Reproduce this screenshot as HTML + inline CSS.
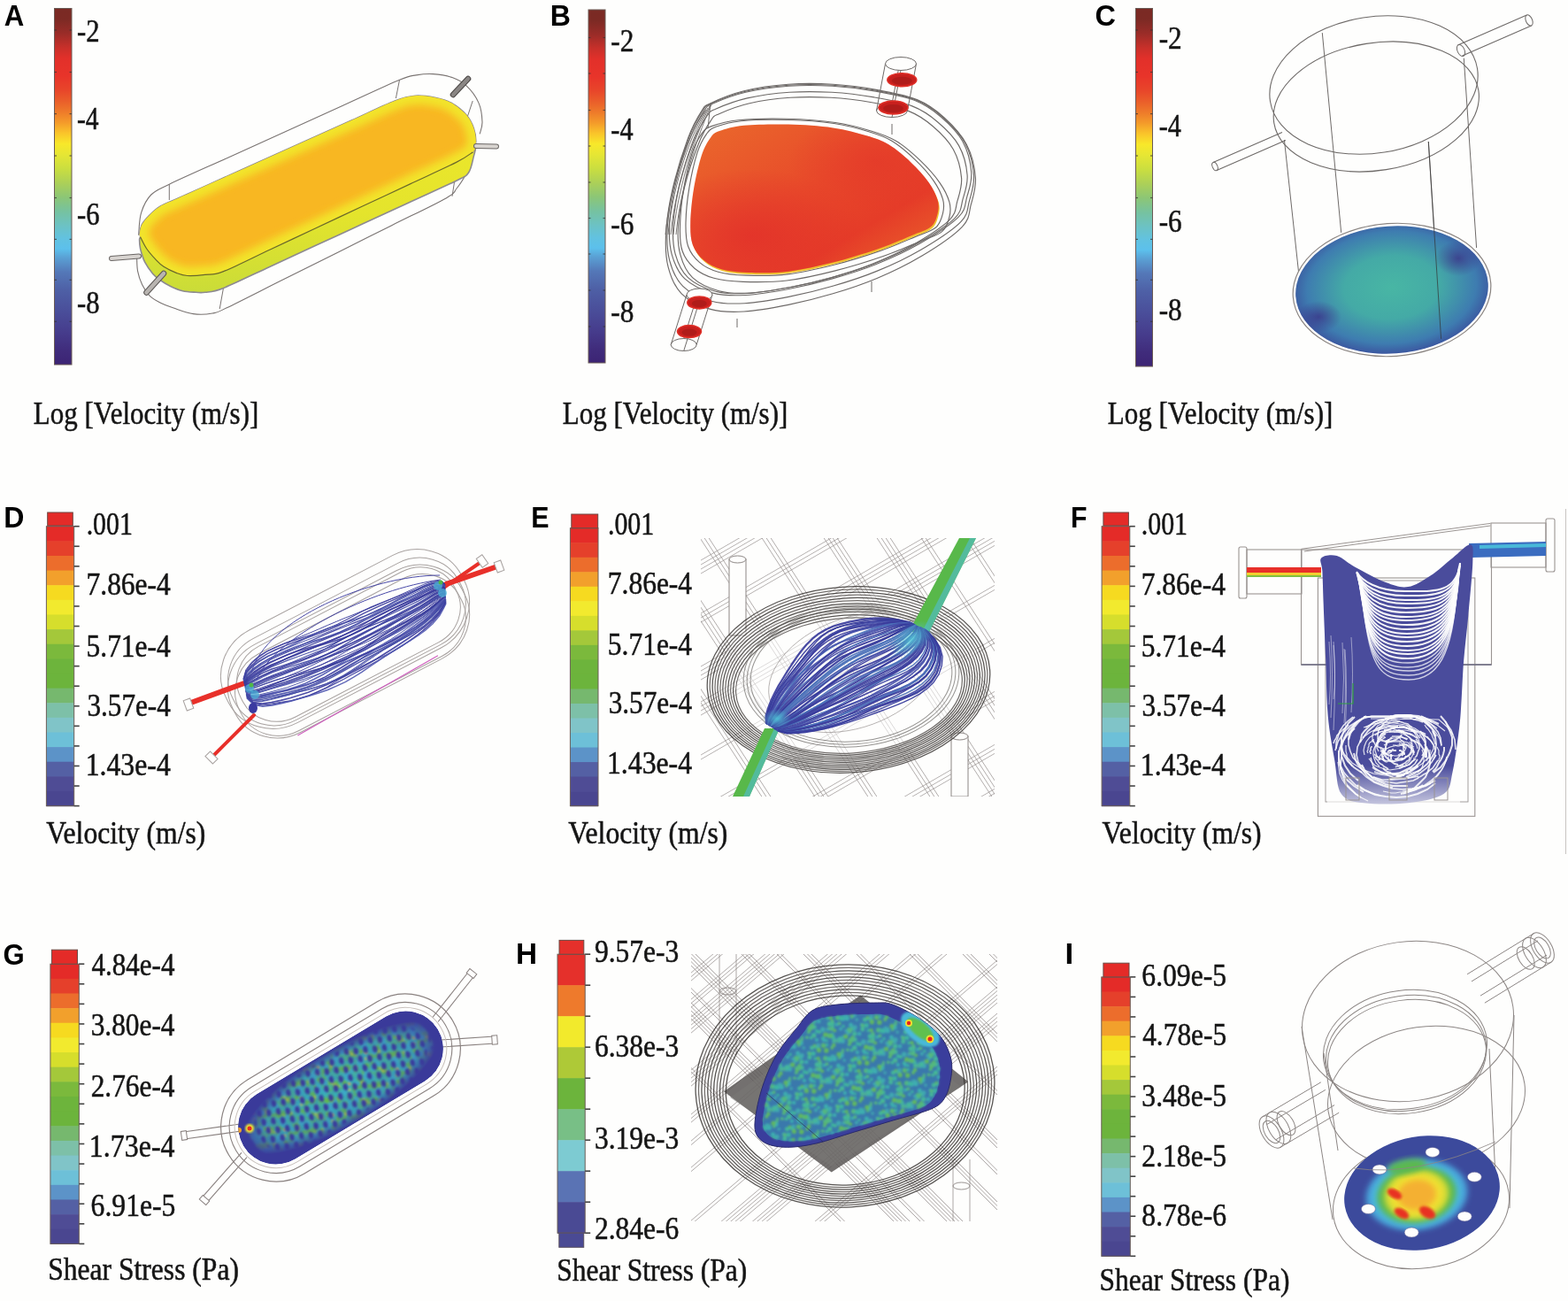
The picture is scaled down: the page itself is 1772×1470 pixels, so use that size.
<!DOCTYPE html>
<html><head><meta charset="utf-8"><title>Figure</title>
<style>html,body{margin:0;padding:0;background:#fefefd;} svg{display:block;}</style></head>
<body>
<svg width="1772" height="1470" viewBox="0 0 1772 1470">
<defs><linearGradient id="jet" x1="0" y1="0" x2="0" y2="1"><stop offset="0" stop-color="#7a2a24"/><stop offset="0.03" stop-color="#7c2a24"/><stop offset="0.07" stop-color="#9a2c28"/><stop offset="0.11" stop-color="#c8302a"/><stop offset="0.14" stop-color="#e2302a"/><stop offset="0.19" stop-color="#e8342a"/><stop offset="0.23" stop-color="#e8462a"/><stop offset="0.26" stop-color="#ea5e2a"/><stop offset="0.29" stop-color="#ee7a2a"/><stop offset="0.32" stop-color="#f49a2a"/><stop offset="0.35" stop-color="#fac42a"/><stop offset="0.38" stop-color="#f8e82a"/><stop offset="0.41" stop-color="#e6e634"/><stop offset="0.45" stop-color="#cade40"/><stop offset="0.49" stop-color="#acd058"/><stop offset="0.53" stop-color="#8cc676"/><stop offset="0.57" stop-color="#76c2a0"/><stop offset="0.61" stop-color="#6cc2c4"/><stop offset="0.645" stop-color="#62c2e0"/><stop offset="0.675" stop-color="#5cc0ec"/><stop offset="0.7" stop-color="#5aa0d4"/><stop offset="0.74" stop-color="#5478b8"/><stop offset="0.79" stop-color="#4e60a6"/><stop offset="0.85" stop-color="#4a4e9a"/><stop offset="0.91" stop-color="#463c8c"/><stop offset="0.96" stop-color="#402c7c"/><stop offset="1" stop-color="#3c2474"/></linearGradient></defs>
<rect width="1772" height="1470" fill="#fefefd"/>
<defs><clipPath id="Atop"><path d="M158.6,267.8 C157.3,264.8 157.8,265.1 158.1,262.7 C158.4,260.3 158.8,256.7 160.6,253.5 C162.4,250.3 165.4,246.8 168.8,243.4 C172.2,240.0 175.6,236.4 181.0,233.2 C186.4,230.0 189.8,229.2 201.3,224.0 C212.9,218.8 234.0,209.3 250.3,202.0 C266.6,194.7 283.0,187.3 299.3,180.0 C315.6,172.7 332.0,165.3 348.3,158.0 C364.6,150.7 381.0,143.3 397.3,136.0 C413.6,128.7 434.3,118.6 446.3,114.0 C458.3,109.4 461.7,108.8 469.4,108.2 C477.1,107.6 485.8,109.2 492.5,110.5 C499.2,111.8 504.1,113.0 509.9,116.3 C515.7,119.6 523.0,125.4 527.3,130.2 C531.5,135.0 533.7,140.1 535.4,145.2 C537.1,150.2 537.9,156.0 537.7,160.5 C537.5,165.0 537.9,168.2 534.2,172.0 C530.5,175.8 527.6,177.4 515.7,183.4 C503.8,189.4 480.5,199.9 463.0,208.1 C445.4,216.3 427.8,224.6 410.2,232.8 C392.6,241.0 375.1,249.3 357.5,257.5 C339.9,265.7 322.3,274.0 304.7,282.2 C287.2,290.4 264.2,302.2 252.0,306.9 C239.8,311.6 238.6,309.6 231.8,310.4 C225.1,311.2 216.9,311.8 211.5,311.5 C206.1,311.2 203.7,310.1 199.3,308.4 C194.9,306.7 188.9,303.8 185.0,301.3 C181.1,298.8 179.1,296.6 175.9,293.2 C172.7,289.8 168.6,285.2 165.7,281.0 C162.8,276.8 159.9,270.9 158.6,267.8Z"/></clipPath><filter id="blurA" x="-20%" y="-20%" width="140%" height="140%"><feGaussianBlur stdDeviation="4"/></filter><linearGradient id="Aside" x1="0" y1="0" x2="0" y2="1"><stop offset="0" stop-color="#f0e82a"/><stop offset="0.6" stop-color="#e4e42c"/><stop offset="1" stop-color="#cadc38"/></linearGradient></defs>
<path d="M156.6,265.7 C157.1,261.5 157.2,247.9 159.6,240.3 C162.0,232.7 165.5,225.3 170.8,220.0 C176.1,214.7 177.0,215.1 191.3,208.2 C205.6,201.3 234.7,188.5 256.4,178.7 C278.0,168.9 299.7,159.1 321.4,149.2 C343.1,139.4 364.8,129.6 386.4,119.8 C408.1,109.9 437.5,96.1 451.5,90.3 C465.5,84.5 464.1,86.0 470.4,84.9 C476.7,83.8 482.6,83.1 489.4,83.6 C496.2,84.0 504.7,85.3 511.0,87.6 C517.3,89.8 522.3,92.3 527.3,97.1 C532.3,101.8 537.9,109.3 540.9,116.1 C543.9,122.9 544.8,131.9 545.0,137.8 C545.2,143.7 542.7,149.1 542.2,151.3" fill="none" stroke="#7a7472" stroke-width="1.1"/>
<path d="M154.6,291.0 C154.8,293.6 154.6,301.3 155.6,306.4 C156.6,311.5 158.4,317.0 160.6,321.6 C162.8,326.2 165.4,330.4 168.8,333.8 C172.2,337.2 176.4,339.6 181.0,342.0 C185.6,344.4 190.0,345.9 196.2,348.0 C202.4,350.1 211.1,353.6 218.4,354.6 C225.7,355.6 233.8,355.1 240.1,354.0 C246.4,352.9 243.3,354.0 256.3,347.8 C269.3,341.6 297.6,327.1 318.2,316.8 C338.9,306.5 359.6,296.2 380.2,285.9 C400.9,275.5 421.5,265.2 442.2,254.9 C462.8,244.6 491.8,230.9 504.1,223.9 C516.4,216.9 512.4,217.3 516.0,213.0 C519.6,208.7 523.2,202.9 526.0,198.0 C528.8,193.1 531.7,186.2 532.8,183.8" fill="none" stroke="#7a7472" stroke-width="1.1"/>
<line x1="191.3" y1="208.2" x2="191.3" y2="226" stroke="#7a7472" stroke-width="1"/>
<line x1="451.5" y1="90.3" x2="447.4" y2="111" stroke="#7a7472" stroke-width="1"/>
<line x1="253.6" y1="319.3" x2="248.2" y2="349.1" stroke="#7a7472" stroke-width="1"/>
<line x1="516.5" y1="186.5" x2="511" y2="221.8" stroke="#7a7472" stroke-width="1"/>
<line x1="534.2" y1="114" x2="527.3" y2="134.8" stroke="#7a7472" stroke-width="1"/>
<path d="M158.6,267.8 C158.7,266.4 157.8,265.1 158.1,262.7 C158.4,260.3 158.8,256.7 160.6,253.5 C162.4,250.3 165.4,246.8 168.8,243.4 C172.2,240.0 175.6,236.4 181.0,233.2 C186.4,230.0 189.8,229.2 201.3,224.0 C212.9,218.8 234.0,209.3 250.3,202.0 C266.6,194.7 283.0,187.3 299.3,180.0 C315.6,172.7 332.0,165.3 348.3,158.0 C364.6,150.7 381.0,143.3 397.3,136.0 C413.6,128.7 434.3,118.6 446.3,114.0 C458.3,109.4 461.7,108.8 469.4,108.2 C477.1,107.6 485.8,109.2 492.5,110.5 C499.2,111.8 504.1,113.0 509.9,116.3 C515.7,119.6 523.0,125.4 527.3,130.2 C531.5,135.0 533.7,140.1 535.4,145.2 C537.1,150.2 537.9,156.0 537.7,160.5 C537.5,165.0 534.2,171.2 534.2,172.0 C534.2,172.8 537.5,164.3 537.7,165.0 C537.9,165.7 536.8,171.4 535.4,176.4 C534.0,181.4 532.9,190.4 529.6,195.0 C526.3,199.6 526.8,198.6 515.7,204.2 C504.6,209.8 480.5,220.4 463.0,228.5 C445.4,236.6 427.8,244.7 410.2,252.8 C392.6,260.9 375.1,269.0 357.5,277.1 C339.9,285.2 322.3,293.3 304.7,301.4 C287.2,309.5 264.2,320.9 252.0,325.7 C239.8,330.5 236.9,329.5 231.8,330.3 C226.7,331.1 225.8,330.6 221.6,330.3 C217.4,330.0 211.1,329.8 206.4,328.7 C201.7,327.6 197.4,325.7 193.2,323.7 C189.0,321.7 184.4,318.9 181.0,316.5 C177.6,314.1 175.7,312.8 172.8,309.4 C169.9,306.0 166.1,300.9 163.7,296.2 C161.3,291.5 159.6,285.2 158.6,281.0 C157.6,276.8 157.6,273.0 157.6,270.8 C157.6,268.6 158.5,269.2 158.6,267.8Z" fill="url(#Aside)" stroke="#8d8a90" stroke-width="1.6"/>
<g clip-path="url(#Atop)"><path d="M158.6,267.8 C157.3,264.8 157.8,265.1 158.1,262.7 C158.4,260.3 158.8,256.7 160.6,253.5 C162.4,250.3 165.4,246.8 168.8,243.4 C172.2,240.0 175.6,236.4 181.0,233.2 C186.4,230.0 189.8,229.2 201.3,224.0 C212.9,218.8 234.0,209.3 250.3,202.0 C266.6,194.7 283.0,187.3 299.3,180.0 C315.6,172.7 332.0,165.3 348.3,158.0 C364.6,150.7 381.0,143.3 397.3,136.0 C413.6,128.7 434.3,118.6 446.3,114.0 C458.3,109.4 461.7,108.8 469.4,108.2 C477.1,107.6 485.8,109.2 492.5,110.5 C499.2,111.8 504.1,113.0 509.9,116.3 C515.7,119.6 523.0,125.4 527.3,130.2 C531.5,135.0 533.7,140.1 535.4,145.2 C537.1,150.2 537.9,156.0 537.7,160.5 C537.5,165.0 537.9,168.2 534.2,172.0 C530.5,175.8 527.6,177.4 515.7,183.4 C503.8,189.4 480.5,199.9 463.0,208.1 C445.4,216.3 427.8,224.6 410.2,232.8 C392.6,241.0 375.1,249.3 357.5,257.5 C339.9,265.7 322.3,274.0 304.7,282.2 C287.2,290.4 264.2,302.2 252.0,306.9 C239.8,311.6 238.6,309.6 231.8,310.4 C225.1,311.2 216.9,311.8 211.5,311.5 C206.1,311.2 203.7,310.1 199.3,308.4 C194.9,306.7 188.9,303.8 185.0,301.3 C181.1,298.8 179.1,296.6 175.9,293.2 C172.7,289.8 168.6,285.2 165.7,281.0 C162.8,276.8 159.9,270.9 158.6,267.8Z" fill="#f8b722"/><path d="M158.6,267.8 C157.3,264.8 157.8,265.1 158.1,262.7 C158.4,260.3 158.8,256.7 160.6,253.5 C162.4,250.3 165.4,246.8 168.8,243.4 C172.2,240.0 175.6,236.4 181.0,233.2 C186.4,230.0 189.8,229.2 201.3,224.0 C212.9,218.8 234.0,209.3 250.3,202.0 C266.6,194.7 283.0,187.3 299.3,180.0 C315.6,172.7 332.0,165.3 348.3,158.0 C364.6,150.7 381.0,143.3 397.3,136.0 C413.6,128.7 434.3,118.6 446.3,114.0 C458.3,109.4 461.7,108.8 469.4,108.2 C477.1,107.6 485.8,109.2 492.5,110.5 C499.2,111.8 504.1,113.0 509.9,116.3 C515.7,119.6 523.0,125.4 527.3,130.2 C531.5,135.0 533.7,140.1 535.4,145.2 C537.1,150.2 537.9,156.0 537.7,160.5 C537.5,165.0 537.9,168.2 534.2,172.0 C530.5,175.8 527.6,177.4 515.7,183.4 C503.8,189.4 480.5,199.9 463.0,208.1 C445.4,216.3 427.8,224.6 410.2,232.8 C392.6,241.0 375.1,249.3 357.5,257.5 C339.9,265.7 322.3,274.0 304.7,282.2 C287.2,290.4 264.2,302.2 252.0,306.9 C239.8,311.6 238.6,309.6 231.8,310.4 C225.1,311.2 216.9,311.8 211.5,311.5 C206.1,311.2 203.7,310.1 199.3,308.4 C194.9,306.7 188.9,303.8 185.0,301.3 C181.1,298.8 179.1,296.6 175.9,293.2 C172.7,289.8 168.6,285.2 165.7,281.0 C162.8,276.8 159.9,270.9 158.6,267.8Z" fill="none" stroke="#f2e42c" stroke-width="20" filter="url(#blurA)"/></g>
<path d="M534.2,172.0 C531.1,173.9 527.6,177.4 515.7,183.4 C503.8,189.4 480.5,199.9 463.0,208.1 C445.4,216.3 427.8,224.6 410.2,232.8 C392.6,241.0 375.1,249.3 357.5,257.5 C339.9,265.7 322.3,274.0 304.7,282.2 C287.2,290.4 264.2,302.2 252.0,306.9 C239.8,311.6 238.6,309.6 231.8,310.4 C225.1,311.2 216.9,311.8 211.5,311.5 C206.1,311.2 203.7,310.1 199.3,308.4 C194.9,306.7 188.9,303.8 185.0,301.3 C181.1,298.8 179.1,296.6 175.9,293.2 C172.7,289.8 168.6,285.2 165.7,281.0 C162.8,276.8 159.8,270.0 158.6,267.8" fill="none" stroke="#4a4a2a" stroke-width="1.2" opacity="0.8"/>
<line x1="126" y1="292" x2="157" y2="289.5" stroke="#6a6664" stroke-width="6" stroke-linecap="round"/><line x1="126" y1="292" x2="157" y2="289.5" stroke="#d8d4d0" stroke-width="4" stroke-linecap="round"/>
<line x1="538" y1="165" x2="561" y2="165.5" stroke="#6a6664" stroke-width="6" stroke-linecap="round"/><line x1="538" y1="165" x2="561" y2="165.5" stroke="#d8d4d0" stroke-width="4" stroke-linecap="round"/>
<line x1="165.5" y1="330.5" x2="185" y2="309" stroke="#5a5654" stroke-width="6.5" stroke-linecap="round"/><line x1="165.5" y1="330.5" x2="185" y2="309" stroke="#b8b4b0" stroke-width="4.5" stroke-linecap="round"/>
<line x1="512" y1="107" x2="529" y2="89" stroke="#4a4644" stroke-width="6.5" stroke-linecap="round"/><line x1="512" y1="107" x2="529" y2="89" stroke="#8a8684" stroke-width="4.5" stroke-linecap="round"/>
<path d="M802.9,116.7 C810.9,112.9 826.0,106.4 840.7,102.8 C855.4,99.2 874.2,96.5 891.0,95.3 C907.8,94.0 924.5,94.2 941.3,95.3 C958.1,96.3 975.7,98.7 991.6,101.6 C1007.5,104.5 1024.3,107.7 1036.9,112.9 C1049.5,118.1 1057.9,124.6 1067.1,133.0 C1076.3,141.4 1086.4,151.9 1092.3,163.2 C1098.2,174.5 1101.6,189.7 1102.4,201.0 C1103.2,212.3 1099.8,222.0 1097.3,231.2 C1094.8,240.4 1096.5,246.7 1087.3,256.3 C1078.1,265.9 1058.0,279.4 1042.0,289.0 C1026.0,298.6 1008.4,307.1 991.6,314.2 C974.8,321.3 958.1,326.8 941.3,331.8 C924.5,336.8 907.8,341.0 891.0,344.4 C874.2,347.8 855.4,351.2 840.7,352.0 C826.0,352.8 814.6,352.8 802.9,349.4 C791.1,346.0 778.2,339.8 770.2,331.8 C762.2,323.8 758.0,312.9 755.1,301.6 C752.2,290.3 751.8,278.6 752.6,263.9 C753.4,249.2 755.9,231.6 760.1,213.6 C764.3,195.6 772.2,170.4 777.7,155.7 C783.2,141.0 788.6,132.0 792.8,125.5 C797.0,119.0 794.9,120.5 802.9,116.7Z" fill="none" stroke="#6e6a68" stroke-width="1.15"/>
<path d="M804.0,116.8 C811.9,113.2 826.9,106.9 841.5,103.5 C856.0,100.1 874.7,97.5 891.3,96.3 C907.8,95.1 924.4,95.3 941.0,96.3 C957.6,97.3 975.1,99.5 990.8,102.3 C1006.6,105.2 1023.2,108.2 1035.7,113.2 C1048.1,118.2 1056.4,124.4 1065.6,132.5 C1074.7,140.5 1084.7,150.6 1090.5,161.5 C1096.4,172.4 1099.7,186.9 1100.5,197.8 C1101.4,208.7 1098.0,217.9 1095.5,226.8 C1093.0,235.6 1094.7,241.6 1085.6,250.9 C1076.5,260.1 1056.5,273.0 1040.7,282.3 C1024.9,291.5 1007.5,299.6 990.8,306.4 C974.2,313.3 957.6,318.5 941.0,323.3 C924.4,328.2 907.8,332.2 891.3,335.4 C874.7,338.7 856.0,341.9 841.5,342.7 C826.9,343.5 815.7,343.5 804.0,340.2 C792.4,337.0 779.5,331.0 771.7,323.3 C763.8,315.7 759.6,305.2 756.7,294.3 C753.8,283.5 753.4,272.2 754.2,258.2 C755.1,244.1 757.5,227.2 761.7,209.9 C765.8,192.6 773.7,168.4 779.1,154.3 C784.5,140.2 789.9,131.5 794.0,125.3 C798.2,119.1 796.1,120.5 804.0,116.8Z" fill="none" stroke="#6e6a68" stroke-width="1.15"/>
<path d="M805.7,117.0 C813.5,113.5 828.3,107.5 842.6,104.2 C856.9,100.9 875.3,98.5 891.6,97.3 C908.0,96.1 924.3,96.3 940.7,97.3 C957.0,98.3 974.2,100.4 989.7,103.1 C1005.2,105.8 1021.6,108.7 1033.9,113.5 C1046.1,118.3 1054.3,124.3 1063.3,132.0 C1072.3,139.7 1082.2,149.3 1087.9,159.8 C1093.6,170.2 1096.9,184.1 1097.7,194.5 C1098.6,205.0 1095.2,213.8 1092.8,222.3 C1090.3,230.8 1092.0,236.6 1083.0,245.4 C1074.0,254.3 1054.4,266.6 1038.9,275.5 C1023.3,284.4 1006.1,292.1 989.7,298.7 C973.3,305.3 957.0,310.2 940.7,314.9 C924.3,319.5 908.0,323.4 891.6,326.5 C875.3,329.6 856.9,332.7 842.6,333.5 C828.3,334.2 817.2,334.2 805.7,331.1 C794.3,328.0 781.6,322.2 773.8,314.9 C766.1,307.6 762.0,297.5 759.1,287.1 C756.3,276.7 755.9,265.9 756.7,252.4 C757.5,238.9 759.9,222.7 764.0,206.1 C768.1,189.5 775.8,166.4 781.2,152.9 C786.5,139.4 791.8,131.1 795.9,125.1 C800.0,119.1 797.9,120.5 805.7,117.0Z" fill="none" stroke="#6e6a68" stroke-width="1.15"/>
<path d="M808.6,123.2 C816.1,119.9 830.5,114.1 844.5,110.9 C858.4,107.8 876.3,105.4 892.3,104.3 C908.2,103.2 924.1,103.4 940.0,104.3 C956.0,105.2 972.7,107.3 987.8,109.9 C1003.0,112.5 1018.9,115.2 1030.9,119.9 C1042.8,124.5 1050.8,130.2 1059.5,137.7 C1068.3,145.1 1077.9,154.4 1083.5,164.4 C1089.1,174.4 1092.3,187.8 1093.1,197.8 C1093.9,207.9 1090.6,216.4 1088.2,224.6 C1085.8,232.7 1087.5,238.3 1078.7,246.8 C1070.0,255.3 1050.9,267.2 1035.7,275.7 C1020.5,284.3 1003.8,291.7 987.8,298.0 C971.9,304.3 956.0,309.1 940.0,313.6 C924.1,318.1 908.2,321.8 892.3,324.8 C876.3,327.7 858.4,330.7 844.5,331.5 C830.5,332.2 819.7,332.2 808.6,329.2 C797.4,326.2 785.1,320.7 777.5,313.6 C769.9,306.6 765.9,296.9 763.1,286.9 C760.4,276.9 760.0,266.5 760.8,253.5 C761.6,240.5 763.9,225.0 767.9,209.0 C771.9,193.0 779.4,170.7 784.6,157.8 C789.8,144.8 795.0,136.8 799.0,131.0 C803.0,125.3 801.0,126.6 808.6,123.2Z" fill="none" stroke="#6e6a68" stroke-width="1.15"/>
<path d="M812.5,128.7 C819.8,125.5 833.7,119.8 847.1,116.8 C860.5,113.7 877.8,111.4 893.1,110.3 C908.5,109.2 923.8,109.4 939.2,110.3 C954.5,111.2 970.6,113.2 985.2,115.7 C999.8,118.2 1015.1,120.9 1026.6,125.4 C1038.1,129.9 1045.8,135.5 1054.3,142.7 C1062.7,149.9 1071.9,158.9 1077.3,168.7 C1082.7,178.4 1085.8,191.5 1086.6,201.2 C1087.3,210.9 1084.2,219.2 1081.9,227.2 C1079.6,235.1 1081.2,240.5 1072.7,248.8 C1064.3,257.0 1045.9,268.6 1031.3,276.9 C1016.7,285.2 1000.5,292.4 985.2,298.6 C969.8,304.7 954.5,309.4 939.2,313.7 C923.8,318.0 908.5,321.6 893.1,324.5 C877.8,327.4 860.5,330.3 847.1,331.1 C833.7,331.8 823.3,331.7 812.5,328.8 C801.8,325.9 789.9,320.5 782.6,313.7 C775.3,306.8 771.5,297.5 768.8,287.7 C766.1,278.0 765.7,267.9 766.5,255.3 C767.3,242.7 769.5,227.5 773.4,212.0 C777.2,196.5 784.5,174.9 789.5,162.2 C794.4,149.6 799.4,141.9 803.3,136.3 C807.1,130.7 805.2,132.0 812.5,128.7Z" fill="none" stroke="#6e6a68" stroke-width="1.15"/>
<path d="M809.0,143.3 C815.6,140.9 824.3,138.0 837.9,136.7 C851.4,135.4 872.7,135.0 890.2,135.5 C907.6,135.9 927.2,137.3 942.5,139.5 C957.7,141.7 970.9,145.4 981.8,148.7 C992.7,152.0 999.2,153.9 1007.9,159.2 C1016.6,164.5 1026.3,172.9 1034.1,180.4 C1042.0,187.9 1049.8,196.7 1055.0,204.1 C1060.2,211.6 1063.8,219.1 1065.5,225.2 C1067.3,231.4 1066.8,235.8 1065.5,241.1 C1064.2,246.4 1062.8,252.5 1057.6,257.0 C1052.4,261.4 1044.6,263.1 1034.1,267.6 C1023.6,272.0 1010.1,278.1 994.8,283.4 C979.5,288.7 959.9,294.9 942.5,299.3 C925.0,303.7 906.7,307.9 890.2,309.9 C873.6,311.9 856.1,311.6 843.1,311.1 C830.0,310.7 820.4,309.7 811.6,307.2 C802.9,304.8 796.4,301.5 790.7,296.6 C785.1,291.8 780.3,285.7 777.6,278.2 C775.0,270.7 774.8,262.7 775.0,251.7 C775.2,240.7 776.7,225.3 778.9,212.1 C781.1,198.9 784.8,182.6 788.0,172.4 C791.3,162.3 795.0,156.2 798.5,151.3 C802.0,146.5 802.5,145.8 809.0,143.3Z" fill="none" stroke="#6e6a68" stroke-width="1.15"/>
<path d="M804.1,142.6 C811.0,140.0 820.1,137.0 834.3,135.7 C848.5,134.3 870.8,133.9 889.1,134.3 C907.4,134.8 927.9,136.2 944.0,138.5 C960.0,140.8 973.7,144.7 985.2,148.2 C996.6,151.6 1003.4,153.7 1012.5,159.2 C1021.7,164.7 1031.8,173.6 1040.0,181.4 C1048.2,189.3 1056.4,198.4 1061.9,206.3 C1067.4,214.1 1071.1,221.9 1072.9,228.4 C1074.7,234.8 1074.3,239.5 1072.9,245.0 C1071.5,250.5 1070.1,257.0 1064.6,261.6 C1059.1,266.2 1051.0,268.1 1040.0,272.7 C1029.0,277.3 1014.8,283.8 998.8,289.3 C982.8,294.9 962.2,301.3 944.0,305.9 C925.7,310.6 906.5,315.0 889.1,317.0 C871.8,319.1 853.5,318.8 839.7,318.4 C826.0,317.9 816.0,316.8 806.8,314.3 C797.7,311.8 790.9,308.3 784.9,303.2 C779.0,298.1 773.9,291.7 771.2,283.8 C768.4,276.0 768.2,267.6 768.5,256.1 C768.7,244.6 770.2,228.5 772.5,214.6 C774.8,200.8 778.7,183.7 782.1,173.1 C785.5,162.4 789.4,156.0 793.1,150.9 C796.8,145.9 797.2,145.1 804.1,142.6Z" fill="none" stroke="#6e6a68" stroke-width="1.15"/>
<path d="M804,118 C785,160 768,220 764,265" fill="none" stroke="#6e6a68" stroke-width="0.9"/>
<path d="M802,120 C782,160 765,220 761,265" fill="none" stroke="#6e6a68" stroke-width="0.9"/>
<path d="M800,122 C779,160 762,220 758,265" fill="none" stroke="#6e6a68" stroke-width="0.9"/>
<path d="M798,124 C776,160 759,220 755,265" fill="none" stroke="#6e6a68" stroke-width="0.9"/>
<path d="M796,126 C773,160 756,220 752,265" fill="none" stroke="#6e6a68" stroke-width="0.9"/>
<defs><linearGradient id="Bg" x1="0" y1="0" x2="1" y2="1"><stop offset="0" stop-color="#ea6a2c"/><stop offset="0.45" stop-color="#e84a2a"/><stop offset="0.7" stop-color="#e53c28"/><stop offset="1" stop-color="#eb6a2c"/></linearGradient><radialGradient id="Bg2" cx="0.25" cy="0.75" r="0.45"><stop offset="0" stop-color="#e2302a" stop-opacity="0.8"/><stop offset="1" stop-color="#e2302a" stop-opacity="0"/></radialGradient><radialGradient id="Bg3" cx="0.75" cy="0.25" r="0.35"><stop offset="0" stop-color="#e3352a" stop-opacity="0.6"/><stop offset="1" stop-color="#e3352a" stop-opacity="0"/></radialGradient></defs>
<path d="M813.0,148.1 C819.3,145.8 827.7,143.1 840.7,141.8 C853.7,140.6 874.2,140.2 891.0,140.6 C907.8,141.0 926.6,142.3 941.3,144.4 C956.0,146.5 968.6,150.1 979.1,153.2 C989.6,156.3 995.8,158.2 1004.2,163.2 C1012.6,168.2 1021.9,176.3 1029.4,183.4 C1037.0,190.5 1044.5,198.9 1049.5,206.0 C1054.5,213.1 1057.9,220.2 1059.6,226.1 C1061.3,232.0 1060.9,236.2 1059.6,241.2 C1058.3,246.2 1057.0,252.1 1052.0,256.3 C1047.0,260.5 1039.5,262.2 1029.4,266.4 C1019.3,270.6 1006.3,276.5 991.6,281.5 C976.9,286.5 958.1,292.4 941.3,296.6 C924.5,300.8 906.9,304.8 891.0,306.7 C875.1,308.6 858.3,308.3 845.7,307.9 C833.1,307.5 823.9,306.5 815.5,304.2 C807.1,301.9 800.9,298.7 795.4,294.1 C789.9,289.5 785.3,283.6 782.8,276.5 C780.3,269.4 780.1,261.8 780.3,251.3 C780.5,240.8 781.9,226.2 784.0,213.6 C786.1,201.0 789.6,185.5 792.8,175.8 C795.9,166.2 799.5,160.3 802.9,155.7 C806.3,151.1 806.7,150.4 813.0,148.1Z" fill="#f0c030" transform="translate(1,2)"/>
<path d="M813.0,148.1 C819.3,145.8 827.7,143.1 840.7,141.8 C853.7,140.6 874.2,140.2 891.0,140.6 C907.8,141.0 926.6,142.3 941.3,144.4 C956.0,146.5 968.6,150.1 979.1,153.2 C989.6,156.3 995.8,158.2 1004.2,163.2 C1012.6,168.2 1021.9,176.3 1029.4,183.4 C1037.0,190.5 1044.5,198.9 1049.5,206.0 C1054.5,213.1 1057.9,220.2 1059.6,226.1 C1061.3,232.0 1060.9,236.2 1059.6,241.2 C1058.3,246.2 1057.0,252.1 1052.0,256.3 C1047.0,260.5 1039.5,262.2 1029.4,266.4 C1019.3,270.6 1006.3,276.5 991.6,281.5 C976.9,286.5 958.1,292.4 941.3,296.6 C924.5,300.8 906.9,304.8 891.0,306.7 C875.1,308.6 858.3,308.3 845.7,307.9 C833.1,307.5 823.9,306.5 815.5,304.2 C807.1,301.9 800.9,298.7 795.4,294.1 C789.9,289.5 785.3,283.6 782.8,276.5 C780.3,269.4 780.1,261.8 780.3,251.3 C780.5,240.8 781.9,226.2 784.0,213.6 C786.1,201.0 789.6,185.5 792.8,175.8 C795.9,166.2 799.5,160.3 802.9,155.7 C806.3,151.1 806.7,150.4 813.0,148.1Z" fill="url(#Bg)"/>
<path d="M813.0,148.1 C819.3,145.8 827.7,143.1 840.7,141.8 C853.7,140.6 874.2,140.2 891.0,140.6 C907.8,141.0 926.6,142.3 941.3,144.4 C956.0,146.5 968.6,150.1 979.1,153.2 C989.6,156.3 995.8,158.2 1004.2,163.2 C1012.6,168.2 1021.9,176.3 1029.4,183.4 C1037.0,190.5 1044.5,198.9 1049.5,206.0 C1054.5,213.1 1057.9,220.2 1059.6,226.1 C1061.3,232.0 1060.9,236.2 1059.6,241.2 C1058.3,246.2 1057.0,252.1 1052.0,256.3 C1047.0,260.5 1039.5,262.2 1029.4,266.4 C1019.3,270.6 1006.3,276.5 991.6,281.5 C976.9,286.5 958.1,292.4 941.3,296.6 C924.5,300.8 906.9,304.8 891.0,306.7 C875.1,308.6 858.3,308.3 845.7,307.9 C833.1,307.5 823.9,306.5 815.5,304.2 C807.1,301.9 800.9,298.7 795.4,294.1 C789.9,289.5 785.3,283.6 782.8,276.5 C780.3,269.4 780.1,261.8 780.3,251.3 C780.5,240.8 781.9,226.2 784.0,213.6 C786.1,201.0 789.6,185.5 792.8,175.8 C795.9,166.2 799.5,160.3 802.9,155.7 C806.3,151.1 806.7,150.4 813.0,148.1Z" fill="url(#Bg2)"/>
<path d="M813.0,148.1 C819.3,145.8 827.7,143.1 840.7,141.8 C853.7,140.6 874.2,140.2 891.0,140.6 C907.8,141.0 926.6,142.3 941.3,144.4 C956.0,146.5 968.6,150.1 979.1,153.2 C989.6,156.3 995.8,158.2 1004.2,163.2 C1012.6,168.2 1021.9,176.3 1029.4,183.4 C1037.0,190.5 1044.5,198.9 1049.5,206.0 C1054.5,213.1 1057.9,220.2 1059.6,226.1 C1061.3,232.0 1060.9,236.2 1059.6,241.2 C1058.3,246.2 1057.0,252.1 1052.0,256.3 C1047.0,260.5 1039.5,262.2 1029.4,266.4 C1019.3,270.6 1006.3,276.5 991.6,281.5 C976.9,286.5 958.1,292.4 941.3,296.6 C924.5,300.8 906.9,304.8 891.0,306.7 C875.1,308.6 858.3,308.3 845.7,307.9 C833.1,307.5 823.9,306.5 815.5,304.2 C807.1,301.9 800.9,298.7 795.4,294.1 C789.9,289.5 785.3,283.6 782.8,276.5 C780.3,269.4 780.1,261.8 780.3,251.3 C780.5,240.8 781.9,226.2 784.0,213.6 C786.1,201.0 789.6,185.5 792.8,175.8 C795.9,166.2 799.5,160.3 802.9,155.7 C806.3,151.1 806.7,150.4 813.0,148.1Z" fill="url(#Bg3)"/>
<line x1="802.9" y1="116.7" x2="800" y2="145" stroke="#6e6a68" stroke-width="1"/>
<line x1="1008" y1="140" x2="1008" y2="152" stroke="#6e6a68" stroke-width="1"/>
<line x1="833" y1="360" x2="833" y2="370" stroke="#6e6a68" stroke-width="1"/>
<line x1="985" y1="318" x2="985" y2="330" stroke="#6e6a68" stroke-width="1"/>
<path d="M1000.5,72 L990.5,125 M1035.5,72 L1025.5,125 M1018,64.5 L1008,117.5 M1018,79.5 L1008,132.5" stroke="#6e6a68" stroke-width="1" fill="none"/>
<ellipse cx="1018" cy="72" rx="17.5" ry="7.5" fill="#fefefd" stroke="#6e6a68" stroke-width="1"/>
<ellipse cx="1008" cy="125" rx="17.5" ry="7.5" fill="none" stroke="#6e6a68" stroke-width="1"/>
<ellipse cx="1019.3" cy="90.3" rx="16.5" ry="7.5" fill="#c8201e" stroke="#e03028" stroke-width="1.5"/>
<ellipse cx="1019.3" cy="91.3" rx="11.5" ry="4.5" fill="#a01a18" opacity="0.6"/>
<ellipse cx="1009.5" cy="121.5" rx="16.5" ry="7.5" fill="#c8201e" stroke="#e03028" stroke-width="1.5"/>
<ellipse cx="1009.5" cy="122.5" rx="11.5" ry="4.5" fill="#a01a18" opacity="0.6"/>
<path d="M776.0,333 L758.2,389.5 M805.0,333 L787.2,389.5 M790.5,326 L772.7,382.5 M790.5,340 L772.7,396.5" stroke="#6e6a68" stroke-width="1" fill="none"/>
<ellipse cx="790.5" cy="333" rx="14.5" ry="7" fill="#fefefd" stroke="#6e6a68" stroke-width="1"/>
<ellipse cx="772.7" cy="389.5" rx="14.5" ry="7" fill="none" stroke="#6e6a68" stroke-width="1"/>
<ellipse cx="790.3" cy="341.9" rx="13.5" ry="7" fill="#c8201e" stroke="#e03028" stroke-width="1.5"/>
<ellipse cx="790.3" cy="342.9" rx="8.5" ry="4" fill="#a01a18" opacity="0.6"/>
<ellipse cx="779" cy="374.6" rx="13.5" ry="7" fill="#c8201e" stroke="#e03028" stroke-width="1.5"/>
<ellipse cx="779" cy="375.6" rx="8.5" ry="4" fill="#a01a18" opacity="0.6"/>
<defs><radialGradient id="Cg" cx="0.5" cy="0.48" r="0.55"><stop offset="0" stop-color="#48b6a4"/><stop offset="0.45" stop-color="#44aaa6"/><stop offset="0.8" stop-color="#3e7cb0"/><stop offset="1" stop-color="#3a4a9a"/></radialGradient><radialGradient id="Cd1" cx="0.5" cy="0.5" r="0.5"><stop offset="0" stop-color="#3a2a82" stop-opacity="0.7"/><stop offset="1" stop-color="#3a2a82" stop-opacity="0"/></radialGradient></defs>
<ellipse cx="1552.5" cy="96" rx="118.5" ry="77" transform="rotate(-9 1552.5 96)" fill="none" stroke="#6e6a68" stroke-width="1.1"/>
<ellipse cx="1555.3" cy="120.5" rx="117" ry="72" transform="rotate(-9 1555.3 120.5)" fill="none" stroke="#6e6a68" stroke-width="1.1"/>
<line x1="1494.3" y1="37.1" x2="1515.7" y2="262.9" stroke="#6e6a68" stroke-width="1"/>
<line x1="1654.3" y1="65.7" x2="1668.6" y2="280" stroke="#6e6a68" stroke-width="1"/>
<line x1="1451.4" y1="158" x2="1470" y2="330" stroke="#6e6a68" stroke-width="1"/>
<line x1="1614.3" y1="160" x2="1628.6" y2="382.9" stroke="#6e6a68" stroke-width="1"/>
<ellipse cx="1573" cy="327.5" rx="112" ry="75" transform="rotate(-4 1573 327.5)" fill="#fefefd" stroke="#8a8480" stroke-width="1.2"/>
<ellipse cx="1573" cy="327.5" rx="109" ry="72" transform="rotate(-4 1573 327.5)" fill="url(#Cg)"/>
<defs><clipPath id="Cclip"><ellipse cx="1573" cy="327.5" rx="109" ry="72" transform="rotate(-4 1573 327.5)"/></clipPath></defs>
<g clip-path="url(#Cclip)"><ellipse cx="1490" cy="358" rx="26" ry="18" fill="url(#Cd1)"/><ellipse cx="1648" cy="292" rx="26" ry="20" fill="url(#Cd1)"/></g>
<line x1="1614.3" y1="160" x2="1628.6" y2="382.9" stroke="#333" stroke-width="1" opacity="0.7"/>
<path d="M1375.0,192.6 L1453.0,158.6 M1371.0,183.4 L1449.0,149.4" stroke="#6e6a68" stroke-width="1.1" fill="none"/><ellipse cx="1373" cy="188" rx="2.8" ry="5.0" transform="rotate(-23.6 1373 188)" fill="none" stroke="#6e6a68" stroke-width="1"/>
<path d="M1725.4,17.0 L1647.4,51.0 M1730.6,29.0 L1652.6,63.0" stroke="#6e6a68" stroke-width="1.1" fill="none"/><ellipse cx="1728" cy="23" rx="3.6" ry="6.5" transform="rotate(156.4 1728 23)" fill="none" stroke="#6e6a68" stroke-width="1"/>
<ellipse cx="1651" cy="57" rx="4" ry="7" transform="rotate(-24 1651 57)" fill="none" stroke="#6e6a68" stroke-width="1"/>
<rect x="240.0" y="663.0" width="300.0" height="118.0" rx="59.0" ry="56.0" transform="rotate(-27.5 390 722)" fill="none" stroke="#a8a2a0" stroke-width="1"/>
<rect x="248.0" y="673.0" width="288.0" height="104.0" rx="52.0" ry="49.4" transform="rotate(-27.5 392 725)" fill="none" stroke="#a8a2a0" stroke-width="1"/>
<rect x="258.0" y="683.0" width="272.0" height="90.0" rx="45.0" ry="42.8" transform="rotate(-27.5 394 728)" fill="none" stroke="#a8a2a0" stroke-width="1"/>
<rect x="248.0" y="680.0" width="292.0" height="112.0" rx="56.0" ry="53.2" transform="rotate(-27.5 394 736)" fill="none" stroke="#a8a2a0" stroke-width="1"/>
<rect x="256.0" y="691.0" width="280.0" height="98.0" rx="49.0" ry="46.5" transform="rotate(-27.5 396 740)" fill="none" stroke="#a8a2a0" stroke-width="1"/>
<line x1="336.4" y1="831" x2="494.9" y2="740.8" stroke="#d060c0" stroke-width="1.2"/>
<line x1="213" y1="795" x2="276" y2="772" stroke="#e8302a" stroke-width="6" stroke-linecap="round"/>
<line x1="240" y1="855" x2="287" y2="808" stroke="#e8302a" stroke-width="4" stroke-linecap="round"/>
<line x1="504" y1="660" x2="562" y2="640" stroke="#e8302a" stroke-width="6" stroke-linecap="round"/>
<line x1="500" y1="665" x2="545" y2="634" stroke="#e8302a" stroke-width="4" stroke-linecap="round"/>
<rect x="209" y="790" width="8" height="12" transform="rotate(-20 213 796)" fill="#fefefd" stroke="#a8a2a0" stroke-width="1"/>
<rect x="235" y="850" width="8" height="12" transform="rotate(-45 239 856)" fill="#fefefd" stroke="#a8a2a0" stroke-width="1"/>
<rect x="560" y="634" width="8" height="12" transform="rotate(-20 564 640)" fill="#fefefd" stroke="#a8a2a0" stroke-width="1"/>
<rect x="541" y="628" width="8" height="12" transform="rotate(-35 545 634)" fill="#fefefd" stroke="#a8a2a0" stroke-width="1"/>
<path d="M275.0,767.1 L277.9,756.8 L284.2,748.3 L292.4,741.4 L301.5,735.8 L311.2,731.4 L321.1,727.2 L331.0,723.1 L340.9,719.0 L350.7,714.9 L360.6,710.7 L370.4,706.4 L380.2,702.3 L390.1,698.2 L400.0,694.3 L409.9,690.2 L419.9,686.2 L429.8,682.1 L439.6,677.8 L449.4,673.5 L459.1,669.1 L468.9,664.7 L478.7,660.4 L488.7,656.8 L499.2,656.4 L503.0,660.1" fill="none" stroke="#35389a" stroke-width="1.0" stroke-linejoin="round" opacity="0.9"/>
<path d="M275.1,767.6 L278.2,757.8 L284.5,749.3 L292.5,742.2 L301.4,736.2 L311.0,731.6 L320.9,727.4 L331.1,723.9 L341.4,720.6 L351.7,717.3 L361.9,713.8 L371.8,709.8 L381.5,705.3 L391.0,700.5 L400.4,695.5 L409.8,690.5 L419.5,685.9 L429.3,681.7 L439.3,677.7 L449.4,674.0 L459.4,670.2 L469.4,666.2 L479.2,661.9 L489.1,658.1 L499.3,657.2 L503.0,660.6" fill="none" stroke="#3a3a9c" stroke-width="1.2" stroke-linejoin="round" opacity="0.9"/>
<path d="M275.2,768.3 L278.5,759.2 L285.0,751.2 L293.2,744.4 L302.2,738.6 L311.8,734.0 L321.6,729.8 L331.7,725.9 L341.8,722.3 L352.0,718.8 L362.1,715.2 L372.1,711.3 L382.0,707.2 L391.7,702.7 L401.3,698.1 L410.8,693.2 L420.4,688.6 L430.1,684.1 L439.9,679.8 L449.8,675.6 L459.8,671.6 L469.6,667.5 L479.4,663.2 L489.3,659.3 L499.4,658.2 L503.1,661.3" fill="none" stroke="#3a3a9c" stroke-width="1.4" stroke-linejoin="round" opacity="0.9"/>
<path d="M275.3,768.7 L278.6,759.9 L285.4,752.4 L293.9,746.3 L303.2,741.2 L313.0,736.9 L322.7,732.3 L332.3,727.6 L341.8,722.8 L351.4,718.1 L361.1,713.7 L371.1,709.7 L381.3,706.3 L391.6,703.1 L402.0,699.9 L412.1,696.2 L422.0,692.2 L431.6,687.5 L441.0,682.4 L450.4,677.2 L459.9,672.3 L469.5,667.5 L479.2,663.2 L489.1,659.5 L499.4,658.6 L503.1,661.7" fill="none" stroke="#4048a4" stroke-width="1.4" stroke-linejoin="round" opacity="0.9"/>
<path d="M275.4,769.3 L278.9,760.9 L285.6,753.5 L294.0,747.1 L303.1,741.7 L312.8,737.2 L322.6,732.9 L332.6,728.9 L342.5,724.9 L352.6,721.1 L362.6,717.3 L372.6,713.3 L382.5,709.3 L392.4,705.2 L402.2,700.9 L411.8,696.3 L421.5,691.7 L431.1,687.1 L440.8,682.5 L450.5,678.1 L460.3,673.7 L470.1,669.3 L479.8,664.9 L489.5,660.9 L499.5,659.5 L503.1,662.3" fill="none" stroke="#4048a4" stroke-width="1.0" stroke-linejoin="round" opacity="0.9"/>
<path d="M275.6,770.1 L279.2,762.4 L286.1,755.4 L294.7,749.5 L304.0,744.5 L313.9,740.3 L323.7,736.1 L333.6,732.0 L343.4,727.6 L353.1,723.2 L362.9,718.9 L372.8,714.6 L382.7,710.6 L392.7,706.7 L402.7,702.9 L412.6,698.8 L422.5,694.7 L432.2,690.2 L441.8,685.4 L451.4,680.6 L460.9,675.8 L470.5,671.0 L480.0,666.3 L489.7,662.1 L499.5,660.6 L503.1,663.1" fill="none" stroke="#35389a" stroke-width="1.2" stroke-linejoin="round" opacity="0.9"/>
<path d="M275.6,770.4 L279.4,763.1 L286.3,756.3 L294.8,750.0 L303.8,744.3 L313.3,739.6 L323.0,735.1 L333.0,731.2 L343.2,727.6 L353.6,724.5 L364.0,721.4 L374.3,718.0 L384.3,714.1 L394.0,709.7 L403.5,704.8 L412.7,699.3 L422.0,694.0 L431.4,688.9 L441.0,684.1 L450.8,679.8 L460.8,675.7 L470.7,671.7 L480.4,667.4 L490.1,663.1 L499.7,661.1 L503.2,663.4" fill="none" stroke="#5058b0" stroke-width="1.4" stroke-linejoin="round" opacity="0.9"/>
<path d="M275.7,770.9 L279.5,763.8 L286.5,757.2 L295.1,751.2 L304.3,745.9 L314.0,741.5 L323.8,737.2 L333.8,733.3 L343.9,729.4 L354.0,725.8 L364.1,722.1 L374.1,718.2 L384.1,714.2 L393.9,709.9 L403.6,705.4 L413.1,700.5 L422.6,695.6 L432.2,690.8 L441.8,686.1 L451.5,681.5 L461.2,677.1 L471.0,672.7 L480.6,668.1 L490.1,663.7 L499.7,661.7 L503.2,663.9" fill="none" stroke="#4048a4" stroke-width="1.2" stroke-linejoin="round" opacity="0.9"/>
<path d="M275.8,771.6 L279.8,765.1 L287.0,758.9 L295.7,753.2 L305.1,748.3 L314.9,744.2 L324.7,739.9 L334.6,735.8 L344.5,731.6 L354.4,727.5 L364.4,723.4 L374.3,719.4 L384.3,715.4 L394.3,711.4 L404.1,707.3 L413.9,702.8 L423.5,698.2 L433.1,693.4 L442.6,688.5 L452.2,683.6 L461.7,678.9 L471.3,674.1 L480.8,669.3 L490.3,664.9 L499.7,662.6 L503.2,664.6" fill="none" stroke="#35389a" stroke-width="1.2" stroke-linejoin="round" opacity="0.9"/>
<path d="M275.9,772.1 L280.1,766.1 L287.3,760.0 L295.9,754.1 L305.0,748.8 L314.7,744.3 L324.5,740.0 L334.6,736.3 L344.9,733.0 L355.3,729.9 L365.7,726.7 L375.9,723.1 L385.7,718.9 L395.3,714.2 L404.7,708.9 L413.9,703.4 L423.1,698.0 L432.6,692.9 L442.2,688.2 L452.0,683.9 L461.9,679.8 L471.7,675.5 L481.3,670.9 L490.7,666.2 L499.9,663.5 L503.2,665.1" fill="none" stroke="#3a3a9c" stroke-width="1.6" stroke-linejoin="round" opacity="0.9"/>
<path d="M276.1,772.8 L280.2,767.2 L287.6,761.6 L296.5,756.2 L305.9,751.5 L315.9,747.5 L325.8,743.4 L335.7,739.5 L345.7,735.4 L355.6,731.3 L365.5,727.2 L375.5,723.0 L385.3,718.8 L395.2,714.6 L405.0,710.3 L414.7,705.7 L424.3,701.0 L433.9,696.3 L443.5,691.4 L453.0,686.5 L462.6,681.7 L472.1,676.8 L481.4,671.8 L490.7,667.1 L499.9,664.3 L503.3,665.8" fill="none" stroke="#3c3c9e" stroke-width="1.4" stroke-linejoin="round" opacity="0.9"/>
<path d="M276.1,773.1 L280.5,768.1 L288.1,762.8 L296.9,757.5 L306.2,752.5 L315.9,747.9 L325.5,743.2 L335.2,738.9 L345.2,734.8 L355.4,731.2 L365.7,728.0 L376.1,724.8 L386.4,721.4 L396.5,717.6 L406.2,713.0 L415.5,707.8 L424.7,702.2 L433.9,696.6 L443.1,691.1 L452.6,686.0 L462.2,681.4 L471.9,676.9 L481.5,672.4 L490.9,667.8 L500.0,664.9 L503.3,666.1" fill="none" stroke="#35389a" stroke-width="1.6" stroke-linejoin="round" opacity="0.9"/>
<path d="M276.2,773.7 L280.6,769.0 L288.2,763.7 L297.0,758.4 L306.4,753.6 L316.3,749.6 L326.3,745.6 L336.4,742.0 L346.6,738.3 L356.8,734.7 L366.9,730.9 L376.8,726.9 L386.6,722.4 L396.2,717.7 L405.7,712.8 L415.1,707.6 L424.6,702.6 L434.2,697.7 L443.8,693.0 L453.5,688.4 L463.2,683.8 L472.7,679.1 L482.0,674.0 L491.2,669.0 L500.0,665.7 L503.3,666.7" fill="none" stroke="#4048a4" stroke-width="1.2" stroke-linejoin="round" opacity="0.9"/>
<path d="M276.4,774.5 L280.8,770.2 L288.4,765.1 L297.4,760.1 L307.1,756.0 L317.4,752.8 L327.7,749.5 L338.1,746.4 L348.2,742.6 L358.1,738.3 L367.6,733.4 L377.0,728.0 L386.2,722.7 L395.7,717.6 L405.3,712.9 L415.2,708.5 L425.2,704.6 L435.2,700.7 L445.1,696.5 L454.8,692.0 L464.3,687.0 L473.5,681.5 L482.5,675.8 L491.4,670.3 L500.0,666.7 L503.3,667.5" fill="none" stroke="#35389a" stroke-width="1.4" stroke-linejoin="round" opacity="0.9"/>
<path d="M276.5,775.0 L281.2,771.5 L289.1,767.1 L298.3,762.5 L307.9,758.0 L317.7,754.0 L327.5,749.6 L337.3,745.3 L347.2,741.0 L357.2,737.1 L367.3,733.2 L377.4,729.6 L387.6,725.8 L397.6,722.0 L407.4,717.6 L417.0,712.7 L426.4,707.5 L435.6,702.0 L444.9,696.5 L454.2,691.2 L463.6,686.2 L473.1,681.2 L482.4,676.2 L491.5,671.1 L500.1,667.5 L503.4,668.0" fill="none" stroke="#4048a4" stroke-width="1.2" stroke-linejoin="round" opacity="0.9"/>
<path d="M276.5,775.4 L281.2,771.9 L289.1,767.4 L298.2,762.7 L307.9,758.5 L318.0,754.9 L328.1,751.2 L338.2,747.6 L348.3,743.7 L358.3,739.7 L368.1,735.3 L377.8,730.8 L387.5,726.1 L397.1,721.4 L406.8,716.6 L416.4,711.9 L426.1,707.3 L435.7,702.6 L445.4,697.8 L454.9,693.0 L464.4,688.0 L473.7,682.8 L482.8,677.3 L491.7,671.8 L500.2,667.9 L503.4,668.4" fill="none" stroke="#3a3a9c" stroke-width="1.4" stroke-linejoin="round" opacity="0.9"/>
<path d="M276.7,776.1 L281.5,773.2 L289.4,768.9 L298.4,764.0 L308.0,759.7 L318.1,756.1 L328.4,752.8 L338.9,749.9 L349.3,746.7 L359.7,743.3 L369.6,739.2 L379.3,734.5 L388.6,729.1 L397.8,723.5 L407.0,717.9 L416.3,712.5 L425.9,707.6 L435.6,703.2 L445.5,698.9 L455.4,694.6 L465.1,690.1 L474.4,685.0 L483.4,679.3 L492.1,673.5 L500.3,669.0 L503.4,669.1" fill="none" stroke="#4048a4" stroke-width="1.4" stroke-linejoin="round" opacity="0.9"/>
<path d="M276.8,776.8 L281.8,774.5 L290.0,770.9 L299.3,766.6 L309.0,762.5 L319.1,758.8 L329.1,754.9 L339.2,751.2 L349.2,747.2 L359.2,743.2 L369.2,739.1 L379.1,734.9 L388.9,730.5 L398.7,726.0 L408.3,721.3 L417.9,716.3 L427.3,711.2 L436.8,706.1 L446.2,700.9 L455.6,695.8 L465.0,690.7 L474.4,685.5 L483.4,680.0 L492.1,674.3 L500.3,669.9 L503.4,669.8" fill="none" stroke="#5058b0" stroke-width="1.0" stroke-linejoin="round" opacity="0.9"/>
<path d="M276.8,777.0 L281.9,774.9 L290.1,771.4 L299.5,767.2 L309.3,763.3 L319.5,759.9 L329.5,756.1 L339.6,752.4 L349.6,748.3 L359.5,744.1 L369.3,739.6 L379.1,735.1 L388.8,730.5 L398.6,726.1 L408.3,721.5 L418.0,716.8 L427.6,712.1 L437.2,707.2 L446.6,702.1 L456.0,696.8 L465.3,691.6 L474.5,686.1 L483.5,680.4 L492.2,674.7 L500.3,670.2 L503.5,670.0" fill="none" stroke="#35389a" stroke-width="1.4" stroke-linejoin="round" opacity="0.9"/>
<path d="M276.9,777.6 L282.1,776.0 L290.4,772.6 L299.8,768.5 L309.6,764.5 L319.7,761.1 L329.9,757.5 L340.1,754.1 L350.2,750.3 L360.3,746.4 L370.2,742.1 L380.0,737.6 L389.6,732.8 L399.2,727.9 L408.7,722.8 L418.2,717.8 L427.7,712.8 L437.3,708.0 L446.8,703.1 L456.3,698.1 L465.8,693.0 L475.0,687.6 L483.9,681.9 L492.5,675.9 L500.4,671.1 L503.5,670.6" fill="none" stroke="#3a3a9c" stroke-width="1.4" stroke-linejoin="round" opacity="0.9"/>
<path d="M277.0,778.0 L282.4,776.9 L290.9,774.0 L300.3,770.1 L310.1,766.1 L320.0,762.2 L329.9,758.0 L339.8,754.0 L349.8,749.9 L360.0,746.2 L370.1,742.4 L380.3,738.7 L390.4,734.7 L400.3,730.5 L409.9,725.7 L419.3,720.4 L428.5,714.8 L437.6,709.1 L446.8,703.5 L456.1,698.1 L465.5,692.9 L474.9,687.8 L483.9,682.3 L492.6,676.6 L500.5,671.7 L503.5,671.0" fill="none" stroke="#4048a4" stroke-width="1.4" stroke-linejoin="round" opacity="0.9"/>
<path d="M277.1,778.8 L282.6,778.2 L291.3,775.8 L301.0,772.3 L311.0,768.9 L321.2,765.6 L331.2,761.6 L341.0,757.4 L350.7,752.7 L360.4,748.0 L370.2,743.4 L380.1,739.2 L390.1,735.1 L400.2,731.3 L410.2,727.2 L420.1,722.8 L429.6,717.9 L439.0,712.6 L448.1,706.8 L457.1,700.9 L466.2,695.1 L475.3,689.3 L484.1,683.5 L492.7,677.7 L500.5,672.6 L503.5,671.8" fill="none" stroke="#35389a" stroke-width="1.0" stroke-linejoin="round" opacity="0.9"/>
<path d="M277.2,779.1 L282.7,778.6 L291.1,775.9 L300.7,772.1 L310.7,768.6 L321.0,765.6 L331.4,762.4 L341.8,759.3 L352.0,755.7 L362.1,751.7 L371.7,746.9 L381.2,741.8 L390.6,736.4 L399.9,731.1 L409.4,725.9 L419.0,721.0 L428.7,716.4 L438.4,711.8 L448.1,707.2 L457.7,702.3 L467.0,697.0 L476.1,691.3 L484.7,685.1 L493.0,678.7 L500.6,673.1 L503.6,672.1" fill="none" stroke="#35389a" stroke-width="1.0" stroke-linejoin="round" opacity="0.9"/>
<path d="M277.3,779.9 L283.1,780.2 L291.9,778.3 L301.7,774.9 L311.6,771.5 L321.8,768.0 L331.8,764.1 L341.8,760.1 L351.6,755.8 L361.6,751.7 L371.6,747.5 L381.6,743.4 L391.6,739.3 L401.5,735.0 L411.2,730.4 L420.7,725.3 L430.1,720.0 L439.3,714.4 L448.5,708.6 L457.6,703.0 L466.8,697.4 L476.0,691.9 L484.8,686.0 L493.2,679.9 L500.7,674.2 L503.6,672.9" fill="none" stroke="#3a3a9c" stroke-width="1.0" stroke-linejoin="round" opacity="0.9"/>
<path d="M277.5,780.6 L283.4,781.6 L292.3,779.8 L301.9,776.2 L311.6,772.3 L321.6,768.5 L331.6,764.6 L341.9,761.2 L352.3,757.9 L362.8,754.9 L373.2,751.5 L383.4,747.8 L393.2,743.3 L402.7,738.2 L411.8,732.3 L420.8,726.1 L429.7,719.9 L438.8,714.1 L448.1,708.7 L457.6,703.7 L467.2,698.8 L476.6,693.7 L485.5,688.0 L493.7,681.5 L500.8,675.3 L503.6,673.6" fill="none" stroke="#35389a" stroke-width="1.6" stroke-linejoin="round" opacity="0.9"/>
<path d="M277.5,780.8 L283.4,781.9 L292.4,780.3 L302.2,777.1 L312.3,773.9 L322.6,770.7 L332.7,767.1 L342.9,763.5 L352.9,759.4 L362.8,755.3 L372.7,750.8 L382.5,746.3 L392.2,741.6 L401.9,737.0 L411.6,732.1 L421.1,727.1 L430.6,721.9 L439.9,716.6 L449.2,711.2 L458.5,705.7 L467.7,700.1 L476.7,694.3 L485.4,688.1 L493.5,681.6 L500.8,675.5 L503.6,673.8" fill="none" stroke="#35389a" stroke-width="1.6" stroke-linejoin="round" opacity="0.9"/>
<path d="M277.6,781.5 L283.7,783.1 L292.8,781.9 L302.7,778.9 L312.8,775.7 L323.0,772.5 L333.2,768.8 L343.3,765.2 L353.3,761.1 L363.3,757.0 L373.2,752.6 L383.1,748.3 L392.9,743.8 L402.7,739.1 L412.3,734.2 L421.7,729.1 L431.1,723.7 L440.4,718.2 L449.6,712.6 L458.8,707.0 L468.0,701.4 L477.0,695.6 L485.7,689.4 L493.8,682.8 L500.9,676.5 L503.7,674.5" fill="none" stroke="#35389a" stroke-width="1.6" stroke-linejoin="round" opacity="0.9"/>
<path d="M277.7,781.9 L283.8,783.7 L292.8,782.5 L302.7,779.5 L312.9,776.4 L323.3,773.6 L333.7,770.4 L344.1,767.3 L354.3,763.6 L364.4,759.7 L374.1,755.0 L383.7,750.0 L393.1,744.6 L402.5,739.3 L411.9,734.0 L421.4,728.8 L430.9,723.8 L440.5,718.9 L450.0,713.9 L459.4,708.7 L468.7,703.1 L477.6,697.2 L486.1,690.7 L494.0,683.7 L500.9,677.1 L503.7,674.9" fill="none" stroke="#5058b0" stroke-width="1.2" stroke-linejoin="round" opacity="0.9"/>
<path d="M277.9,782.7 L284.2,785.3 L293.5,784.8 L303.7,782.4 L314.0,779.7 L324.4,776.8 L334.5,773.1 L344.6,769.2 L354.3,764.6 L364.1,760.1 L373.8,755.2 L383.6,750.8 L393.5,746.3 L403.5,742.1 L413.3,737.7 L423.0,733.0 L432.5,727.8 L441.8,722.3 L450.9,716.4 L459.8,710.3 L468.8,704.2 L477.6,698.0 L486.1,691.6 L494.1,684.8 L501.0,678.1 L503.7,675.7" fill="none" stroke="#4048a4" stroke-width="1.0" stroke-linejoin="round" opacity="0.9"/>
<path d="M278.0,783.3 L284.4,786.3 L293.8,786.0 L304.1,783.8 L314.6,781.5 L325.2,779.0 L335.5,775.7 L345.6,771.9 L355.3,767.2 L364.8,762.2 L374.2,756.8 L383.8,751.7 L393.5,746.9 L403.4,742.6 L413.4,738.4 L423.3,734.1 L433.0,729.5 L442.5,724.4 L451.7,718.7 L460.6,712.5 L469.4,706.1 L478.1,699.6 L486.4,692.8 L494.3,685.8 L501.0,678.9 L503.7,676.3" fill="none" stroke="#5058b0" stroke-width="1.6" stroke-linejoin="round" opacity="0.9"/>
<path d="M278.1,783.9 L284.5,787.2 L293.9,787.0 L304.2,784.7 L314.6,782.3 L325.3,780.0 L335.8,777.1 L346.3,774.1 L356.4,770.1 L366.2,765.6 L375.6,760.2 L384.9,754.7 L394.2,749.0 L403.7,743.8 L413.2,738.7 L422.9,734.0 L432.7,729.4 L442.4,724.7 L451.9,719.6 L461.1,714.1 L470.1,708.1 L478.8,701.6 L487.0,694.5 L494.6,687.1 L501.1,679.8 L503.8,676.9" fill="none" stroke="#3a3a9c" stroke-width="1.6" stroke-linejoin="round" opacity="0.9"/>
<path d="M278.1,784.2 L284.8,788.0 L294.2,787.8 L304.2,785.1 L314.4,782.1 L324.8,779.3 L335.2,776.3 L345.8,773.5 L356.3,770.4 L366.7,767.0 L376.7,762.8 L386.4,758.0 L395.7,752.4 L404.9,746.5 L413.9,740.3 L423.0,734.4 L432.2,728.7 L441.6,723.5 L451.2,718.5 L460.7,713.5 L470.0,708.2 L479.0,702.3 L487.4,695.6 L494.9,688.1 L501.2,680.3 L503.8,677.2" fill="none" stroke="#5058b0" stroke-width="1.2" stroke-linejoin="round" opacity="0.9"/>
<path d="M278.2,784.7 L284.9,788.8 L294.5,789.0 L304.8,786.9 L315.3,784.6 L325.9,782.3 L336.4,779.4 L346.9,776.2 L356.9,772.2 L366.8,767.8 L376.3,762.5 L385.7,757.2 L395.0,751.6 L404.5,746.4 L414.1,741.3 L423.7,736.5 L433.4,731.7 L443.0,726.8 L452.4,721.5 L461.6,715.8 L470.5,709.7 L479.2,703.2 L487.4,696.2 L494.9,688.6 L501.2,680.9 L503.8,677.7" fill="none" stroke="#4048a4" stroke-width="1.6" stroke-linejoin="round" opacity="0.9"/>
<path d="M278.3,785.4 L285.2,790.0 L294.9,790.6 L305.3,788.6 L315.8,786.4 L326.4,784.0 L336.8,780.9 L347.2,777.7 L357.3,773.6 L367.2,769.3 L376.8,764.3 L386.4,759.2 L395.8,753.9 L405.3,748.7 L414.8,743.6 L424.4,738.5 L433.9,733.4 L443.4,728.2 L452.7,722.7 L461.8,717.0 L470.8,710.9 L479.5,704.4 L487.7,697.4 L495.1,689.8 L501.3,681.8 L503.8,678.4" fill="none" stroke="#4048a4" stroke-width="1.4" stroke-linejoin="round" opacity="0.9"/>
<path d="M278.5,786.1 L285.5,791.4 L295.3,792.1 L305.5,790.0 L315.9,787.4 L326.4,784.9 L336.9,782.0 L347.6,779.4 L358.1,776.2 L368.5,772.8 L378.4,768.3 L388.0,763.3 L397.2,757.5 L406.3,751.4 L415.3,745.2 L424.4,739.2 L433.6,733.6 L443.1,728.4 L452.6,723.3 L462.1,718.2 L471.3,712.7 L480.1,706.5 L488.3,699.4 L495.6,691.5 L501.4,683.0 L503.9,679.1" fill="none" stroke="#4048a4" stroke-width="1.2" stroke-linejoin="round" opacity="0.9"/>
<path d="M278.5,786.3 L285.6,791.8 L295.4,792.7 L305.7,790.6 L316.1,788.0 L326.5,785.2 L336.9,782.1 L347.5,779.3 L357.9,776.0 L368.4,772.7 L378.4,768.5 L388.2,763.8 L397.6,758.4 L406.8,752.6 L415.8,746.4 L424.8,740.3 L433.9,734.3 L443.2,728.8 L452.6,723.4 L462.0,718.1 L471.2,712.6 L480.1,706.6 L488.3,699.6 L495.6,691.8 L501.4,683.2 L503.9,679.3" fill="none" stroke="#4048a4" stroke-width="1.0" stroke-linejoin="round" opacity="0.9"/>
<path d="M278.7,787.2 L286.0,793.4 L296.1,795.0 L306.7,793.5 L317.2,791.4 L327.7,788.8 L338.1,785.5 L348.4,782.2 L358.4,778.1 L368.5,774.1 L378.3,769.4 L388.2,764.8 L397.8,759.9 L407.4,754.8 L416.8,749.5 L426.2,744.0 L435.4,738.3 L444.6,732.5 L453.7,726.5 L462.7,720.5 L471.6,714.4 L480.3,708.0 L488.5,700.9 L495.8,693.1 L501.5,684.4 L503.9,680.2" fill="none" stroke="#3c3c9e" stroke-width="1.6" stroke-linejoin="round" opacity="0.9"/>
<path d="M278.8,787.8 L286.0,794.1 L296.2,795.9 L307.0,794.8 L317.8,793.3 L328.8,791.6 L339.4,789.0 L349.9,785.9 L359.8,781.5 L369.4,776.5 L378.6,770.6 L387.8,764.8 L397.0,759.0 L406.6,753.8 L416.3,749.0 L426.2,744.6 L436.0,740.1 L445.7,735.2 L455.0,729.7 L463.9,723.6 L472.6,716.9 L480.9,709.7 L488.7,702.0 L495.8,693.8 L501.5,685.0 L503.9,680.8" fill="none" stroke="#35389a" stroke-width="1.0" stroke-linejoin="round" opacity="0.9"/>
<path d="M278.8,788.2 L286.3,795.1 L296.6,797.2 L307.4,796.1 L318.1,794.2 L328.7,792.0 L339.1,788.9 L349.5,785.6 L359.5,781.4 L369.4,777.1 L379.1,772.1 L388.8,767.2 L398.3,762.0 L407.9,756.9 L417.4,751.7 L426.9,746.5 L436.3,741.0 L445.5,735.3 L454.6,729.4 L463.6,723.3 L472.4,716.9 L480.9,710.2 L489.0,702.9 L496.1,694.8 L501.6,685.7 L504.0,681.2" fill="none" stroke="#3c3c9e" stroke-width="1.2" stroke-linejoin="round" opacity="0.9"/>
<path d="M278.9,788.7 L286.6,796.2 L296.9,798.4 L307.5,797.0 L318.1,794.9 L328.6,792.4 L339.0,789.3 L349.6,786.4 L360.0,783.0 L370.3,779.5 L380.3,775.2 L390.2,770.6 L399.6,765.2 L408.9,759.4 L417.9,753.2 L426.9,747.1 L436.0,740.9 L445.1,735.1 L454.3,729.4 L463.6,723.8 L472.7,718.0 L481.4,711.6 L489.4,704.4 L496.5,696.1 L501.7,686.6 L504.0,681.7" fill="none" stroke="#5058b0" stroke-width="1.4" stroke-linejoin="round" opacity="0.9"/>
<path d="M284,760 C300,700 420,650 497,650" fill="none" stroke="#4a4aa8" stroke-width="1"/>
<path d="M290,768 C310,720 420,665 498,655" fill="none" stroke="#4a4aa8" stroke-width="1"/>
<circle cx="282" cy="778" r="5" fill="#4ab8d8" opacity="0.7"/>
<circle cx="288" cy="785" r="5" fill="#4ab8d8" opacity="0.7"/>
<circle cx="495" cy="662" r="5" fill="#4ab8d8" opacity="0.7"/>
<circle cx="500" cy="670" r="5" fill="#4ab8d8" opacity="0.7"/>
<circle cx="284" cy="774" r="2.5" fill="#50b848"/><circle cx="498" cy="658" r="2.5" fill="#50b848"/>
<ellipse cx="286" cy="800" rx="5" ry="6" fill="#3a3aa0"/>
<defs><clipPath id="Eclip"><rect x="792" y="608" width="332" height="292"/></clipPath></defs>
<g clip-path="url(#Eclip)">
<line x1="640" y1="560" x2="899.7630372790043" y2="960" stroke="#8c8684" stroke-width="0.9" opacity="0.75"/>
<line x1="645" y1="560" x2="904.7630372790043" y2="960" stroke="#8c8684" stroke-width="0.9" opacity="0.75"/>
<line x1="650" y1="560" x2="909.7630372790043" y2="960" stroke="#8c8684" stroke-width="0.9" opacity="0.75"/>
<line x1="700" y1="560" x2="959.7630372790043" y2="960" stroke="#8c8684" stroke-width="0.9" opacity="0.75"/>
<line x1="705" y1="560" x2="964.7630372790043" y2="960" stroke="#8c8684" stroke-width="0.9" opacity="0.75"/>
<line x1="710" y1="560" x2="969.7630372790043" y2="960" stroke="#8c8684" stroke-width="0.9" opacity="0.75"/>
<line x1="715" y1="560" x2="974.7630372790043" y2="960" stroke="#8c8684" stroke-width="0.9" opacity="0.75"/>
<line x1="760" y1="560" x2="1019.7630372790043" y2="960" stroke="#8c8684" stroke-width="0.9" opacity="0.75"/>
<line x1="765" y1="560" x2="1024.7630372790043" y2="960" stroke="#8c8684" stroke-width="0.9" opacity="0.75"/>
<line x1="770" y1="560" x2="1029.7630372790043" y2="960" stroke="#8c8684" stroke-width="0.9" opacity="0.75"/>
<line x1="830" y1="560" x2="1089.7630372790043" y2="960" stroke="#8c8684" stroke-width="0.9" opacity="0.75"/>
<line x1="835" y1="560" x2="1094.7630372790043" y2="960" stroke="#8c8684" stroke-width="0.9" opacity="0.75"/>
<line x1="840" y1="560" x2="1099.7630372790043" y2="960" stroke="#8c8684" stroke-width="0.9" opacity="0.75"/>
<line x1="900" y1="560" x2="1159.7630372790043" y2="960" stroke="#8c8684" stroke-width="0.9" opacity="0.75"/>
<line x1="905" y1="560" x2="1164.7630372790043" y2="960" stroke="#8c8684" stroke-width="0.9" opacity="0.75"/>
<line x1="910" y1="560" x2="1169.7630372790043" y2="960" stroke="#8c8684" stroke-width="0.9" opacity="0.75"/>
<line x1="915" y1="560" x2="1174.7630372790043" y2="960" stroke="#8c8684" stroke-width="0.9" opacity="0.75"/>
<line x1="960" y1="560" x2="1219.7630372790043" y2="960" stroke="#8c8684" stroke-width="0.9" opacity="0.75"/>
<line x1="965" y1="560" x2="1224.7630372790043" y2="960" stroke="#8c8684" stroke-width="0.9" opacity="0.75"/>
<line x1="970" y1="560" x2="1229.7630372790043" y2="960" stroke="#8c8684" stroke-width="0.9" opacity="0.75"/>
<line x1="975" y1="560" x2="1234.7630372790043" y2="960" stroke="#8c8684" stroke-width="0.9" opacity="0.75"/>
<line x1="1010" y1="560" x2="1269.7630372790043" y2="960" stroke="#8c8684" stroke-width="0.9" opacity="0.75"/>
<line x1="1015" y1="560" x2="1274.7630372790043" y2="960" stroke="#8c8684" stroke-width="0.9" opacity="0.75"/>
<line x1="1060" y1="560" x2="1319.7630372790043" y2="960" stroke="#8c8684" stroke-width="0.9" opacity="0.75"/>
<line x1="1065" y1="560" x2="1324.7630372790043" y2="960" stroke="#8c8684" stroke-width="0.9" opacity="0.75"/>
<line x1="780" y1="640" x2="1140" y2="432.1539030917347" stroke="#8c8684" stroke-width="0.9" opacity="0.7"/>
<line x1="780" y1="645" x2="1140" y2="437.1539030917347" stroke="#8c8684" stroke-width="0.9" opacity="0.7"/>
<line x1="780" y1="650" x2="1140" y2="442.1539030917347" stroke="#8c8684" stroke-width="0.9" opacity="0.7"/>
<line x1="780" y1="655" x2="1140" y2="447.1539030917347" stroke="#8c8684" stroke-width="0.9" opacity="0.7"/>
<line x1="780" y1="700" x2="1140" y2="492.1539030917347" stroke="#8c8684" stroke-width="0.9" opacity="0.7"/>
<line x1="780" y1="705" x2="1140" y2="497.1539030917347" stroke="#8c8684" stroke-width="0.9" opacity="0.7"/>
<line x1="780" y1="710" x2="1140" y2="502.1539030917347" stroke="#8c8684" stroke-width="0.9" opacity="0.7"/>
<line x1="780" y1="760" x2="1140" y2="552.1539030917347" stroke="#8c8684" stroke-width="0.9" opacity="0.7"/>
<line x1="780" y1="765" x2="1140" y2="557.1539030917347" stroke="#8c8684" stroke-width="0.9" opacity="0.7"/>
<line x1="780" y1="770" x2="1140" y2="562.1539030917347" stroke="#8c8684" stroke-width="0.9" opacity="0.7"/>
<line x1="780" y1="775" x2="1140" y2="567.1539030917347" stroke="#8c8684" stroke-width="0.9" opacity="0.7"/>
<line x1="780" y1="800" x2="1140" y2="592.1539030917347" stroke="#8c8684" stroke-width="0.9" opacity="0.7"/>
<line x1="780" y1="805" x2="1140" y2="597.1539030917347" stroke="#8c8684" stroke-width="0.9" opacity="0.7"/>
<line x1="780" y1="810" x2="1140" y2="602.1539030917347" stroke="#8c8684" stroke-width="0.9" opacity="0.7"/>
<line x1="780" y1="815" x2="1140" y2="607.1539030917347" stroke="#8c8684" stroke-width="0.9" opacity="0.7"/>
<line x1="780" y1="860" x2="1140" y2="652.1539030917347" stroke="#8c8684" stroke-width="0.9" opacity="0.7"/>
<line x1="780" y1="865" x2="1140" y2="657.1539030917347" stroke="#8c8684" stroke-width="0.9" opacity="0.7"/>
<line x1="780" y1="920" x2="1140" y2="712.1539030917347" stroke="#8c8684" stroke-width="0.9" opacity="0.7"/>
<line x1="780" y1="925" x2="1140" y2="717.1539030917347" stroke="#8c8684" stroke-width="0.9" opacity="0.7"/>
<line x1="780" y1="980" x2="1140" y2="772.1539030917347" stroke="#8c8684" stroke-width="0.9" opacity="0.7"/>
<line x1="780" y1="985" x2="1140" y2="777.1539030917347" stroke="#8c8684" stroke-width="0.9" opacity="0.7"/>
<line x1="780" y1="990" x2="1140" y2="782.1539030917347" stroke="#8c8684" stroke-width="0.9" opacity="0.7"/>
<line x1="780" y1="1040" x2="1140" y2="832.1539030917347" stroke="#8c8684" stroke-width="0.9" opacity="0.7"/>
<line x1="780" y1="1045" x2="1140" y2="837.1539030917347" stroke="#8c8684" stroke-width="0.9" opacity="0.7"/>
<line x1="780" y1="1050" x2="1140" y2="842.1539030917347" stroke="#8c8684" stroke-width="0.9" opacity="0.7"/>
<line x1="780" y1="1090" x2="1140" y2="882.1539030917347" stroke="#8c8684" stroke-width="0.9" opacity="0.7"/>
<line x1="780" y1="1095" x2="1140" y2="887.1539030917347" stroke="#8c8684" stroke-width="0.9" opacity="0.7"/>
<rect x="824" y="632" width="19" height="86" fill="#fefefd" stroke="#8c8684" stroke-width="1"/>
<ellipse cx="833.5" cy="632" rx="9.5" ry="4" fill="#fefefd" stroke="#8c8684" stroke-width="1"/>
<rect x="1075" y="832" width="19" height="68" fill="#fefefd" stroke="#8c8684" stroke-width="1"/>
<ellipse cx="1084.5" cy="832" rx="9.5" ry="4" fill="#fefefd" stroke="#8c8684" stroke-width="1"/>
<ellipse cx="960" cy="768" rx="150" ry="98" transform="rotate(-4 960 768)" fill="#fefefd" opacity="0.55"/>
</g>
<ellipse cx="959" cy="768.0" rx="160.0" ry="105.0" transform="rotate(-4 959 768)" fill="none" stroke="#3a3634" stroke-width="1.25" opacity="0.85"/>
<ellipse cx="959" cy="768.6" rx="157.1" ry="102.4" transform="rotate(-4 959 768)" fill="none" stroke="#5a5654" stroke-width="1.25" opacity="0.85"/>
<ellipse cx="959" cy="769.2" rx="154.2" ry="99.8" transform="rotate(-4 959 768)" fill="none" stroke="#3a3634" stroke-width="1.25" opacity="0.85"/>
<ellipse cx="959" cy="769.8" rx="151.3" ry="97.2" transform="rotate(-4 959 768)" fill="none" stroke="#5a5654" stroke-width="1.25" opacity="0.85"/>
<ellipse cx="959" cy="770.4" rx="148.4" ry="94.6" transform="rotate(-4 959 768)" fill="none" stroke="#3a3634" stroke-width="1.25" opacity="0.85"/>
<ellipse cx="959" cy="771.0" rx="145.5" ry="92.0" transform="rotate(-4 959 768)" fill="none" stroke="#5a5654" stroke-width="1.25" opacity="0.85"/>
<ellipse cx="959" cy="771.6" rx="142.6" ry="89.4" transform="rotate(-4 959 768)" fill="none" stroke="#3a3634" stroke-width="1.25" opacity="0.85"/>
<ellipse cx="959" cy="772.2" rx="139.7" ry="86.8" transform="rotate(-4 959 768)" fill="none" stroke="#5a5654" stroke-width="1.25" opacity="0.85"/>
<ellipse cx="959" cy="772.8" rx="136.8" ry="84.2" transform="rotate(-4 959 768)" fill="none" stroke="#3a3634" stroke-width="1.25" opacity="0.85"/>
<ellipse cx="959" cy="773.4" rx="133.9" ry="81.6" transform="rotate(-4 959 768)" fill="none" stroke="#5a5654" stroke-width="1.25" opacity="0.85"/>
<ellipse cx="959" cy="774.0" rx="131.0" ry="79.0" transform="rotate(-4 959 768)" fill="none" stroke="#3a3634" stroke-width="1.25" opacity="0.85"/>
<ellipse cx="959" cy="774.6" rx="128.1" ry="76.4" transform="rotate(-4 959 768)" fill="none" stroke="#5a5654" stroke-width="1.25" opacity="0.85"/>
<ellipse cx="962" cy="764" rx="122" ry="80" transform="rotate(-4 962 764)" fill="none" stroke="#6a6664" stroke-width="1" opacity="0.7"/>
<ellipse cx="962" cy="764" rx="118" ry="77" transform="rotate(-4 962 764)" fill="none" stroke="#6a6664" stroke-width="1" opacity="0.7"/>
<ellipse cx="962" cy="764" rx="114" ry="74" transform="rotate(-4 962 764)" fill="none" stroke="#6a6664" stroke-width="1" opacity="0.7"/>
<ellipse cx="965" cy="760" rx="100" ry="62" transform="rotate(-20 965 760)" fill="none" stroke="#8c8684" stroke-width="0.8" opacity="0.7"/>
<defs><linearGradient id="Epipe" x1="0" y1="0" x2="1" y2="0"><stop offset="0" stop-color="#4cb04a"/><stop offset="0.5" stop-color="#5ebc4c"/><stop offset="0.75" stop-color="#54c0b0"/><stop offset="1" stop-color="#4ab848"/></linearGradient></defs>
<path d="M1084,608 L1103,608 L1050,714 L1027,714 Z" fill="#58b84a"/>
<path d="M1096,608 L1103,608 L1050,714 L1042,714 Z" fill="#52bcb0" opacity="0.8"/>
<path d="M864,823 L881,823 L847,900 L828,900 Z" fill="#58b84a"/>
<path d="M875,823 L881,823 L847,900 L840,900 Z" fill="#52bcb0" opacity="0.8"/>
<path d="M866.0,818.0 L865.6,808.8 L868.2,799.9 L871.5,791.3 L875.5,783.0 L879.8,774.9 L884.6,767.0 L889.5,759.0 L894.6,751.0 L899.9,743.1 L905.5,735.5 L911.5,728.3 L918.1,721.7 L925.4,715.9 L933.4,711.2 L941.9,707.5 L950.9,704.8 L960.0,702.6 L969.1,700.8 L978.3,699.5 L987.4,698.7 L996.6,698.5 L1005.9,699.1 L1015.1,700.5 L1024.2,702.4 L1028.8,703.3" fill="none" stroke="#3a3c9c" stroke-width="2.3" stroke-linejoin="round" opacity="0.92"/>
<path d="M866.4,818.3 L866.4,809.4 L869.2,800.7 L872.6,792.2 L876.7,784.0 L881.3,776.1 L886.2,768.4 L891.4,760.8 L896.8,753.2 L902.4,745.7 L908.1,738.3 L914.3,731.2 L920.9,724.5 L928.0,718.5 L935.9,713.5 L944.4,709.6 L953.3,706.6 L962.4,704.4 L971.6,702.7 L980.8,701.3 L989.8,700.4 L998.8,700.0 L1007.7,700.3 L1016.4,701.3 L1025.0,702.8 L1029.3,703.6" fill="none" stroke="#34389a" stroke-width="1.4" stroke-linejoin="round" opacity="0.92"/>
<path d="M866.7,818.4 L866.7,809.6 L869.5,800.8 L873.0,792.3 L877.1,784.2 L881.9,776.6 L887.2,769.4 L892.8,762.5 L898.5,755.4 L904.2,748.2 L909.9,740.6 L915.8,733.0 L922.1,725.6 L929.0,718.9 L936.7,713.5 L945.1,709.5 L954.2,706.8 L963.6,705.1 L973.0,703.8 L982.3,702.8 L991.4,702.0 L1000.3,701.4 L1008.8,701.2 L1017.1,701.8 L1025.5,703.0 L1029.6,703.7" fill="none" stroke="#34389a" stroke-width="1.4" stroke-linejoin="round" opacity="0.92"/>
<path d="M866.9,818.5 L867.2,810.2 L870.3,801.8 L873.9,793.5 L878.2,785.3 L882.8,777.4 L887.8,769.7 L893.2,762.2 L898.8,755.0 L904.7,747.9 L910.8,740.9 L917.2,734.2 L924.0,727.8 L931.2,721.9 L939.1,716.7 L947.5,712.5 L956.2,709.2 L965.2,706.6 L974.2,704.5 L983.3,703.0 L992.3,701.9 L1001.1,701.4 L1009.6,701.4 L1017.8,702.2 L1025.9,703.3 L1029.9,703.9" fill="none" stroke="#34389a" stroke-width="1.7" stroke-linejoin="round" opacity="0.92"/>
<path d="M867.1,818.6 L867.6,810.5 L870.7,802.1 L874.5,793.9 L878.8,785.9 L883.6,778.2 L888.9,770.8 L894.4,763.6 L900.1,756.5 L906.0,749.4 L912.1,742.4 L918.5,735.5 L925.1,728.8 L932.3,722.7 L940.2,717.5 L948.6,713.3 L957.5,710.2 L966.6,707.7 L975.7,705.8 L984.8,704.3 L993.7,703.1 L1002.3,702.3 L1010.6,702.1 L1018.5,702.5 L1026.3,703.5 L1030.2,704.0" fill="none" stroke="#4650aa" stroke-width="2.0" stroke-linejoin="round" opacity="0.92"/>
<path d="M867.3,818.8 L867.8,810.6 L871.0,802.2 L874.9,794.0 L879.3,786.2 L884.4,778.9 L889.9,771.9 L895.7,765.2 L901.6,758.4 L907.6,751.4 L913.6,744.1 L919.7,736.7 L926.1,729.6 L933.2,723.0 L940.9,717.6 L949.4,713.5 L958.5,710.7 L967.8,708.7 L977.1,707.1 L986.3,705.7 L995.1,704.5 L1003.5,703.4 L1011.5,702.8 L1019.2,702.9 L1026.7,703.6 L1030.4,704.1" fill="none" stroke="#3a3c9c" stroke-width="2.0" stroke-linejoin="round" opacity="0.92"/>
<path d="M867.6,818.9 L868.3,811.0 L871.7,803.0 L875.8,795.2 L880.4,787.7 L885.5,780.3 L890.9,773.1 L896.5,765.9 L902.2,758.5 L908.1,751.2 L914.1,743.9 L920.4,736.9 L927.3,730.4 L934.7,724.7 L942.9,720.0 L951.6,716.3 L960.6,713.4 L969.7,710.9 L978.8,708.7 L987.6,706.6 L996.1,704.9 L1004.4,703.5 L1012.2,702.8 L1019.7,703.0 L1027.1,703.8 L1030.7,704.3" fill="none" stroke="#3a3c9c" stroke-width="1.4" stroke-linejoin="round" opacity="0.92"/>
<path d="M867.8,819.0 L868.8,811.5 L872.4,803.7 L876.5,795.9 L881.2,788.2 L886.2,780.6 L891.6,773.3 L897.3,766.2 L903.3,759.3 L909.5,752.5 L915.8,745.9 L922.5,739.4 L929.5,733.1 L936.9,727.3 L944.9,722.2 L953.3,717.9 L962.1,714.4 L971.0,711.6 L980.0,709.1 L988.8,707.1 L997.4,705.5 L1005.7,704.3 L1013.4,703.6 L1020.6,703.7 L1027.6,704.1 L1031.0,704.4" fill="none" stroke="#3a3c9c" stroke-width="1.4" stroke-linejoin="round" opacity="0.92"/>
<path d="M868.0,819.2 L869.1,811.8 L872.8,803.9 L876.9,795.9 L881.5,788.1 L886.7,780.7 L892.3,773.8 L898.4,767.3 L904.7,761.0 L911.1,754.8 L917.7,748.3 L924.3,741.7 L931.0,734.9 L938.1,728.4 L945.8,722.7 L954.1,718.0 L962.8,714.4 L971.9,711.7 L981.1,709.7 L990.1,708.1 L998.8,706.7 L1007.0,705.5 L1014.5,704.5 L1021.4,704.2 L1028.1,704.4 L1031.3,704.6" fill="none" stroke="#4650aa" stroke-width="2.3" stroke-linejoin="round" opacity="0.92"/>
<path d="M868.3,819.3 L869.7,812.4 L873.7,805.0 L878.2,797.7 L883.1,790.3 L888.3,782.8 L893.7,775.3 L899.3,767.8 L905.2,760.6 L911.4,753.8 L918.0,747.4 L925.0,741.4 L932.5,735.9 L940.3,730.9 L948.6,726.3 L957.2,722.2 L965.9,718.4 L974.6,715.0 L983.2,711.8 L991.7,709.1 L999.9,706.8 L1007.8,705.2 L1015.2,704.4 L1022.1,704.3 L1028.6,704.6 L1031.7,704.8" fill="none" stroke="#4a70b8" stroke-width="2.0" stroke-linejoin="round" opacity="0.92"/>
<path d="M868.6,819.5 L870.0,812.4 L874.1,805.1 L878.8,798.1 L884.0,791.4 L889.6,784.7 L895.4,777.8 L901.2,770.6 L907.0,763.1 L912.9,755.5 L919.0,748.0 L925.6,741.1 L932.7,735.1 L940.6,730.0 L949.2,726.0 L958.3,722.8 L967.5,720.1 L976.6,717.5 L985.4,714.6 L993.8,711.6 L1001.7,708.7 L1009.2,706.3 L1016.1,704.8 L1022.6,704.4 L1028.9,704.6 L1032.0,704.9" fill="none" stroke="#4650aa" stroke-width="1.4" stroke-linejoin="round" opacity="0.92"/>
<path d="M868.8,819.6 L870.5,813.1 L874.8,806.0 L879.3,798.7 L884.3,791.1 L889.5,783.5 L895.0,776.0 L900.9,769.0 L907.2,762.4 L913.9,756.4 L921.0,750.7 L928.3,745.3 L935.8,739.9 L943.6,734.5 L951.6,729.3 L959.8,724.4 L968.2,720.0 L976.8,716.2 L985.4,713.0 L993.9,710.3 L1002.2,708.3 L1010.1,706.7 L1017.2,705.7 L1023.5,705.3 L1029.4,705.1 L1032.2,705.0" fill="none" stroke="#4650aa" stroke-width="2.3" stroke-linejoin="round" opacity="0.92"/>
<path d="M869.0,819.7 L870.9,813.3 L875.2,806.2 L880.0,799.2 L885.2,792.2 L890.8,785.2 L896.7,778.3 L902.8,771.5 L909.0,764.7 L915.5,758.1 L922.2,751.7 L929.1,745.5 L936.5,739.6 L944.3,734.2 L952.5,729.5 L961.2,725.4 L970.0,721.8 L978.9,718.6 L987.6,715.5 L996.1,712.7 L1004.1,710.1 L1011.5,707.8 L1018.2,706.2 L1024.2,705.5 L1029.9,705.2 L1032.5,705.2" fill="none" stroke="#34389a" stroke-width="1.7" stroke-linejoin="round" opacity="0.92"/>
<path d="M869.3,819.9 L871.4,813.7 L875.9,806.8 L880.8,800.0 L886.3,793.2 L892.0,786.5 L898.0,779.7 L904.2,773.0 L910.5,766.2 L917.0,759.5 L923.7,753.0 L930.7,746.8 L938.1,741.0 L945.9,735.7 L954.3,731.2 L963.1,727.2 L972.0,723.7 L980.9,720.5 L989.6,717.3 L998.0,714.2 L1005.8,711.3 L1013.0,708.8 L1019.4,706.9 L1025.1,705.9 L1030.4,705.4 L1032.9,705.4" fill="none" stroke="#34389a" stroke-width="1.4" stroke-linejoin="round" opacity="0.92"/>
<path d="M869.6,820.0 L871.8,814.1 L876.5,807.5 L881.6,800.9 L887.2,794.3 L893.0,787.5 L898.9,780.6 L905.0,773.6 L911.2,766.6 L917.7,759.8 L924.5,753.4 L931.7,747.5 L939.4,742.2 L947.5,737.4 L956.1,733.2 L964.9,729.3 L973.8,725.7 L982.6,722.1 L991.1,718.5 L999.2,715.0 L1006.8,711.8 L1013.9,709.1 L1020.1,707.1 L1025.7,706.1 L1030.8,705.6 L1033.2,705.5" fill="none" stroke="#3e44a2" stroke-width="1.4" stroke-linejoin="round" opacity="0.92"/>
<path d="M869.8,820.2 L872.2,814.4 L876.8,807.6 L881.9,800.7 L887.3,793.8 L893.2,787.1 L899.5,780.7 L906.1,774.6 L912.9,768.8 L919.9,763.0 L927.0,757.1 L934.2,751.0 L941.5,744.9 L949.0,738.9 L957.0,733.5 L965.4,728.8 L974.2,724.8 L983.1,721.5 L992.0,718.6 L1000.5,715.9 L1008.4,713.2 L1015.5,710.7 L1021.5,708.5 L1026.6,707.0 L1031.3,705.9 L1033.5,705.7" fill="none" stroke="#4a70b8" stroke-width="1.4" stroke-linejoin="round" opacity="0.92"/>
<path d="M870.0,820.3 L872.5,814.6 L877.4,808.1 L882.7,801.6 L888.4,795.1 L894.4,788.7 L900.8,782.3 L907.3,776.0 L913.9,769.6 L920.6,763.3 L927.5,757.0 L934.7,750.8 L942.2,745.0 L950.1,739.6 L958.4,734.9 L967.2,730.8 L976.1,727.2 L985.1,723.9 L993.8,720.6 L1002.0,717.3 L1009.6,714.0 L1016.4,711.0 L1022.2,708.6 L1027.1,707.0 L1031.7,706.1 L1033.7,705.8" fill="none" stroke="#3a3c9c" stroke-width="2.0" stroke-linejoin="round" opacity="0.92"/>
<path d="M870.4,820.5 L873.2,815.2 L878.4,809.2 L884.1,803.2 L890.1,797.2 L896.4,791.1 L902.8,784.6 L909.2,777.9 L915.6,771.0 L922.1,764.1 L929.0,757.5 L936.2,751.5 L944.0,746.2 L952.4,741.6 L961.3,737.8 L970.4,734.4 L979.5,731.0 L988.3,727.5 L996.8,723.6 L1004.6,719.4 L1011.7,715.4 L1018.2,711.8 L1023.6,709.0 L1028.2,707.4 L1032.4,706.3 L1034.2,706.0" fill="none" stroke="#34389a" stroke-width="1.7" stroke-linejoin="round" opacity="0.92"/>
<path d="M870.5,820.6 L873.4,815.4 L878.5,809.2 L884.0,802.8 L889.9,796.4 L896.1,790.1 L902.6,783.9 L909.3,777.8 L916.2,771.8 L923.2,765.8 L930.4,759.9 L937.8,754.1 L945.4,748.4 L953.3,742.9 L961.6,738.0 L970.3,733.6 L979.1,729.7 L988.0,726.2 L996.6,722.7 L1004.8,719.2 L1012.2,715.8 L1018.9,712.6 L1024.3,709.9 L1028.7,707.9 L1032.6,706.5 L1034.3,706.1" fill="none" stroke="#34389a" stroke-width="2.3" stroke-linejoin="round" opacity="0.92"/>
<path d="M870.9,820.8 L874.1,815.9 L879.4,810.0 L885.2,803.9 L891.3,797.9 L897.8,791.9 L904.5,786.0 L911.4,780.0 L918.3,774.0 L925.4,767.9 L932.5,761.8 L939.9,755.8 L947.5,750.0 L955.5,744.7 L964.0,740.0 L972.9,736.0 L981.9,732.3 L990.9,728.9 L999.5,725.3 L1007.5,721.5 L1014.7,717.7 L1020.9,713.9 L1025.9,710.7 L1029.9,708.5 L1033.3,706.9 L1034.8,706.4" fill="none" stroke="#4a70b8" stroke-width="1.7" stroke-linejoin="round" opacity="0.92"/>
<path d="M871.1,820.9 L874.4,816.2 L879.8,810.4 L885.7,804.4 L891.8,798.3 L898.2,792.2 L904.9,786.0 L911.7,780.0 L918.7,774.1 L925.9,768.2 L933.3,762.5 L940.9,757.0 L948.7,751.6 L956.9,746.4 L965.3,741.7 L974.0,737.3 L982.9,733.2 L991.6,729.4 L1000.1,725.5 L1008.1,721.6 L1015.3,717.8 L1021.5,714.1 L1026.5,711.0 L1030.3,708.8 L1033.6,707.1 L1035.0,706.4" fill="none" stroke="#4a70b8" stroke-width="1.7" stroke-linejoin="round" opacity="0.92"/>
<path d="M871.3,821.0 L874.7,816.5 L880.3,810.8 L886.2,804.9 L892.5,799.1 L899.1,793.2 L906.0,787.3 L912.9,781.4 L920.0,775.5 L927.2,769.6 L934.5,763.6 L942.0,757.8 L949.8,752.3 L957.9,747.1 L966.5,742.4 L975.3,738.3 L984.3,734.5 L993.2,730.8 L1001.7,727.0 L1009.6,723.0 L1016.6,718.9 L1022.7,715.0 L1027.4,711.6 L1031.0,709.1 L1034.0,707.2 L1035.3,706.6" fill="none" stroke="#4a70b8" stroke-width="2.3" stroke-linejoin="round" opacity="0.92"/>
<path d="M871.7,821.2 L875.4,817.1 L881.2,811.7 L887.4,806.1 L893.9,800.4 L900.6,794.5 L907.5,788.6 L914.5,782.7 L921.7,776.9 L929.0,771.1 L936.5,765.5 L944.3,760.0 L952.3,754.8 L960.6,749.8 L969.2,745.3 L978.0,741.1 L986.9,737.0 L995.7,733.0 L1004.1,728.9 L1011.8,724.5 L1018.7,720.2 L1024.5,716.0 L1028.9,712.4 L1032.2,709.7 L1034.8,707.6 L1035.8,706.8" fill="none" stroke="#3a3c9c" stroke-width="1.4" stroke-linejoin="round" opacity="0.92"/>
<path d="M871.8,821.3 L875.5,817.2 L881.3,811.6 L887.4,805.9 L893.9,800.1 L900.7,794.4 L907.8,788.9 L915.1,783.5 L922.5,778.1 L930.0,772.7 L937.5,767.1 L945.1,761.3 L952.9,755.5 L960.8,749.9 L969.2,744.9 L978.0,740.4 L986.9,736.4 L995.8,732.7 L1004.5,729.0 L1012.4,725.1 L1019.4,721.0 L1025.2,716.8 L1029.5,713.0 L1032.5,710.0 L1034.9,707.7 L1035.9,706.9" fill="none" stroke="#4a70b8" stroke-width="2.3" stroke-linejoin="round" opacity="0.92"/>
<path d="M872.1,821.5 L876.0,817.6 L882.1,812.4 L888.4,807.1 L895.2,801.6 L902.1,796.1 L909.2,790.5 L916.4,784.8 L923.7,779.0 L931.0,773.1 L938.5,767.3 L946.2,761.7 L954.2,756.4 L962.6,751.5 L971.4,747.1 L980.3,743.1 L989.4,739.3 L998.2,735.4 L1006.6,731.1 L1014.2,726.6 L1020.9,721.8 L1026.4,717.2 L1030.5,713.2 L1033.3,710.2 L1035.4,707.9 L1036.2,707.1" fill="none" stroke="#3e44a2" stroke-width="1.7" stroke-linejoin="round" opacity="0.92"/>
<path d="M872.4,821.7 L876.7,818.1 L882.8,812.9 L889.2,807.5 L896.0,802.0 L903.1,796.6 L910.5,791.5 L918.2,786.6 L925.9,781.6 L933.7,776.5 L941.4,771.0 L949.1,765.2 L956.9,759.4 L964.9,753.7 L973.3,748.5 L982.1,743.9 L991.0,739.9 L1000.0,736.2 L1008.7,732.4 L1016.5,728.3 L1023.2,723.8 L1028.6,719.1 L1032.3,714.7 L1034.6,711.1 L1036.2,708.3 L1036.7,707.3" fill="none" stroke="#4650aa" stroke-width="1.4" stroke-linejoin="round" opacity="0.92"/>
<path d="M872.6,821.7 L876.9,818.3 L883.1,813.3 L889.6,808.0 L896.4,802.5 L903.5,797.0 L910.9,791.8 L918.5,786.7 L926.3,781.7 L934.1,776.6 L942.0,771.4 L949.8,765.9 L957.8,760.4 L965.9,754.9 L974.4,749.8 L983.1,745.1 L991.9,740.9 L1000.8,736.9 L1009.3,732.8 L1017.1,728.5 L1023.7,723.9 L1029.1,719.2 L1032.7,714.9 L1034.9,711.3 L1036.4,708.4 L1036.9,707.4" fill="none" stroke="#3a3c9c" stroke-width="1.4" stroke-linejoin="round" opacity="0.92"/>
<path d="M872.8,821.9 L877.4,818.7 L883.9,814.2 L890.8,809.6 L898.0,804.7 L905.2,799.4 L912.4,793.7 L919.6,787.7 L926.8,781.5 L934.2,775.5 L941.9,769.9 L950.0,764.8 L958.5,760.3 L967.4,756.2 L976.6,752.6 L985.8,748.9 L994.8,744.9 L1003.4,740.4 L1011.5,735.3 L1018.7,729.8 L1024.8,724.2 L1029.8,719.0 L1033.3,714.5 L1035.4,711.2 L1036.8,708.5 L1037.2,707.5" fill="none" stroke="#34389a" stroke-width="2.0" stroke-linejoin="round" opacity="0.92"/>
<path d="M873.1,822.0 L877.9,819.2 L884.6,814.9 L891.5,810.2 L898.6,805.1 L905.8,799.6 L913.1,793.9 L920.4,788.1 L927.9,782.4 L935.7,777.0 L943.8,772.0 L952.1,767.4 L960.7,763.1 L969.6,758.8 L978.5,754.7 L987.5,750.4 L996.2,745.8 L1004.7,740.9 L1012.7,735.8 L1019.9,730.3 L1026.1,724.9 L1031.2,719.8 L1034.5,715.4 L1036.3,711.8 L1037.4,708.9 L1037.5,707.7" fill="none" stroke="#3e44a2" stroke-width="1.7" stroke-linejoin="round" opacity="0.92"/>
<path d="M873.4,822.2 L878.4,819.6 L885.3,815.4 L892.4,810.8 L899.7,806.0 L907.2,801.0 L914.8,795.7 L922.4,790.3 L930.1,784.9 L937.9,779.5 L945.9,774.2 L954.1,769.2 L962.5,764.5 L971.3,760.0 L980.3,755.8 L989.3,751.7 L998.3,747.5 L1007.0,743.0 L1015.1,738.0 L1022.3,732.5 L1028.4,726.8 L1033.1,721.3 L1036.0,716.3 L1037.4,712.4 L1038.0,709.2 L1037.9,707.9" fill="none" stroke="#4a70b8" stroke-width="1.7" stroke-linejoin="round" opacity="0.92"/>
<path d="M873.6,822.4 L878.7,819.9 L885.6,815.6 L892.8,811.1 L900.2,806.3 L907.8,801.4 L915.5,796.4 L923.3,791.3 L931.2,786.2 L939.2,781.1 L947.2,775.9 L955.4,770.8 L963.8,765.8 L972.4,760.9 L981.2,756.5 L990.2,752.2 L999.2,748.0 L1008.0,743.5 L1016.2,738.8 L1023.5,733.5 L1029.5,727.8 L1034.2,722.2 L1036.9,717.0 L1038.0,712.8 L1038.4,709.4 L1038.2,708.0" fill="none" stroke="#3e44a2" stroke-width="2.0" stroke-linejoin="round" opacity="0.92"/>
<path d="M873.9,822.5 L879.3,820.4 L886.4,816.4 L893.8,812.2 L901.4,807.6 L909.1,802.7 L916.8,797.7 L924.6,792.5 L932.5,787.3 L940.6,782.1 L948.7,777.1 L957.1,772.2 L965.7,767.6 L974.5,763.1 L983.5,758.9 L992.6,754.7 L1001.5,750.3 L1010.2,745.6 L1018.3,740.5 L1025.4,734.8 L1031.2,728.8 L1035.7,722.9 L1038.1,717.6 L1039.0,713.3 L1039.0,709.6 L1038.6,708.2" fill="none" stroke="#4650aa" stroke-width="1.4" stroke-linejoin="round" opacity="0.92"/>
<path d="M874.1,822.7 L879.7,820.8 L886.9,816.8 L894.1,812.2 L901.6,807.2 L909.2,802.1 L917.0,797.2 L925.2,792.6 L933.6,788.3 L942.2,784.2 L950.8,780.0 L959.3,775.5 L967.8,770.6 L976.3,765.4 L984.8,760.1 L993.4,754.9 L1002.0,749.8 L1010.6,744.9 L1018.8,740.0 L1026.2,734.9 L1032.3,729.5 L1036.9,723.9 L1039.2,718.6 L1039.8,714.0 L1039.4,710.0 L1038.8,708.4" fill="none" stroke="#3a3c9c" stroke-width="2.3" stroke-linejoin="round" opacity="0.92"/>
<path d="M874.4,822.8 L879.9,820.8 L887.2,816.9 L894.9,813.0 L902.8,809.0 L910.9,804.8 L919.1,800.4 L927.2,795.7 L935.2,790.5 L943.1,784.9 L951.0,779.2 L959.0,773.6 L967.4,768.4 L976.1,763.8 L985.4,759.9 L994.8,756.3 L1004.2,752.7 L1013.2,748.6 L1021.4,743.7 L1028.4,737.8 L1034.0,731.3 L1037.9,724.6 L1039.8,718.6 L1040.1,713.8 L1039.7,709.9 L1039.1,708.5" fill="none" stroke="#4a70b8" stroke-width="1.7" stroke-linejoin="round" opacity="0.92"/>
<path d="M874.7,822.9 L880.5,821.4 L888.0,817.7 L895.6,813.6 L903.5,809.3 L911.5,804.8 L919.6,800.3 L927.9,795.8 L936.3,791.2 L944.7,786.6 L953.1,781.8 L961.6,776.9 L970.1,772.0 L978.8,767.1 L987.7,762.5 L996.7,758.0 L1005.6,753.5 L1014.4,748.9 L1022.6,743.8 L1029.7,738.1 L1035.3,731.9 L1039.4,725.5 L1041.2,719.6 L1041.2,714.6 L1040.3,710.3 L1039.4,708.7" fill="none" stroke="#4a70b8" stroke-width="2.3" stroke-linejoin="round" opacity="0.92"/>
<path d="M874.9,823.1 L881.0,821.8 L888.6,818.3 L896.5,814.5 L904.4,810.3 L912.6,805.9 L920.8,801.4 L929.1,796.9 L937.5,792.3 L946.0,787.7 L954.5,783.0 L963.0,778.2 L971.7,773.4 L980.5,768.8 L989.5,764.3 L998.5,759.8 L1007.5,755.3 L1016.2,750.5 L1024.3,745.3 L1031.3,739.3 L1036.8,732.8 L1040.7,726.3 L1042.3,720.1 L1042.0,715.0 L1040.8,710.6 L1039.8,708.8" fill="none" stroke="#3a3c9c" stroke-width="2.3" stroke-linejoin="round" opacity="0.92"/>
<path d="M875.1,823.2 L881.3,822.1 L889.1,818.8 L897.1,815.2 L905.2,811.1 L913.3,806.7 L921.5,802.1 L929.8,797.4 L938.2,792.7 L946.7,788.1 L955.2,783.5 L964.0,779.0 L972.8,774.5 L981.8,770.1 L990.9,765.9 L1000.0,761.5 L1008.9,756.8 L1017.5,751.8 L1025.5,746.2 L1032.3,740.0 L1037.7,733.3 L1041.5,726.6 L1042.9,720.4 L1042.5,715.2 L1041.1,710.7 L1040.0,709.0" fill="none" stroke="#3a3c9c" stroke-width="1.4" stroke-linejoin="round" opacity="0.92"/>
<path d="M875.4,823.4 L881.8,822.5 L889.7,819.4 L897.8,815.9 L906.0,811.9 L914.3,807.7 L922.6,803.2 L931.0,798.5 L939.4,793.9 L947.9,789.2 L956.6,784.7 L965.4,780.2 L974.3,775.9 L983.3,771.6 L992.5,767.5 L1001.7,763.1 L1010.6,758.5 L1019.2,753.3 L1027.1,747.6 L1033.9,741.1 L1039.1,734.2 L1042.7,727.3 L1044.0,720.9 L1043.3,715.6 L1041.6,711.0 L1040.3,709.1" fill="none" stroke="#3e44a2" stroke-width="2.3" stroke-linejoin="round" opacity="0.92"/>
<path d="M875.6,823.5 L882.2,822.8 L890.2,819.8 L898.4,816.2 L906.6,812.2 L915.0,808.1 L923.6,803.9 L932.3,799.9 L941.1,795.8 L949.9,791.7 L958.7,787.3 L967.4,782.7 L976.2,777.9 L985.0,773.1 L993.9,768.4 L1002.9,763.7 L1011.8,758.9 L1020.5,754.0 L1028.6,748.5 L1035.5,742.4 L1040.8,735.7 L1044.3,728.7 L1045.3,722.0 L1044.2,716.2 L1042.2,711.3 L1040.7,709.3" fill="none" stroke="#3a3c9c" stroke-width="2.3" stroke-linejoin="round" opacity="0.92"/>
<path d="M875.8,823.6 L882.6,823.2 L890.7,820.2 L898.9,816.6 L907.1,812.5 L915.5,808.3 L924.1,804.1 L932.9,800.2 L941.8,796.4 L950.9,792.7 L959.9,788.8 L968.9,784.5 L977.7,779.9 L986.5,774.9 L995.3,769.9 L1004.1,764.8 L1012.9,759.7 L1021.4,754.4 L1029.5,748.9 L1036.4,742.8 L1041.8,736.2 L1045.3,729.2 L1046.1,722.5 L1044.8,716.7 L1042.5,711.5 L1040.9,709.4" fill="none" stroke="#3a3c9c" stroke-width="1.4" stroke-linejoin="round" opacity="0.92"/>
<path d="M876.1,823.7 L882.8,823.2 L891.0,820.2 L899.4,816.9 L908.0,813.5 L916.8,810.1 L925.8,806.7 L934.9,803.1 L943.8,799.2 L952.5,794.7 L961.0,789.6 L969.4,784.3 L977.9,778.8 L986.6,773.7 L995.7,769.2 L1005.0,765.0 L1014.4,761.1 L1023.4,756.8 L1031.7,751.7 L1038.6,745.5 L1043.6,738.2 L1046.6,730.5 L1047.0,723.1 L1045.4,716.8 L1042.9,711.5 L1041.2,709.6" fill="none" stroke="#4a70b8" stroke-width="1.4" stroke-linejoin="round" opacity="0.92"/>
<path d="M876.3,823.9 L883.3,823.6 L891.7,820.9 L900.2,817.8 L909.0,814.5 L918.0,811.3 L927.1,807.9 L936.1,804.3 L945.1,800.3 L953.8,795.8 L962.4,790.8 L970.9,785.5 L979.5,780.3 L988.4,775.4 L997.6,771.1 L1007.0,767.0 L1016.4,763.0 L1025.4,758.6 L1033.6,753.3 L1040.3,746.8 L1045.1,739.2 L1048.0,731.2 L1048.1,723.6 L1046.2,717.2 L1043.4,711.8 L1041.5,709.7" fill="none" stroke="#3e44a2" stroke-width="1.4" stroke-linejoin="round" opacity="0.92"/>
<path d="M876.6,824.0 L883.9,824.2 L892.5,821.8 L901.2,818.9 L909.9,815.6 L918.7,811.8 L927.5,807.8 L936.3,803.7 L945.2,799.6 L954.2,795.4 L963.2,791.2 L972.3,787.0 L981.5,782.8 L990.7,778.7 L1000.0,774.5 L1009.2,770.0 L1018.2,765.2 L1026.8,759.7 L1034.5,753.6 L1041.0,746.6 L1045.8,738.9 L1048.7,731.1 L1048.9,723.8 L1046.9,717.5 L1043.9,712.1 L1041.8,709.9" fill="none" stroke="#3a3c9c" stroke-width="1.7" stroke-linejoin="round" opacity="0.92"/>
<path d="M876.9,824.2 L884.4,824.7 L893.1,822.4 L901.9,819.4 L910.6,815.8 L919.4,812.0 L928.4,808.3 L937.6,804.8 L947.0,801.4 L956.4,798.0 L965.7,794.4 L975.0,790.4 L984.1,785.9 L993.0,781.1 L1002.0,776.2 L1010.8,771.0 L1019.6,765.7 L1028.2,760.2 L1036.1,754.3 L1042.8,747.6 L1047.7,740.3 L1050.5,732.6 L1050.5,725.0 L1048.0,718.4 L1044.5,712.4 L1042.2,710.1" fill="none" stroke="#4650aa" stroke-width="1.7" stroke-linejoin="round" opacity="0.92"/>
<path d="M877.1,824.3 L884.7,825.0 L893.7,823.0 L902.6,820.4 L911.5,817.1 L920.4,813.3 L929.3,809.3 L938.2,805.2 L947.3,801.3 L956.5,797.4 L965.9,793.7 L975.3,790.1 L984.7,786.3 L994.1,782.3 L1003.5,778.1 L1012.6,773.3 L1021.4,768.1 L1029.7,762.2 L1037.4,755.6 L1043.7,748.3 L1048.3,740.4 L1051.0,732.4 L1050.9,724.9 L1048.4,718.4 L1044.8,712.5 L1042.4,710.2" fill="none" stroke="#4650aa" stroke-width="1.7" stroke-linejoin="round" opacity="0.92"/>
<path d="M877.4,824.5 L885.3,825.4 L894.3,823.5 L903.5,821.0 L912.6,818.0 L921.8,814.7 L931.0,811.3 L940.3,807.7 L949.6,803.9 L958.8,800.1 L968.1,796.1 L977.3,791.9 L986.5,787.6 L995.8,783.4 L1005.2,779.1 L1014.4,774.5 L1023.5,769.7 L1032.1,764.2 L1039.9,757.9 L1046.2,750.6 L1050.7,742.5 L1053.0,734.0 L1052.4,725.9 L1049.5,718.9 L1045.4,712.8 L1042.8,710.4" fill="none" stroke="#3e44a2" stroke-width="1.7" stroke-linejoin="round" opacity="0.92"/>
<path d="M877.5,824.6 L885.4,825.5 L894.4,823.4 L903.5,820.8 L912.7,817.9 L922.0,814.8 L931.5,811.7 L941.0,808.6 L950.5,805.3 L959.9,801.6 L969.1,797.5 L978.1,792.9 L987.1,788.2 L996.1,783.4 L1005.3,778.7 L1014.5,774.1 L1023.7,769.4 L1032.5,764.3 L1040.5,758.4 L1047.0,751.4 L1051.5,743.4 L1053.8,734.8 L1053.0,726.5 L1049.9,719.2 L1045.6,712.9 L1043.0,710.5" fill="none" stroke="#3a3c9c" stroke-width="1.4" stroke-linejoin="round" opacity="0.92"/>
<path d="M877.9,824.8 L886.1,826.0 L895.5,824.4 L905.0,822.5 L914.6,820.2 L924.2,817.5 L933.7,814.4 L943.0,810.8 L952.3,806.8 L961.3,802.3 L970.4,797.7 L979.5,793.2 L988.8,789.0 L998.4,785.1 L1008.1,781.6 L1017.8,777.8 L1027.2,773.5 L1035.9,768.2 L1043.7,761.7 L1049.7,753.8 L1053.7,744.8 L1055.5,735.6 L1054.4,726.9 L1050.9,719.5 L1046.3,713.2 L1043.5,710.7" fill="none" stroke="#4650aa" stroke-width="2.3" stroke-linejoin="round" opacity="0.92"/>
<path d="M878.1,824.9 L886.4,826.3 L895.8,824.7 L905.2,822.7 L914.8,820.2 L924.3,817.3 L933.8,814.1 L943.3,810.7 L952.7,807.0 L962.0,803.1 L971.3,799.0 L980.6,794.8 L990.0,790.7 L999.5,786.6 L1009.0,782.6 L1018.4,778.3 L1027.6,773.6 L1036.3,768.1 L1044.0,761.5 L1050.1,753.7 L1054.2,745.0 L1056.1,735.9 L1054.9,727.3 L1051.3,719.8 L1046.6,713.4 L1043.6,710.8" fill="none" stroke="#4a70b8" stroke-width="2.3" stroke-linejoin="round" opacity="0.92"/>
<path d="M878.4,825.1 L886.9,826.6 L896.4,825.2 L906.1,823.5 L915.9,821.3 L925.7,818.9 L935.5,816.1 L945.1,812.9 L954.6,809.2 L963.8,805.0 L973.0,800.5 L982.2,795.9 L991.5,791.6 L1001.0,787.5 L1010.7,783.8 L1020.4,779.9 L1029.8,775.6 L1038.6,770.4 L1046.4,763.9 L1052.4,755.9 L1056.3,746.7 L1057.8,737.1 L1056.3,728.0 L1052.3,720.3 L1047.2,713.6 L1044.0,711.0" fill="none" stroke="#3a3c9c" stroke-width="2.3" stroke-linejoin="round" opacity="0.92"/>
<path d="M878.6,825.2 L887.3,827.1 L897.0,825.9 L906.6,823.9 L916.2,821.4 L925.9,818.4 L935.5,815.3 L945.2,812.2 L955.0,809.1 L964.7,805.8 L974.4,802.4 L984.1,798.7 L993.6,794.7 L1003.0,790.5 L1012.4,786.1 L1021.6,781.2 L1030.6,775.9 L1039.1,770.0 L1046.8,763.3 L1052.9,755.4 L1056.9,746.7 L1058.6,737.6 L1057.1,728.7 L1053.0,720.9 L1047.6,713.9 L1044.2,711.1" fill="none" stroke="#3a3c9c" stroke-width="1.4" stroke-linejoin="round" opacity="0.92"/>
<path d="M878.9,825.4 L887.8,827.4 L897.7,826.5 L907.6,824.9 L917.6,822.9 L927.5,820.4 L937.3,817.6 L947.0,814.4 L956.7,810.9 L966.2,807.1 L975.7,803.1 L985.2,799.1 L994.8,795.1 L1004.5,791.3 L1014.2,787.5 L1023.8,783.4 L1033.1,778.6 L1041.7,772.9 L1049.3,766.0 L1055.2,757.6 L1058.8,748.2 L1060.2,738.5 L1058.3,729.2 L1053.8,721.1 L1048.1,714.1 L1044.6,711.3" fill="none" stroke="#4a70b8" stroke-width="1.4" stroke-linejoin="round" opacity="0.92"/>
<path d="M879.1,825.5 L888.2,827.8 L898.3,827.1 L908.5,825.9 L918.6,824.1 L928.5,821.7 L938.4,818.7 L948.0,815.2 L957.5,811.4 L967.0,807.4 L976.6,803.5 L986.3,799.7 L996.1,796.3 L1006.1,792.9 L1016.1,789.6 L1025.8,785.6 L1035.0,780.8 L1043.5,774.8 L1050.9,767.4 L1056.6,758.6 L1060.0,748.8 L1061.2,738.8 L1059.1,729.4 L1054.5,721.4 L1048.6,714.3 L1044.9,711.5" fill="none" stroke="#3e44a2" stroke-width="1.7" stroke-linejoin="round" opacity="0.92"/>
<path d="M879.4,825.7 L888.6,828.1 L898.8,827.5 L909.1,826.4 L919.5,825.0 L929.8,823.1 L939.9,820.5 L949.7,817.4 L959.3,813.6 L968.7,809.4 L978.1,804.9 L987.6,800.6 L997.2,796.8 L1007.2,793.3 L1017.3,790.2 L1027.2,786.7 L1036.8,782.4 L1045.5,776.8 L1053.0,769.6 L1058.6,760.7 L1061.9,750.5 L1062.7,740.0 L1060.3,730.1 L1055.3,721.7 L1049.0,714.5 L1045.3,711.6" fill="none" stroke="#3a3c9c" stroke-width="2.3" stroke-linejoin="round" opacity="0.92"/>
<path d="M879.5,825.7 L888.9,828.4 L899.1,827.7 L909.3,826.3 L919.5,824.5 L929.6,822.2 L939.7,819.7 L949.8,817.0 L959.9,814.1 L969.8,810.8 L979.5,807.2 L989.2,803.3 L998.9,799.3 L1008.5,795.2 L1018.1,791.1 L1027.6,786.6 L1036.8,781.6 L1045.4,775.7 L1053.0,768.8 L1058.9,760.3 L1062.4,750.8 L1063.4,740.7 L1061.0,730.9 L1055.8,722.3 L1049.3,714.7 L1045.4,711.7" fill="none" stroke="#3e44a2" stroke-width="1.4" stroke-linejoin="round" opacity="0.92"/>
<path d="M879.9,825.9 L889.5,828.9 L900.0,828.6 L910.4,827.5 L920.8,825.8 L931.0,823.7 L941.2,821.2 L951.4,818.4 L961.4,815.4 L971.4,812.1 L981.3,808.6 L991.2,805.0 L1001.0,801.3 L1010.8,797.6 L1020.6,793.7 L1030.2,789.2 L1039.3,784.1 L1047.9,778.0 L1055.3,770.7 L1061.0,761.9 L1064.3,752.0 L1065.1,741.6 L1062.4,731.6 L1056.9,722.8 L1050.0,715.1 L1045.9,711.9" fill="none" stroke="#34389a" stroke-width="1.4" stroke-linejoin="round" opacity="0.92"/>
<defs><radialGradient id="Ecy" cx="0.5" cy="0.5" r="0.5"><stop offset="0" stop-color="#50c8d8" stop-opacity="0.85"/><stop offset="1" stop-color="#50c8d8" stop-opacity="0"/></radialGradient></defs>
<ellipse cx="1030" cy="722" rx="28" ry="16" transform="rotate(-35 1030 722)" fill="url(#Ecy)"/>
<ellipse cx="878" cy="812" rx="16" ry="11" fill="url(#Ecy)"/>
<path d="M1470.5,620.3 L1684.4,591.4" stroke="#9a9492" fill="none" stroke-width="1"/>
<path d="M1474,623 L1684.4,594" stroke="#9a9492" fill="none" stroke-width="1"/>
<rect x="1470.5" y="621" width="215" height="130" fill="none" stroke="#9a9492" stroke-width="1.1"/>
<rect x="1489.4" y="653" width="177.4" height="269.3" fill="none" stroke="#9a9492" stroke-width="1.1"/>
<rect x="1498" y="656" width="161" height="250" fill="none" stroke="#9a9492" stroke-width="0.9"/>
<line x1="1470.5" y1="751" x2="1685.5" y2="751" stroke="#6a6a80" stroke-width="1.3"/>
<rect x="1400" y="618" width="9" height="58" rx="2" fill="#fefefd" stroke="#9a9492" stroke-width="1.1"/>
<rect x="1409" y="621" width="62" height="50" fill="none" stroke="#9a9492" stroke-width="1.1"/>
<rect x="1747" y="586" width="10" height="60" rx="2" fill="#fefefd" stroke="#9a9492" stroke-width="1.1"/>
<rect x="1685" y="591" width="62" height="50" fill="none" stroke="#9a9492" stroke-width="1.1"/>
<rect x="1409" y="641" width="84" height="6" fill="#e8302a"/><rect x="1409" y="647" width="84" height="3" fill="#f2d030"/><rect x="1409" y="650" width="84" height="2" fill="#80c040"/>
<path d="M1660,614 L1747,612 L1747,628 L1662,630 Z" fill="#3a6cc0"/><path d="M1672,616 L1747,614 L1747,618 L1672,620 Z" fill="#48b8d8"/>
<line x1="1769.5" y1="575" x2="1769.5" y2="965" stroke="#c8c4c2" stroke-width="1"/>
<path d="M1493.2,630.4 C1495.9,627.5 1504.5,626.2 1510.8,627.9 C1517.1,629.6 1521.7,635.5 1530.9,640.5 C1540.1,645.5 1556.0,654.3 1566.1,658.1 C1576.2,661.9 1582.9,664.4 1591.3,663.1 C1599.7,661.8 1608.1,656.0 1616.5,650.5 C1624.9,645.0 1634.0,636.3 1641.6,630.4 C1649.1,624.5 1658.0,614.5 1661.8,615.3 C1665.6,616.1 1664.7,622.0 1664.3,635.4 C1663.9,648.8 1661.0,677.3 1659.3,695.8 C1657.6,714.2 1655.5,730.6 1654.2,746.1 C1652.9,761.6 1652.5,776.3 1651.7,788.9 C1650.9,801.5 1650.9,807.8 1649.2,821.6 C1647.5,835.5 1644.5,859.4 1641.6,872.0 C1638.7,884.6 1640.0,891.2 1631.6,897.1 C1623.2,903.0 1606.4,905.5 1591.3,907.2 C1576.2,908.9 1553.6,908.9 1541.0,907.2 C1528.4,905.5 1521.2,905.1 1515.8,897.1 C1510.3,889.1 1510.8,874.1 1508.3,859.4 C1505.8,844.7 1502.4,827.9 1500.7,809.0 C1499.0,790.1 1499.0,767.1 1498.2,746.1 C1497.4,725.1 1496.3,700.0 1495.7,683.2 C1495.1,666.4 1494.8,654.3 1494.4,645.5 C1494.0,636.7 1490.5,633.3 1493.2,630.4Z" fill="#4a4c9c"/>
<path d="M1533,646 C1539,656 1556,668 1588,668 S1646,671 1650,636" fill="none" stroke="#fefefd" stroke-width="2.0" opacity="0.95"/>
<path d="M1533,647 C1539,661 1556,673 1588,673 S1646,674 1650,637" fill="none" stroke="#fefefd" stroke-width="2.0" opacity="0.95"/>
<path d="M1534,647 C1540,666 1556,678 1588,678 S1646,678 1650,639" fill="none" stroke="#fefefd" stroke-width="2.0" opacity="0.95"/>
<path d="M1534,648 C1540,670 1557,682 1589,682 S1645,681 1649,640" fill="none" stroke="#fefefd" stroke-width="2.0" opacity="0.95"/>
<path d="M1534,649 C1540,675 1557,687 1589,687 S1645,684 1649,642" fill="none" stroke="#fefefd" stroke-width="2.0" opacity="0.95"/>
<path d="M1534,649 C1540,680 1557,692 1589,692 S1645,688 1649,643" fill="none" stroke="#fefefd" stroke-width="2.0" opacity="0.95"/>
<path d="M1535,650 C1541,685 1557,697 1589,697 S1645,691 1649,645" fill="none" stroke="#fefefd" stroke-width="2.0" opacity="0.95"/>
<path d="M1535,651 C1541,689 1557,701 1589,701 S1645,694 1649,646" fill="none" stroke="#fefefd" stroke-width="2.0" opacity="0.95"/>
<path d="M1535,651 C1541,694 1558,706 1590,706 S1644,698 1648,647" fill="none" stroke="#fefefd" stroke-width="2.0" opacity="0.95"/>
<path d="M1536,652 C1542,699 1558,711 1590,711 S1644,701 1648,649" fill="none" stroke="#fefefd" stroke-width="2.0" opacity="0.95"/>
<path d="M1536,653 C1542,704 1558,716 1590,716 S1644,704 1648,650" fill="none" stroke="#fefefd" stroke-width="2.0" opacity="0.95"/>
<path d="M1536,653 C1542,708 1558,720 1590,720 S1644,708 1648,652" fill="none" stroke="#fefefd" stroke-width="2.0" opacity="0.95"/>
<path d="M1536,654 C1542,713 1558,725 1590,725 S1644,711 1648,653" fill="none" stroke="#fefefd" stroke-width="2.0" opacity="0.95"/>
<path d="M1537,655 C1543,718 1558,730 1590,730 S1644,714 1648,655" fill="none" stroke="#fefefd" stroke-width="2.0" opacity="0.95"/>
<path d="M1537,655 C1543,723 1559,735 1591,735 S1643,718 1647,656" fill="none" stroke="#fefefd" stroke-width="2.0" opacity="0.95"/>
<path d="M1537,656 C1543,727 1559,739 1591,739 S1643,721 1647,657" fill="none" stroke="#fefefd" stroke-width="2.0" opacity="0.95"/>
<path d="M1538,657 C1544,732 1559,744 1591,744 S1643,724 1647,659" fill="none" stroke="#fefefd" stroke-width="2.0" opacity="0.95"/>
<path d="M1538,657 C1544,737 1559,749 1591,749 S1643,728 1647,660" fill="none" stroke="#fefefd" stroke-width="1.4" opacity="0.75"/>
<path d="M1538,658 C1544,742 1559,754 1591,754 S1643,731 1647,662" fill="none" stroke="#fefefd" stroke-width="1.4" opacity="0.75"/>
<path d="M1538,659 C1544,746 1560,758 1592,758 S1642,734 1646,663" fill="none" stroke="#fefefd" stroke-width="1.4" opacity="0.75"/>
<path d="M1539,659 C1545,751 1560,763 1592,763 S1642,738 1646,665" fill="none" stroke="#fefefd" stroke-width="1.4" opacity="0.75"/>
<path d="M1539,660 C1545,756 1560,768 1592,768 S1642,741 1646,666" fill="none" stroke="#fefefd" stroke-width="1.4" opacity="0.75"/>
<path d="M1619.0,826.0 L1622.0,833.0 L1623.0,841.0 L1622.0,849.0 L1618.0,856.0 L1613.0,863.0 L1606.0,869.0 L1598.0,874.0 L1589.0,878.0" fill="none" stroke="#fefefd" stroke-width="2.0" opacity="0.85"/>
<path d="M1549.0,812.0 L1626.0,813.0 L1635.0,821.0 L1642.0,830.0" fill="none" stroke="#fefefd" stroke-width="1.2" opacity="0.85"/>
<path d="M1591.0,871.0 L1589.0,873.0 L1587.0,875.0 L1585.0,876.0 L1582.0,877.0 L1579.0,878.0 L1576.0,879.0 L1573.0,880.0 L1570.0,880.0" fill="none" stroke="#fefefd" stroke-width="2.0" opacity="0.85"/>
<path d="M1591.0,809.0 L1596.0,810.0 L1601.0,811.0 L1607.0,813.0 L1611.0,815.0 L1616.0,817.0 L1620.0,820.0 L1624.0,823.0" fill="none" stroke="#fefefd" stroke-width="1.2" opacity="0.85"/>
<path d="M1598.0,856.0 L1598.0,858.0 L1597.0,860.0 L1595.0,862.0 L1593.0,864.0 L1590.0,865.0 L1588.0,866.0 L1585.0,866.0 L1582.0,866.0" fill="none" stroke="#fefefd" stroke-width="1.2" opacity="0.85"/>
<path d="M1589.0,841.0 L1587.0,842.0 L1585.0,842.0 L1583.0,842.0 L1581.0,843.0 L1579.0,843.0 L1577.0,842.0 L1576.0,842.0 L1574.0,842.0" fill="none" stroke="#fefefd" stroke-width="1.2" opacity="0.85"/>
<path d="M1585.0,840.0 L1586.0,843.0 L1586.0,845.0 L1586.0,848.0 L1585.0,851.0 L1583.0,853.0 L1581.0,855.0 L1579.0,857.0 L1576.0,858.0" fill="none" stroke="#fefefd" stroke-width="1.6" opacity="0.85"/>
<path d="M1586.0,864.0 L1585.0,865.0 L1584.0,865.0 L1583.0,865.0 L1581.0,866.0 L1580.0,866.0 L1579.0,866.0 L1578.0,866.0 L1577.0,867.0" fill="none" stroke="#fefefd" stroke-width="1.6" opacity="0.85"/>
<path d="M1571.0,809.0 L1574.0,809.0 L1577.0,808.0 L1580.0,808.0 L1584.0,808.0 L1587.0,808.0 L1590.0,809.0 L1593.0,809.0 L1596.0,810.0" fill="none" stroke="#fefefd" stroke-width="1.6" opacity="0.85"/>
<path d="M1557.0,843.0 L1557.0,839.0 L1557.0,836.0 L1559.0,833.0 L1561.0,829.0 L1564.0,827.0 L1568.0,825.0 L1572.0,823.0 L1577.0,822.0" fill="none" stroke="#fefefd" stroke-width="1.2" opacity="0.85"/>
<path d="M1538.0,901.0 L1532.0,897.0 L1527.0,892.0 L1522.0,887.0 L1519.0,881.0 L1517.0,875.0 L1515.0,868.0 L1515.0,862.0 L1516.0,855.0" fill="none" stroke="#fefefd" stroke-width="2.0" opacity="0.85"/>
<path d="M1620.0,843.0 L1620.0,846.0 L1619.0,848.0 L1618.0,850.0 L1617.0,852.0 L1616.0,854.0 L1615.0,856.0 L1613.0,858.0 L1612.0,860.0" fill="none" stroke="#fefefd" stroke-width="1.2" opacity="0.85"/>
<path d="M1566.0,846.0 L1563.0,846.0 L1561.0,845.0 L1558.0,844.0 L1556.0,843.0 L1554.0,841.0 L1553.0,839.0 L1552.0,837.0 L1552.0,835.0" fill="none" stroke="#fefefd" stroke-width="1.6" opacity="0.85"/>
<path d="M1580.0,825.0 L1583.0,826.0 L1586.0,827.0 L1589.0,828.0 L1592.0,829.0 L1595.0,830.0 L1597.0,831.0 L1600.0,833.0 L1602.0,834.0" fill="none" stroke="#fefefd" stroke-width="2.0" opacity="0.85"/>
<path d="M1558.0,849.0 L1556.0,845.0 L1556.0,841.0 L1557.0,836.0 L1559.0,832.0 L1562.0,829.0 L1566.0,826.0 L1571.0,824.0 L1577.0,823.0" fill="none" stroke="#fefefd" stroke-width="1.2" opacity="0.85"/>
<path d="M1541.0,895.0 L1530.0,888.0 L1521.0,880.0 L1516.0,871.0 L1513.0,861.0 L1513.0,850.0 L1516.0,840.0 L1522.0,831.0 L1531.0,823.0" fill="none" stroke="#fefefd" stroke-width="2.0" opacity="0.85"/>
<path d="M1594.0,836.0 L1598.0,837.0 L1602.0,839.0 L1605.0,841.0 L1607.0,844.0 L1609.0,847.0 L1611.0,850.0 L1611.0,853.0 L1611.0,856.0" fill="none" stroke="#fefefd" stroke-width="2.0" opacity="0.85"/>
<path d="M1584.0,830.0 L1583.0,832.0 L1580.0,834.0 L1577.0,836.0 L1574.0,837.0 L1570.0,838.0 L1567.0,838.0 L1563.0,837.0 L1560.0,836.0" fill="none" stroke="#fefefd" stroke-width="2.0" opacity="0.85"/>
<path d="M1552.0,879.0 L1548.0,876.0 L1544.0,873.0 L1540.0,870.0 L1537.0,867.0 L1534.0,863.0 L1532.0,859.0 L1531.0,855.0 L1530.0,851.0" fill="none" stroke="#fefefd" stroke-width="2.0" opacity="0.85"/>
<path d="M1635.0,858.0 L1632.0,865.0 L1628.0,871.0 L1623.0,877.0 L1617.0,882.0 L1610.0,887.0 L1602.0,890.0 L1594.0,893.0 L1585.0,894.0" fill="none" stroke="#fefefd" stroke-width="1.2" opacity="0.85"/>
<path d="M1543.0,822.0 L1553.0,816.0 L1565.0,812.0 L1577.0,809.0 L1589.0,809.0 L1602.0,811.0 L1614.0,814.0 L1624.0,819.0 L1633.0,826.0" fill="none" stroke="#fefefd" stroke-width="1.2" opacity="0.85"/>
<path d="M1573.0,857.0 L1572.0,857.0 L1572.0,856.0 L1572.0,856.0 L1572.0,855.0 L1572.0,854.0 L1572.0,854.0 L1572.0,853.0 L1572.0,852.0" fill="none" stroke="#fefefd" stroke-width="2.0" opacity="0.85"/>
<path d="M1557.0,835.0 L1557.0,830.0 L1558.0,825.0 L1561.0,821.0 L1564.0,817.0 L1569.0,813.0 L1574.0,811.0 L1580.0,809.0" fill="none" stroke="#fefefd" stroke-width="1.6" opacity="0.85"/>
<path d="M1622.0,885.0 L1613.0,892.0 L1602.0,897.0 L1591.0,900.0 L1578.0,901.0 L1566.0,900.0 L1554.0,898.0 L1543.0,893.0 L1534.0,887.0" fill="none" stroke="#fefefd" stroke-width="2.0" opacity="0.85"/>
<path d="M1569.0,869.0 L1566.0,867.0 L1564.0,866.0 L1562.0,864.0 L1560.0,863.0 L1558.0,861.0 L1557.0,859.0 L1555.0,857.0 L1554.0,855.0" fill="none" stroke="#fefefd" stroke-width="1.6" opacity="0.85"/>
<path d="M1602.0,858.0 L1599.0,863.0 L1594.0,867.0 L1588.0,870.0 L1582.0,873.0 L1575.0,874.0 L1567.0,874.0 L1560.0,874.0 L1553.0,872.0" fill="none" stroke="#fefefd" stroke-width="1.6" opacity="0.85"/>
<path d="M1541.0,868.0 L1535.0,862.0 L1529.0,856.0 L1526.0,849.0 L1524.0,842.0 L1524.0,835.0 L1525.0,828.0 L1529.0,821.0 L1534.0,815.0" fill="none" stroke="#fefefd" stroke-width="1.6" opacity="0.85"/>
<path d="M1633.0,815.0 L1640.0,825.0 L1644.0,836.0 L1645.0,847.0" fill="none" stroke="#fefefd" stroke-width="1.6" opacity="0.85"/>
<path d="M1566.0,839.0 L1566.0,838.0 L1566.0,838.0 L1567.0,837.0 L1567.0,837.0 L1568.0,837.0 L1569.0,836.0 L1569.0,836.0 L1570.0,836.0" fill="none" stroke="#fefefd" stroke-width="2.0" opacity="0.85"/>
<path d="M1561.0,830.0 L1565.0,828.0 L1569.0,827.0 L1574.0,827.0 L1578.0,827.0 L1583.0,827.0 L1587.0,828.0 L1592.0,829.0 L1596.0,830.0" fill="none" stroke="#fefefd" stroke-width="1.6" opacity="0.85"/>
<path d="M1539.0,873.0 L1530.0,867.0 L1523.0,860.0 L1518.0,852.0 L1516.0,843.0 L1516.0,834.0 L1519.0,825.0 L1524.0,817.0 L1531.0,810.0" fill="none" stroke="#fefefd" stroke-width="2.0" opacity="0.85"/>
<path d="M1588.0,865.0 L1583.0,868.0 L1577.0,869.0 L1571.0,870.0 L1565.0,869.0 L1559.0,867.0 L1554.0,865.0 L1550.0,861.0 L1547.0,857.0" fill="none" stroke="#fefefd" stroke-width="1.2" opacity="0.85"/>
<path d="M1574.0,809.0 L1580.0,808.0 L1594.0,808.0 L1600.0,810.0 L1606.0,812.0 L1611.0,815.0 L1615.0,819.0 L1618.0,823.0" fill="none" stroke="#fefefd" stroke-width="2.0" opacity="0.85"/>
<path d="M1509.0,848.0 L1512.0,838.0 L1518.0,828.0 L1526.0,820.0 L1537.0,813.0 L1550.0,809.0 L1591.0,809.0" fill="none" stroke="#fefefd" stroke-width="1.6" opacity="0.85"/>
<path d="M1591.0,888.0 L1582.0,888.0 L1574.0,888.0 L1566.0,886.0 L1559.0,883.0 L1552.0,880.0 L1547.0,875.0 L1542.0,870.0 L1539.0,864.0" fill="none" stroke="#fefefd" stroke-width="2.0" opacity="0.85"/>
<path d="M1606.0,870.0 L1593.0,874.0 L1580.0,876.0 L1565.0,876.0 L1552.0,874.0 L1539.0,869.0 L1528.0,862.0 L1520.0,853.0 L1514.0,844.0" fill="none" stroke="#fefefd" stroke-width="1.2" opacity="0.85"/>
<path d="M1593.0,855.0 L1593.0,857.0 L1592.0,859.0 L1590.0,860.0 L1588.0,862.0 L1586.0,863.0 L1584.0,864.0 L1582.0,865.0 L1579.0,865.0" fill="none" stroke="#fefefd" stroke-width="1.6" opacity="0.85"/>
<path d="M1573.0,832.0 L1575.0,832.0 L1578.0,832.0 L1580.0,832.0 L1582.0,832.0 L1585.0,833.0 L1587.0,834.0 L1589.0,835.0 L1590.0,836.0" fill="none" stroke="#fefefd" stroke-width="1.6" opacity="0.85"/>
<path d="M1596.0,866.0 L1591.0,870.0 L1586.0,872.0 L1580.0,874.0 L1573.0,874.0 L1567.0,874.0 L1561.0,872.0 L1555.0,870.0 L1551.0,867.0" fill="none" stroke="#fefefd" stroke-width="1.6" opacity="0.85"/>
<path d="M1580.0,864.0 L1576.0,863.0 L1573.0,861.0 L1570.0,859.0 L1568.0,857.0 L1566.0,855.0 L1564.0,852.0 L1563.0,850.0 L1563.0,847.0" fill="none" stroke="#fefefd" stroke-width="2.0" opacity="0.85"/>
<path d="M1565.0,860.0 L1563.0,858.0 L1563.0,857.0 L1562.0,855.0 L1562.0,853.0 L1563.0,852.0 L1564.0,850.0 L1565.0,849.0 L1566.0,847.0" fill="none" stroke="#fefefd" stroke-width="2.0" opacity="0.85"/>
<path d="M1537.0,839.0 L1542.0,832.0 L1549.0,827.0 L1557.0,823.0 L1566.0,820.0 L1575.0,819.0 L1585.0,820.0 L1594.0,823.0 L1602.0,827.0" fill="none" stroke="#fefefd" stroke-width="1.2" opacity="0.85"/>
<path d="M1632.0,844.0 L1632.0,848.0 L1631.0,852.0 L1630.0,855.0 L1628.0,859.0 L1626.0,862.0 L1624.0,866.0 L1622.0,869.0 L1619.0,872.0" fill="none" stroke="#fefefd" stroke-width="2.0" opacity="0.85"/>
<path d="M1604.0,830.0 L1606.0,832.0 L1608.0,835.0 L1610.0,838.0 L1611.0,841.0 L1611.0,844.0 L1610.0,848.0 L1609.0,851.0 L1607.0,854.0" fill="none" stroke="#fefefd" stroke-width="1.6" opacity="0.85"/>
<path d="M1597.0,847.0 L1597.0,849.0 L1597.0,852.0 L1596.0,854.0 L1595.0,856.0 L1594.0,858.0 L1593.0,860.0 L1591.0,862.0 L1588.0,864.0" fill="none" stroke="#fefefd" stroke-width="1.2" opacity="0.85"/>
<path d="M1510.0,846.0 L1510.0,839.0 L1512.0,833.0 L1514.0,826.0 L1518.0,820.0 L1523.0,815.0 L1529.0,810.0" fill="none" stroke="#fefefd" stroke-width="1.6" opacity="0.85"/>
<path d="M1622.0,882.0 L1618.0,884.0 L1615.0,886.0 L1611.0,888.0 L1607.0,889.0 L1603.0,890.0 L1599.0,891.0 L1595.0,892.0 L1591.0,892.0" fill="none" stroke="#fefefd" stroke-width="2.0" opacity="0.85"/>
<path d="M1577.0,825.0 L1582.0,826.0 L1586.0,828.0 L1590.0,831.0 L1593.0,834.0 L1595.0,837.0 L1596.0,841.0 L1596.0,844.0 L1595.0,848.0" fill="none" stroke="#fefefd" stroke-width="1.2" opacity="0.85"/>
<path d="M1549.0,852.0 L1549.0,851.0 L1548.0,849.0 L1549.0,848.0 L1549.0,847.0 L1549.0,846.0 L1549.0,845.0 L1550.0,844.0 L1550.0,843.0" fill="none" stroke="#fefefd" stroke-width="1.6" opacity="0.85"/>
<path d="M1560.0,899.0 L1550.0,896.0 L1540.0,892.0 L1532.0,887.0 L1525.0,880.0 L1519.0,873.0 L1515.0,865.0 L1513.0,857.0 L1513.0,848.0" fill="none" stroke="#fefefd" stroke-width="1.6" opacity="0.85"/>
<path d="M1610.0,819.0 L1612.0,822.0 L1614.0,824.0 L1616.0,827.0 L1618.0,830.0 L1619.0,833.0 L1620.0,835.0 L1621.0,838.0 L1622.0,841.0" fill="none" stroke="#fefefd" stroke-width="1.2" opacity="0.85"/>
<path d="M1568.0,875.0 L1564.0,874.0 L1560.0,872.0 L1557.0,870.0 L1554.0,868.0 L1552.0,866.0 L1551.0,863.0 L1550.0,860.0 L1549.0,856.0" fill="none" stroke="#fefefd" stroke-width="1.6" opacity="0.85"/>
<path d="M1608.0,887.0 L1605.0,889.0 L1603.0,890.0 L1600.0,892.0 L1597.0,893.0 L1593.0,894.0 L1590.0,895.0 L1587.0,896.0 L1583.0,897.0" fill="none" stroke="#fefefd" stroke-width="2.0" opacity="0.85"/>
<path d="M1507.0,840.0 L1508.0,837.0 L1510.0,834.0 L1511.0,831.0 L1513.0,829.0 L1516.0,826.0 L1518.0,824.0 L1521.0,822.0 L1524.0,819.0" fill="none" stroke="#fefefd" stroke-width="1.6" opacity="0.85"/>
<path d="M1604.0,810.0 L1612.0,814.0 L1619.0,820.0 L1625.0,827.0 L1628.0,834.0 L1629.0,842.0" fill="none" stroke="#fefefd" stroke-width="1.6" opacity="0.85"/>
<path d="M1606.0,809.0 L1612.0,812.0 L1618.0,816.0" fill="none" stroke="#fefefd" stroke-width="1.6" opacity="0.85"/>
<path d="M1586.0,858.0 L1582.0,859.0 L1577.0,860.0 L1573.0,860.0 L1568.0,860.0 L1564.0,859.0 L1560.0,857.0 L1556.0,855.0 L1553.0,852.0" fill="none" stroke="#fefefd" stroke-width="1.6" opacity="0.85"/>
<path d="M1556.0,840.0 L1557.0,839.0 L1558.0,837.0 L1559.0,835.0 L1560.0,834.0 L1561.0,832.0 L1563.0,831.0 L1564.0,830.0 L1566.0,829.0" fill="none" stroke="#fefefd" stroke-width="2.0" opacity="0.85"/>
<path d="M1552.0,826.0 L1556.0,825.0 L1559.0,824.0 L1562.0,823.0 L1566.0,822.0 L1569.0,821.0 L1573.0,821.0 L1577.0,821.0 L1580.0,821.0" fill="none" stroke="#fefefd" stroke-width="2.0" opacity="0.85"/>
<path d="M1546.0,851.0 L1545.0,849.0 L1546.0,847.0 L1546.0,845.0 L1547.0,843.0 L1547.0,841.0 L1548.0,839.0 L1550.0,838.0 L1551.0,836.0" fill="none" stroke="#fefefd" stroke-width="1.2" opacity="0.85"/>
<path d="M1565.0,812.0 L1571.0,811.0 L1576.0,811.0 L1582.0,810.0 L1587.0,811.0 L1593.0,811.0 L1598.0,813.0 L1603.0,814.0 L1608.0,816.0" fill="none" stroke="#fefefd" stroke-width="1.6" opacity="0.85"/>
<path d="M1583.0,853.0 L1579.0,854.0 L1576.0,854.0 L1572.0,853.0 L1569.0,853.0 L1566.0,851.0 L1563.0,850.0 L1561.0,847.0 L1560.0,845.0" fill="none" stroke="#fefefd" stroke-width="1.2" opacity="0.85"/>
<path d="M1567.0,853.0 L1567.0,853.0 L1566.0,852.0 L1566.0,851.0 L1565.0,851.0 L1565.0,850.0 L1564.0,849.0 L1564.0,849.0 L1564.0,848.0" fill="none" stroke="#fefefd" stroke-width="1.2" opacity="0.85"/>
<path d="M1554.0,831.0 L1555.0,830.0 L1557.0,829.0 L1558.0,828.0 L1560.0,827.0 L1562.0,826.0 L1564.0,826.0 L1565.0,825.0 L1567.0,825.0" fill="none" stroke="#fefefd" stroke-width="1.2" opacity="0.85"/>
<path d="M1607.0,847.0 L1608.0,850.0 L1609.0,853.0 L1609.0,857.0 L1609.0,860.0 L1608.0,864.0 L1607.0,867.0 L1605.0,870.0 L1602.0,873.0" fill="none" stroke="#fefefd" stroke-width="1.2" opacity="0.85"/>
<path d="M1564.0,825.0 L1569.0,824.0 L1573.0,823.0 L1578.0,822.0 L1582.0,822.0 L1587.0,822.0 L1591.0,823.0 L1596.0,824.0 L1600.0,826.0" fill="none" stroke="#fefefd" stroke-width="2.0" opacity="0.85"/>
<path d="M1574.0,854.0 L1572.0,854.0 L1570.0,854.0 L1568.0,853.0 L1566.0,852.0 L1565.0,851.0 L1564.0,849.0 L1563.0,848.0 L1563.0,846.0" fill="none" stroke="#fefefd" stroke-width="1.6" opacity="0.85"/>
<path d="M1560.0,859.0 L1558.0,856.0 L1556.0,854.0 L1555.0,851.0 L1554.0,848.0 L1554.0,845.0 L1555.0,842.0 L1557.0,840.0 L1559.0,837.0" fill="none" stroke="#fefefd" stroke-width="1.2" opacity="0.85"/>
<path d="M1555.0,840.0 L1556.0,839.0 L1557.0,838.0 L1558.0,836.0 L1560.0,835.0 L1561.0,834.0 L1562.0,833.0 L1564.0,833.0 L1565.0,832.0" fill="none" stroke="#fefefd" stroke-width="1.2" opacity="0.85"/>
<path d="M1542.0,853.0 L1541.0,848.0 L1542.0,843.0 L1544.0,838.0 L1548.0,833.0 L1553.0,830.0 L1559.0,827.0 L1565.0,826.0 L1572.0,825.0" fill="none" stroke="#fefefd" stroke-width="1.2" opacity="0.85"/>
<path d="M1625.0,859.0 L1623.0,862.0 L1621.0,865.0 L1619.0,868.0 L1616.0,870.0 L1613.0,873.0 L1609.0,875.0 L1606.0,877.0 L1602.0,879.0" fill="none" stroke="#fefefd" stroke-width="1.6" opacity="0.85"/>
<path d="M1589.0,842.0 L1589.0,844.0 L1589.0,845.0 L1588.0,847.0 L1587.0,849.0 L1586.0,850.0 L1584.0,851.0 L1582.0,852.0 L1580.0,853.0" fill="none" stroke="#fefefd" stroke-width="1.2" opacity="0.85"/>
<path d="M1587.0,876.0 L1583.0,876.0 L1580.0,876.0 L1577.0,875.0 L1574.0,875.0 L1571.0,873.0 L1568.0,872.0 L1565.0,870.0 L1563.0,868.0" fill="none" stroke="#fefefd" stroke-width="2.0" opacity="0.85"/>
<path d="M1570.0,815.0 L1573.0,814.0 L1577.0,814.0 L1581.0,815.0 L1584.0,816.0 L1587.0,817.0 L1591.0,818.0 L1593.0,820.0 L1596.0,822.0" fill="none" stroke="#fefefd" stroke-width="1.6" opacity="0.85"/>
<path d="M1524.0,836.0 L1526.0,829.0 L1530.0,822.0 L1535.0,816.0 L1541.0,811.0" fill="none" stroke="#fefefd" stroke-width="2.0" opacity="0.85"/>
<path d="M1589.0,854.0 L1588.0,855.0 L1588.0,855.0 L1588.0,856.0 L1587.0,857.0 L1586.0,857.0 L1586.0,858.0 L1585.0,858.0 L1584.0,859.0" fill="none" stroke="#fefefd" stroke-width="1.2" opacity="0.85"/>
<path d="M1594.0,825.0 L1597.0,825.0 L1599.0,826.0 L1601.0,826.0 L1603.0,827.0 L1605.0,827.0 L1608.0,828.0 L1610.0,829.0 L1611.0,830.0" fill="none" stroke="#fefefd" stroke-width="1.6" opacity="0.85"/>
<path d="M1546.0,905.0 L1538.0,901.0 L1532.0,897.0 L1526.0,892.0 L1521.0,887.0 L1517.0,881.0 L1514.0,874.0 L1513.0,868.0 L1512.0,861.0" fill="none" stroke="#fefefd" stroke-width="1.2" opacity="0.85"/>
<path d="M1559.0,866.0 L1555.0,862.0 L1553.0,857.0 L1552.0,853.0 L1552.0,848.0 L1554.0,843.0 L1557.0,839.0 L1561.0,836.0 L1566.0,833.0" fill="none" stroke="#fefefd" stroke-width="1.2" opacity="0.85"/>
<path d="M1594.0,808.0 L1603.0,812.0 L1611.0,816.0 L1618.0,822.0 L1623.0,828.0 L1627.0,835.0 L1629.0,843.0" fill="none" stroke="#fefefd" stroke-width="1.2" opacity="0.85"/>
<path d="M1535.0,882.0 L1526.0,874.0 L1520.0,865.0 L1516.0,854.0 L1516.0,844.0 L1519.0,834.0 L1525.0,824.0 L1533.0,816.0 L1544.0,809.0" fill="none" stroke="#fefefd" stroke-width="2.0" opacity="0.85"/>
<path d="M1617.0,885.0 L1607.0,889.0 L1596.0,891.0 L1585.0,892.0 L1573.0,891.0 L1563.0,888.0 L1553.0,884.0 L1544.0,878.0 L1537.0,871.0" fill="none" stroke="#fefefd" stroke-width="1.6" opacity="0.85"/>
<path d="M1601.0,890.0 L1596.0,892.0 L1592.0,893.0 L1587.0,895.0 L1582.0,895.0 L1577.0,896.0 L1572.0,896.0 L1568.0,895.0 L1563.0,894.0" fill="none" stroke="#fefefd" stroke-width="1.2" opacity="0.85"/>
<path d="M1605.0,826.0 L1609.0,832.0 L1611.0,838.0 L1611.0,844.0 L1611.0,850.0 L1608.0,856.0 L1605.0,861.0 L1600.0,866.0 L1593.0,870.0" fill="none" stroke="#fefefd" stroke-width="2.0" opacity="0.85"/>
<path d="M1572.0,838.0 L1577.0,838.0 L1581.0,838.0 L1585.0,840.0 L1589.0,841.0 L1592.0,844.0 L1595.0,846.0 L1597.0,849.0 L1598.0,853.0" fill="none" stroke="#fefefd" stroke-width="1.2" opacity="0.85"/>
<path d="M1597.0,848.0 L1595.0,850.0 L1594.0,852.0 L1592.0,854.0 L1589.0,855.0 L1587.0,857.0 L1584.0,857.0 L1580.0,858.0 L1577.0,858.0" fill="none" stroke="#fefefd" stroke-width="2.0" opacity="0.85"/>
<path d="M1581.0,840.0 L1582.0,841.0 L1583.0,841.0 L1584.0,842.0 L1585.0,842.0 L1586.0,843.0 L1587.0,844.0 L1588.0,845.0 L1588.0,846.0" fill="none" stroke="#fefefd" stroke-width="1.2" opacity="0.85"/>
<path d="M1540.0,834.0 L1546.0,826.0 L1555.0,818.0 L1566.0,813.0 L1578.0,810.0 L1590.0,808.0 L1603.0,809.0 L1615.0,813.0 L1626.0,818.0" fill="none" stroke="#fefefd" stroke-width="2.0" opacity="0.85"/>
<path d="M1624.0,844.0 L1625.0,846.0 L1626.0,848.0 L1626.0,850.0 L1626.0,852.0 L1627.0,854.0 L1627.0,856.0 L1626.0,858.0 L1626.0,860.0" fill="none" stroke="#fefefd" stroke-width="1.2" opacity="0.85"/>
<path d="M1623.0,853.0 L1618.0,861.0 L1612.0,868.0 L1604.0,874.0 L1595.0,878.0 L1584.0,880.0 L1573.0,881.0 L1562.0,881.0 L1552.0,878.0" fill="none" stroke="#fefefd" stroke-width="1.6" opacity="0.85"/>
<path d="M1586.0,849.0 L1586.0,850.0 L1586.0,850.0 L1586.0,851.0 L1586.0,851.0 L1585.0,852.0 L1585.0,853.0 L1585.0,853.0 L1584.0,854.0" fill="none" stroke="#fefefd" stroke-width="2.0" opacity="0.85"/>
<path d="M1593.0,838.0 L1595.0,841.0 L1595.0,844.0 L1595.0,847.0 L1594.0,850.0 L1592.0,853.0 L1590.0,855.0 L1587.0,857.0 L1583.0,859.0" fill="none" stroke="#fefefd" stroke-width="1.2" opacity="0.85"/>
<path d="M1589.0,819.0 L1592.0,821.0 L1595.0,824.0 L1597.0,826.0 L1599.0,829.0 L1601.0,832.0 L1603.0,835.0 L1604.0,838.0 L1604.0,841.0" fill="none" stroke="#fefefd" stroke-width="1.2" opacity="0.85"/>
<path d="M1575.0,827.0 L1580.0,827.0 L1585.0,829.0 L1589.0,831.0 L1593.0,833.0 L1596.0,836.0 L1599.0,839.0 L1601.0,842.0 L1602.0,846.0" fill="none" stroke="#fefefd" stroke-width="1.2" opacity="0.85"/>
<path d="M1552.0,839.0 L1551.0,835.0 L1551.0,831.0 L1552.0,827.0 L1554.0,824.0 L1557.0,820.0 L1561.0,818.0 L1566.0,816.0 L1570.0,815.0" fill="none" stroke="#fefefd" stroke-width="1.2" opacity="0.85"/>
<path d="M1581.0,821.0 L1585.0,821.0 L1588.0,822.0 L1592.0,824.0 L1595.0,825.0 L1598.0,827.0 L1601.0,829.0 L1603.0,832.0 L1605.0,834.0" fill="none" stroke="#fefefd" stroke-width="1.6" opacity="0.85"/>
<path d="M1577.0,860.0 L1576.0,860.0 L1575.0,860.0 L1574.0,860.0 L1573.0,860.0 L1573.0,859.0 L1572.0,859.0 L1571.0,859.0 L1570.0,858.0" fill="none" stroke="#fefefd" stroke-width="1.6" opacity="0.85"/>
<path d="M1566.0,847.0 L1566.0,845.0 L1566.0,843.0 L1567.0,841.0 L1567.0,839.0 L1568.0,838.0 L1570.0,836.0 L1571.0,835.0 L1573.0,833.0" fill="none" stroke="#fefefd" stroke-width="2.0" opacity="0.85"/>
<path d="M1603.0,866.0 L1600.0,868.0 L1597.0,870.0 L1594.0,872.0 L1591.0,873.0 L1587.0,874.0 L1583.0,875.0 L1579.0,875.0 L1575.0,875.0" fill="none" stroke="#fefefd" stroke-width="1.6" opacity="0.85"/>
<path d="M1568.0,861.0 L1566.0,861.0 L1565.0,860.0 L1564.0,859.0 L1564.0,858.0 L1563.0,857.0 L1563.0,856.0 L1563.0,855.0 L1564.0,854.0" fill="none" stroke="#fefefd" stroke-width="1.2" opacity="0.85"/>
<path d="M1541.0,810.0 L1600.0,810.0 L1610.0,816.0 L1618.0,823.0 L1623.0,832.0" fill="none" stroke="#fefefd" stroke-width="2.0" opacity="0.85"/>
<path d="M1589.0,841.0 L1591.0,842.0 L1593.0,843.0 L1594.0,844.0 L1596.0,845.0 L1597.0,846.0 L1597.0,848.0 L1598.0,849.0 L1598.0,851.0" fill="none" stroke="#fefefd" stroke-width="1.6" opacity="0.85"/>
<path d="M1572.0,835.0 L1574.0,834.0 L1577.0,834.0 L1579.0,833.0 L1582.0,833.0 L1584.0,833.0 L1587.0,834.0 L1589.0,834.0 L1591.0,835.0" fill="none" stroke="#fefefd" stroke-width="1.2" opacity="0.85"/>
<path d="M1573.0,849.0 L1571.0,850.0 L1570.0,851.0 L1568.0,851.0 L1566.0,851.0 L1564.0,851.0 L1562.0,850.0 L1561.0,849.0 L1560.0,848.0" fill="none" stroke="#fefefd" stroke-width="1.6" opacity="0.85"/>
<path d="M1635.0,855.0 L1633.0,862.0 L1630.0,869.0 L1625.0,876.0 L1619.0,882.0 L1612.0,887.0 L1604.0,891.0 L1595.0,894.0 L1586.0,897.0" fill="none" stroke="#fefefd" stroke-width="1.2" opacity="0.85"/>
<path d="M1568.0,850.0 L1569.0,849.0 L1570.0,848.0 L1571.0,848.0 L1573.0,848.0 L1574.0,847.0 L1575.0,848.0 L1577.0,848.0 L1578.0,848.0" fill="none" stroke="#fefefd" stroke-width="2.0" opacity="0.85"/>
<path d="M1555.0,824.0 L1558.0,822.0 L1561.0,821.0 L1564.0,819.0 L1568.0,818.0 L1571.0,817.0 L1575.0,816.0 L1579.0,816.0 L1582.0,815.0" fill="none" stroke="#fefefd" stroke-width="1.6" opacity="0.85"/>
<path d="M1600.0,835.0 L1602.0,837.0 L1603.0,840.0 L1604.0,843.0 L1604.0,846.0 L1603.0,848.0 L1602.0,851.0 L1601.0,854.0 L1599.0,856.0" fill="none" stroke="#fefefd" stroke-width="1.6" opacity="0.85"/>
<path d="M1603.0,879.0 L1597.0,882.0 L1591.0,883.0 L1584.0,884.0 L1578.0,885.0 L1571.0,884.0 L1564.0,883.0 L1558.0,881.0 L1552.0,878.0" fill="none" stroke="#fefefd" stroke-width="1.6" opacity="0.85"/>
<path d="M1528.0,866.0 L1526.0,863.0 L1525.0,861.0 L1523.0,858.0 L1522.0,855.0 L1522.0,852.0 L1521.0,849.0 L1521.0,845.0 L1521.0,842.0" fill="none" stroke="#fefefd" stroke-width="1.2" opacity="0.85"/>
<path d="M1613.0,832.0 L1615.0,835.0 L1618.0,838.0 L1620.0,841.0 L1621.0,844.0 L1622.0,848.0 L1622.0,851.0 L1621.0,855.0 L1620.0,858.0" fill="none" stroke="#fefefd" stroke-width="1.2" opacity="0.85"/>
<path d="M1558.0,859.0 L1559.0,855.0 L1561.0,852.0 L1563.0,849.0 L1567.0,846.0 L1571.0,844.0 L1575.0,843.0 L1580.0,842.0 L1585.0,842.0" fill="none" stroke="#fefefd" stroke-width="1.2" opacity="0.85"/>
<path d="M1541.0,822.0 L1552.0,818.0 L1564.0,816.0 L1576.0,817.0 L1588.0,819.0 L1599.0,823.0 L1608.0,829.0 L1616.0,836.0 L1621.0,844.0" fill="none" stroke="#fefefd" stroke-width="1.2" opacity="0.85"/>
<path d="M1580.0,833.0 L1582.0,834.0 L1583.0,836.0 L1585.0,837.0 L1586.0,838.0 L1587.0,840.0 L1587.0,842.0 L1587.0,843.0 L1587.0,845.0" fill="none" stroke="#fefefd" stroke-width="1.2" opacity="0.85"/>
<path d="M1574.0,890.0 L1563.0,887.0 L1553.0,883.0 L1545.0,877.0 L1539.0,869.0 L1535.0,861.0 L1533.0,853.0 L1534.0,844.0 L1538.0,836.0" fill="none" stroke="#fefefd" stroke-width="1.6" opacity="0.85"/>
<path d="M1602.0,865.0 L1600.0,867.0 L1597.0,869.0 L1594.0,871.0 L1591.0,873.0 L1588.0,874.0 L1585.0,876.0 L1581.0,877.0 L1578.0,877.0" fill="none" stroke="#fefefd" stroke-width="2.0" opacity="0.85"/>
<path d="M1603.0,877.0 L1598.0,878.0 L1592.0,879.0 L1587.0,880.0 L1581.0,879.0 L1576.0,879.0 L1571.0,877.0 L1566.0,875.0 L1561.0,873.0" fill="none" stroke="#fefefd" stroke-width="1.6" opacity="0.85"/>
<path d="M1537.0,839.0 L1538.0,835.0 L1539.0,830.0 L1542.0,826.0 L1545.0,823.0 L1549.0,819.0 L1553.0,816.0 L1558.0,814.0 L1564.0,813.0" fill="none" stroke="#fefefd" stroke-width="2.0" opacity="0.85"/>
<path d="M1610.0,841.0 L1614.0,848.0 L1616.0,855.0 L1616.0,863.0 L1614.0,871.0 L1611.0,878.0 L1605.0,884.0 L1599.0,890.0 L1591.0,895.0" fill="none" stroke="#fefefd" stroke-width="2.0" opacity="0.85"/>
<path d="M1611.0,843.0 L1612.0,845.0 L1612.0,847.0 L1612.0,848.0 L1612.0,850.0 L1612.0,851.0 L1612.0,853.0 L1612.0,855.0 L1611.0,856.0" fill="none" stroke="#fefefd" stroke-width="2.0" opacity="0.85"/>
<path d="M1581.0,848.0 L1582.0,848.0 L1583.0,848.0 L1584.0,849.0 L1585.0,850.0 L1586.0,850.0 L1587.0,851.0 L1587.0,852.0 L1587.0,853.0" fill="none" stroke="#fefefd" stroke-width="2.0" opacity="0.85"/>
<path d="M1569.0,855.0 L1569.0,856.0 L1569.0,856.0 L1569.0,857.0 L1569.0,857.0 L1569.0,858.0 L1569.0,859.0 L1569.0,859.0 L1569.0,860.0" fill="none" stroke="#fefefd" stroke-width="1.2" opacity="0.85"/>
<path d="M1628.0,809.0 L1634.0,816.0 L1638.0,825.0 L1641.0,833.0 L1641.0,842.0 L1638.0,851.0 L1634.0,859.0 L1628.0,867.0 L1620.0,873.0" fill="none" stroke="#fefefd" stroke-width="2.0" opacity="0.85"/>
<path d="M1600.0,857.0 L1598.0,859.0 L1596.0,860.0 L1594.0,862.0 L1592.0,864.0 L1589.0,865.0 L1587.0,866.0 L1584.0,867.0 L1581.0,868.0" fill="none" stroke="#fefefd" stroke-width="1.6" opacity="0.85"/>
<path d="M1616.0,847.0 L1616.0,850.0 L1615.0,853.0 L1614.0,856.0 L1612.0,858.0 L1609.0,861.0 L1607.0,863.0 L1604.0,865.0 L1600.0,866.0" fill="none" stroke="#fefefd" stroke-width="1.2" opacity="0.85"/>
<path d="M1570.0,827.0 L1572.0,826.0 L1574.0,826.0 L1576.0,825.0 L1579.0,825.0 L1581.0,825.0 L1583.0,826.0 L1585.0,826.0 L1587.0,827.0" fill="none" stroke="#fefefd" stroke-width="1.6" opacity="0.85"/>
<path d="M1578.0,826.0 L1583.0,825.0 L1588.0,825.0 L1593.0,826.0 L1598.0,827.0 L1603.0,828.0 L1607.0,830.0 L1611.0,832.0 L1615.0,835.0" fill="none" stroke="#fefefd" stroke-width="1.2" opacity="0.85"/>
<path d="M1564.0,842.0 L1567.0,840.0 L1572.0,838.0 L1576.0,837.0 L1581.0,837.0 L1586.0,838.0 L1591.0,839.0 L1594.0,842.0 L1598.0,844.0" fill="none" stroke="#fefefd" stroke-width="1.2" opacity="0.85"/>
<path d="M1502,725 q3,40 0,71" fill="none" stroke="#fefefd" stroke-width="0.9" opacity="0.5"/>
<path d="M1520,734 q3,40 0,98" fill="none" stroke="#fefefd" stroke-width="0.9" opacity="0.5"/>
<path d="M1519,733 q3,40 0,84" fill="none" stroke="#fefefd" stroke-width="0.9" opacity="0.5"/>
<path d="M1507,729 q3,40 0,96" fill="none" stroke="#fefefd" stroke-width="0.9" opacity="0.5"/>
<path d="M1507,725 q3,40 0,65" fill="none" stroke="#fefefd" stroke-width="0.9" opacity="0.5"/>
<path d="M1527,720 q3,40 0,85" fill="none" stroke="#fefefd" stroke-width="0.9" opacity="0.5"/>
<path d="M1504,718 q3,40 0,93" fill="none" stroke="#fefefd" stroke-width="0.9" opacity="0.5"/>
<path d="M1517,726 q3,40 0,80" fill="none" stroke="#fefefd" stroke-width="0.9" opacity="0.5"/>
<defs><linearGradient id="Ffade" x1="0" y1="0" x2="0" y2="1"><stop offset="0" stop-color="#fefefd" stop-opacity="0"/><stop offset="1" stop-color="#fefefd" stop-opacity="0.7"/></linearGradient></defs>
<rect x="1500" y="865" width="150" height="45" fill="url(#Ffade)"/>
<path d="M1529,772 L1529,795 L1512,795" fill="none" stroke="#30a040" stroke-width="1.2"/>
<rect x="1521" y="879" width="15" height="25" fill="none" stroke="#9a9492" stroke-width="1"/>
<rect x="1570" y="879" width="20" height="25" fill="none" stroke="#9a9492" stroke-width="1"/>
<rect x="1621" y="879" width="15" height="25" fill="none" stroke="#9a9492" stroke-width="1"/>
<path d="M208.6,1287.0 L272.6,1278.0 M207.4,1279.0 L271.4,1270.0" stroke="#8a8280" stroke-width="1.1" fill="none"/><rect x="205.0" y="1278.0" width="6" height="10.0" transform="rotate(-8.0 208 1283)" fill="#fefefd" stroke="#8a8280" stroke-width="1"/>
<path d="M234.0,1358.6 L279.0,1307.6 M228.0,1353.4 L273.0,1302.4" stroke="#8a8280" stroke-width="1.1" fill="none"/><rect x="228.0" y="1351.0" width="6" height="10.0" transform="rotate(-48.6 231 1356)" fill="#fefefd" stroke="#8a8280" stroke-width="1"/>
<path d="M529.9,1097.5 L488.9,1149.5 M536.1,1102.5 L495.1,1154.5" stroke="#8a8280" stroke-width="1.1" fill="none"/><rect x="530.0" y="1095.0" width="6" height="10.0" transform="rotate(128.3 533 1100)" fill="#fefefd" stroke="#8a8280" stroke-width="1"/>
<path d="M558.7,1171.0 L497.7,1175.0 M559.3,1179.0 L498.3,1183.0" stroke="#8a8280" stroke-width="1.1" fill="none"/><rect x="556.0" y="1170.0" width="6" height="10.0" transform="rotate(176.2 559 1175)" fill="#fefefd" stroke="#8a8280" stroke-width="1"/>
<rect x="237.5" y="1167.0" width="295.0" height="124.0" rx="62.0" transform="rotate(-31 385 1229)" fill="none" stroke="#8a8280" stroke-width="1.2" />
<rect x="247.0" y="1176.5" width="276.0" height="105.0" rx="52.5" transform="rotate(-31 385 1229)" fill="none" stroke="#8a8280" stroke-width="1.1" />
<rect x="253.0" y="1182.5" width="264.0" height="93.0" rx="46.5" transform="rotate(-31 385 1229)" fill="none" stroke="#c8c0bc" stroke-width="1.0" />
<defs><clipPath id="Gclip"><rect x="257.0" y="1186.5" width="256.0" height="85.0" rx="42.5" transform="rotate(-31 385 1229)" fill="#000" stroke="none" stroke-width="0" /></clipPath><radialGradient id="Gend" cx="0.5" cy="0.5" r="0.5"><stop offset="0" stop-color="#3a3a9a" stop-opacity="0"/><stop offset="0.75" stop-color="#3a3a9a" stop-opacity="0.2"/><stop offset="1" stop-color="#3a3a9a" stop-opacity="1"/></radialGradient><filter id="Gbl"><feGaussianBlur stdDeviation="1.3"/></filter></defs>
<g clip-path="url(#Gclip)">
<rect x="257.0" y="1186.5" width="256.0" height="85.0" rx="42.5" transform="rotate(-31 385 1229)" fill="#3a3c9a" stroke="none" stroke-width="0" />
<rect x="272.0" y="1189.5" width="226.0" height="79.0" rx="39.5" transform="rotate(-31 385 1229)" fill="#3ea8a8" stroke="none" stroke-width="0" filter="url(#Gbl)"/>
<defs><pattern id="Gnet" width="40" height="40" patternUnits="userSpaceOnUse" patternTransform="rotate(-31)"><circle cx="6.6" cy="27.6" r="3.4" fill="#3cb0c8"/><circle cx="8.6" cy="31.7" r="3.4" fill="#48bc8c"/><circle cx="9.4" cy="0.1" r="4.1" fill="#62c050"/><circle cx="9.4" cy="40.1" r="4.1" fill="#62c050"/><circle cx="17.1" cy="5.8" r="4.1" fill="#5cbc5c"/><circle cx="27.8" cy="17.5" r="3.6" fill="#44b89c"/><circle cx="1.4" cy="13.2" r="3.7" fill="#40b4b0"/><circle cx="41.4" cy="13.2" r="3.7" fill="#40b4b0"/><circle cx="26.0" cy="-2.5" r="2.8" fill="#38b4b8"/><circle cx="26.0" cy="37.5" r="2.8" fill="#38b4b8"/><circle cx="32.7" cy="5.0" r="3.3" fill="#38b4b8"/><circle cx="32.7" cy="45.0" r="3.3" fill="#38b4b8"/><circle cx="22.1" cy="13.7" r="2.8" fill="#40b4b0"/><circle cx="26.6" cy="18.8" r="2.7" fill="#5cbc5c"/><circle cx="7.9" cy="27.0" r="2.8" fill="#40b8a8"/><circle cx="19.1" cy="33.1" r="3.1" fill="#5cbc5c"/><circle cx="5.8" cy="21.4" r="3.2" fill="#3cb0c8"/><circle cx="18.1" cy="15.4" r="3.2" fill="#40b4b0"/><circle cx="1.1" cy="3.7" r="2.6" fill="#40b4b0"/><circle cx="1.1" cy="43.7" r="2.6" fill="#40b4b0"/><circle cx="41.1" cy="3.7" r="2.6" fill="#40b4b0"/><circle cx="41.1" cy="43.7" r="2.6" fill="#40b4b0"/><circle cx="2.8" cy="24.0" r="3.5" fill="#5cbc5c"/><circle cx="42.8" cy="24.0" r="3.5" fill="#5cbc5c"/><circle cx="12.7" cy="-0.8" r="2.9" fill="#40b8a8"/><circle cx="12.7" cy="39.2" r="2.9" fill="#40b8a8"/><circle cx="6.8" cy="13.9" r="3.2" fill="#62c050"/><circle cx="23.9" cy="12.3" r="2.9" fill="#40b8a8"/><circle cx="-3.1" cy="7.0" r="3.2" fill="#44b89c"/><circle cx="36.9" cy="7.0" r="3.2" fill="#44b89c"/><circle cx="27.3" cy="27.0" r="3.3" fill="#5cbc5c"/><circle cx="-0.4" cy="-1.5" r="4.0" fill="#38b4b8"/><circle cx="-0.4" cy="38.5" r="4.0" fill="#38b4b8"/><circle cx="39.6" cy="-1.5" r="4.0" fill="#38b4b8"/><circle cx="39.6" cy="38.5" r="4.0" fill="#38b4b8"/><circle cx="19.6" cy="15.0" r="4.1" fill="#5cbc5c"/><circle cx="9.8" cy="22.5" r="3.9" fill="#40b4b0"/><circle cx="31.0" cy="19.3" r="2.7" fill="#3cb0c8"/><circle cx="10.3" cy="11.6" r="3.0" fill="#44b89c"/><circle cx="15.8" cy="34.8" r="4.2" fill="#48bc8c"/><circle cx="29.8" cy="19.2" r="2.8" fill="#3cb0c8"/><circle cx="26.0" cy="-3.5" r="2.6" fill="#40b4b0"/><circle cx="26.0" cy="36.5" r="2.6" fill="#40b4b0"/><circle cx="8.5" cy="33.5" r="4.0" fill="#48bc8c"/><circle cx="24.1" cy="17.0" r="3.1" fill="#40b4b0"/><circle cx="21.4" cy="11.0" r="3.2" fill="#38b4b8"/><circle cx="5.0" cy="28.6" r="3.5" fill="#3cb0c8"/><circle cx="25.8" cy="34.1" r="3.0" fill="#44b89c"/><circle cx="16.2" cy="-1.7" r="2.8" fill="#48bc8c"/><circle cx="16.2" cy="38.3" r="2.8" fill="#48bc8c"/><circle cx="3.8" cy="3.8" r="3.6" fill="#38b4b8"/><circle cx="3.8" cy="43.8" r="3.6" fill="#38b4b8"/><circle cx="43.8" cy="3.8" r="3.6" fill="#38b4b8"/><circle cx="43.8" cy="43.8" r="3.6" fill="#38b4b8"/><circle cx="31.4" cy="2.9" r="3.6" fill="#40b8a8"/><circle cx="31.4" cy="42.9" r="3.6" fill="#40b8a8"/><circle cx="5.1" cy="21.5" r="3.2" fill="#62c050"/><circle cx="-4.5" cy="24.8" r="2.9" fill="#48bc8c"/><circle cx="35.5" cy="24.8" r="2.9" fill="#48bc8c"/><circle cx="15.1" cy="28.4" r="3.6" fill="#38b4b8"/><circle cx="20.2" cy="29.8" r="3.9" fill="#38b4b8"/><circle cx="0.3" cy="18.6" r="3.2" fill="#40b8a8"/><circle cx="40.3" cy="18.6" r="3.2" fill="#40b8a8"/><circle cx="22.7" cy="34.2" r="3.0" fill="#5cbc5c"/><circle cx="27.9" cy="12.5" r="3.0" fill="#38b4b8"/><circle cx="6.2" cy="29.0" r="3.9" fill="#3cb0c8"/><circle cx="32.1" cy="19.6" r="3.5" fill="#40b8a8"/><circle cx="2.4" cy="23.8" r="4.1" fill="#62c050"/><circle cx="42.4" cy="23.8" r="4.1" fill="#62c050"/><circle cx="12.4" cy="28.0" r="2.7" fill="#5cbc5c"/><circle cx="32.6" cy="-0.9" r="2.7" fill="#62c050"/><circle cx="32.6" cy="39.1" r="2.7" fill="#62c050"/><circle cx="26.3" cy="16.8" r="3.6" fill="#40b8a8"/><circle cx="25.1" cy="32.3" r="3.4" fill="#40b4b0"/><circle cx="-2.1" cy="27.2" r="3.4" fill="#40b4b0"/><circle cx="37.9" cy="27.2" r="3.4" fill="#40b4b0"/><circle cx="20.5" cy="-5.0" r="3.0" fill="#40b8a8"/><circle cx="20.5" cy="35.0" r="3.0" fill="#40b8a8"/><circle cx="2.0" cy="17.4" r="3.0" fill="#5cbc5c"/><circle cx="42.0" cy="17.4" r="3.0" fill="#5cbc5c"/><circle cx="23.6" cy="16.2" r="3.3" fill="#44b89c"/><circle cx="9.5" cy="15.4" r="3.0" fill="#40b4b0"/><circle cx="-3.4" cy="26.2" r="3.4" fill="#38b4b8"/><circle cx="36.6" cy="26.2" r="3.4" fill="#38b4b8"/><circle cx="19.7" cy="28.7" r="3.8" fill="#5cbc5c"/><circle cx="25.1" cy="30.3" r="3.0" fill="#3cb0c8"/><circle cx="-3.3" cy="15.4" r="3.9" fill="#44b89c"/><circle cx="36.7" cy="15.4" r="3.9" fill="#44b89c"/><circle cx="-1.5" cy="-0.4" r="2.9" fill="#38b4b8"/><circle cx="-1.5" cy="39.6" r="2.9" fill="#38b4b8"/><circle cx="38.5" cy="-0.4" r="2.9" fill="#38b4b8"/><circle cx="38.5" cy="39.6" r="2.9" fill="#38b4b8"/><circle cx="8.1" cy="-5.0" r="2.7" fill="#48bc8c"/><circle cx="8.1" cy="35.0" r="2.7" fill="#48bc8c"/><circle cx="7.0" cy="20.9" r="3.8" fill="#44b89c"/><circle cx="18.5" cy="4.3" r="3.7" fill="#48bc8c"/><circle cx="18.5" cy="44.3" r="3.7" fill="#48bc8c"/><circle cx="8.2" cy="13.4" r="3.0" fill="#5cbc5c"/><circle cx="-2.0" cy="12.9" r="4.1" fill="#3cb0c8"/><circle cx="38.0" cy="12.9" r="4.1" fill="#3cb0c8"/><circle cx="-1.3" cy="-4.0" r="3.0" fill="#5cbc5c"/><circle cx="-1.3" cy="36.0" r="3.0" fill="#5cbc5c"/><circle cx="38.7" cy="-4.0" r="3.0" fill="#5cbc5c"/><circle cx="38.7" cy="36.0" r="3.0" fill="#5cbc5c"/><circle cx="27.5" cy="28.6" r="4.1" fill="#48bc8c"/><circle cx="18.7" cy="17.5" r="3.7" fill="#3cb0c8"/><circle cx="26.7" cy="24.9" r="2.9" fill="#40b8a8"/><circle cx="-1.6" cy="1.4" r="2.6" fill="#62c050"/><circle cx="-1.6" cy="41.4" r="2.6" fill="#62c050"/><circle cx="38.4" cy="1.4" r="2.6" fill="#62c050"/><circle cx="38.4" cy="41.4" r="2.6" fill="#62c050"/><circle cx="20.0" cy="1.6" r="3.7" fill="#40b4b0"/><circle cx="20.0" cy="41.6" r="3.7" fill="#40b4b0"/><circle cx="9.6" cy="0.3" r="2.8" fill="#48bc8c"/><circle cx="9.6" cy="40.3" r="2.8" fill="#48bc8c"/><circle cx="12.4" cy="18.2" r="3.2" fill="#38b4b8"/><circle cx="5.4" cy="31.7" r="3.4" fill="#44b89c"/><circle cx="2.0" cy="7.5" r="4.0" fill="#44b89c"/><circle cx="42.0" cy="7.5" r="4.0" fill="#44b89c"/><circle cx="9.8" cy="23.0" r="4.0" fill="#40b4b0"/><circle cx="0.7" cy="23.3" r="3.3" fill="#40b8a8"/><circle cx="40.7" cy="23.3" r="3.3" fill="#40b8a8"/><circle cx="33.3" cy="-0.4" r="2.8" fill="#5cbc5c"/><circle cx="33.3" cy="39.6" r="2.8" fill="#5cbc5c"/><circle cx="19.9" cy="21.1" r="3.4" fill="#40b4b0"/><circle cx="32.0" cy="13.5" r="2.8" fill="#3cb0c8"/><circle cx="11.5" cy="25.6" r="4.0" fill="#38b4b8"/><circle cx="2.8" cy="2.7" r="3.7" fill="#40b8a8"/><circle cx="2.8" cy="42.7" r="3.7" fill="#40b8a8"/><circle cx="42.8" cy="2.7" r="3.7" fill="#40b8a8"/><circle cx="42.8" cy="42.7" r="3.7" fill="#40b8a8"/><circle cx="7.6" cy="10.8" r="2.9" fill="#38b4b8"/><circle cx="23.4" cy="11.0" r="2.9" fill="#44b89c"/><circle cx="4.2" cy="-2.8" r="3.3" fill="#3cb0c8"/><circle cx="4.2" cy="37.2" r="3.3" fill="#3cb0c8"/><circle cx="44.2" cy="-2.8" r="3.3" fill="#3cb0c8"/><circle cx="44.2" cy="37.2" r="3.3" fill="#3cb0c8"/><circle cx="27.6" cy="29.1" r="2.7" fill="#44b89c"/><circle cx="33.1" cy="8.5" r="3.8" fill="#38b4b8"/><circle cx="24.3" cy="25.3" r="2.6" fill="#48bc8c"/><circle cx="14.7" cy="19.1" r="3.9" fill="#40b4b0"/><circle cx="-3.7" cy="27.2" r="3.7" fill="#5cbc5c"/><circle cx="36.3" cy="27.2" r="3.7" fill="#5cbc5c"/><circle cx="25.9" cy="24.6" r="4.2" fill="#40b8a8"/><circle cx="15.6" cy="-2.3" r="2.6" fill="#62c050"/><circle cx="15.6" cy="37.7" r="2.6" fill="#62c050"/><circle cx="14.1" cy="24.5" r="3.8" fill="#38b4b8"/><circle cx="25.9" cy="6.5" r="2.9" fill="#44b89c"/><circle cx="-0.1" cy="22.2" r="3.8" fill="#40b4b0"/><circle cx="39.9" cy="22.2" r="3.8" fill="#40b4b0"/><circle cx="-4.7" cy="14.5" r="3.0" fill="#40b8a8"/><circle cx="35.3" cy="14.5" r="3.0" fill="#40b8a8"/><circle cx="24.0" cy="14.1" r="3.5" fill="#62c050"/><circle cx="-0.2" cy="-3.5" r="4.2" fill="#38b4b8"/><circle cx="-0.2" cy="36.5" r="4.2" fill="#38b4b8"/><circle cx="39.8" cy="-3.5" r="4.2" fill="#38b4b8"/><circle cx="39.8" cy="36.5" r="4.2" fill="#38b4b8"/><circle cx="29.6" cy="29.7" r="4.1" fill="#5cbc5c"/><circle cx="20.9" cy="-4.2" r="2.8" fill="#3cb0c8"/><circle cx="20.9" cy="35.8" r="2.8" fill="#3cb0c8"/><circle cx="9.6" cy="17.0" r="3.8" fill="#40b4b0"/><circle cx="30.1" cy="26.0" r="2.9" fill="#3cb0c8"/><circle cx="33.1" cy="8.9" r="3.0" fill="#40b4b0"/><circle cx="21.5" cy="18.4" r="3.9" fill="#38b4b8"/><circle cx="13.4" cy="17.6" r="3.8" fill="#3cb0c8"/><circle cx="29.2" cy="-0.3" r="2.8" fill="#44b89c"/><circle cx="29.2" cy="39.7" r="2.8" fill="#44b89c"/><circle cx="1.3" cy="31.1" r="3.5" fill="#3cb0c8"/><circle cx="41.3" cy="31.1" r="3.5" fill="#3cb0c8"/><circle cx="-0.1" cy="7.9" r="4.0" fill="#5cbc5c"/><circle cx="39.9" cy="7.9" r="4.0" fill="#5cbc5c"/><circle cx="22.1" cy="30.6" r="2.6" fill="#38b4b8"/><circle cx="-3.3" cy="5.3" r="3.3" fill="#62c050"/><circle cx="36.7" cy="5.3" r="3.3" fill="#62c050"/><circle cx="15.6" cy="25.1" r="4.0" fill="#40b8a8"/><circle cx="30.1" cy="15.0" r="3.8" fill="#3cb0c8"/><circle cx="18.4" cy="5.0" r="3.6" fill="#5cbc5c"/><circle cx="18.4" cy="45.0" r="3.6" fill="#5cbc5c"/><circle cx="13.3" cy="33.9" r="3.0" fill="#3cb0c8"/><circle cx="5.2" cy="30.1" r="2.8" fill="#3cb0c8"/><circle cx="24.7" cy="25.8" r="2.8" fill="#5cbc5c"/><circle cx="30.8" cy="19.8" r="3.7" fill="#38b4b8"/><circle cx="13.4" cy="26.0" r="2.6" fill="#62c050"/><circle cx="33.7" cy="11.3" r="3.7" fill="#3cb0c8"/><circle cx="16.5" cy="4.9" r="1.4" fill="#d8d030"/><circle cx="39.9" cy="9.3" r="1.4" fill="#a8c838"/><circle cx="19.5" cy="21.5" r="1.4" fill="#c8d040"/><circle cx="17.3" cy="0.9" r="1.4" fill="#c8d040"/><circle cx="5.7" cy="16.1" r="1.4" fill="#a8c838"/><circle cx="25.4" cy="18.3" r="1.4" fill="#e8a030"/><circle cx="17.6" cy="9.3" r="1.4" fill="#a8c838"/><circle cx="33.7" cy="31.0" r="1.4" fill="#d8d030"/></pattern><pattern id="Ghole" width="12" height="18" patternUnits="userSpaceOnUse" patternTransform="translate(385,1229) rotate(-31)"><ellipse cx="3" cy="4.5" rx="4.3" ry="2.6" transform="rotate(-35 3 4.5)" fill="#3a3a9c"/><ellipse cx="9" cy="13.5" rx="4.3" ry="2.6" transform="rotate(-35 9 13.5)" fill="#3a3a9c"/></pattern></defs>
<rect x="268.0" y="1188.0" width="234.0" height="82.0" rx="41.0" transform="rotate(-31 385 1229)" fill="url(#Gnet)" stroke="none" stroke-width="0" filter="url(#Gbl)"/>
<rect x="277.0" y="1191.5" width="216.0" height="75.0" rx="37.5" transform="rotate(-31 385 1229)" fill="url(#Ghole)" stroke="none" stroke-width="0" filter="url(#Gbl)"/>
<rect x="257.0" y="1186.5" width="256.0" height="85.0" rx="42.5" transform="rotate(-31 385 1229)" fill="url(#Gend)" stroke="none" stroke-width="0" />
<circle cx="282" cy="1275" r="5" fill="#f0e030" filter="url(#Gbl)"/><circle cx="282" cy="1275" r="2.5" fill="#e83020"/>
<circle cx="270" cy="1277" r="3" fill="#e8a030"/>
</g>
<defs><clipPath id="Hclip"><rect x="781" y="1078" width="346" height="302"/></clipPath><filter id="Hbl"><feGaussianBlur stdDeviation="1.1"/></filter></defs>
<g clip-path="url(#Hclip)">
<line x1="640.0" y1="1070" x2="960.0" y2="1390" stroke="#8c8684" stroke-width="0.9" opacity="0.8"/>
<line x1="644.5" y1="1070" x2="964.5" y2="1390" stroke="#8c8684" stroke-width="0.9" opacity="0.8"/>
<line x1="700.0" y1="1070" x2="1020.0" y2="1390" stroke="#8c8684" stroke-width="0.9" opacity="0.8"/>
<line x1="704.5" y1="1070" x2="1024.5" y2="1390" stroke="#8c8684" stroke-width="0.9" opacity="0.8"/>
<line x1="709.0" y1="1070" x2="1029.0" y2="1390" stroke="#8c8684" stroke-width="0.9" opacity="0.8"/>
<line x1="713.5" y1="1070" x2="1033.5" y2="1390" stroke="#8c8684" stroke-width="0.9" opacity="0.8"/>
<line x1="718.0" y1="1070" x2="1038.0" y2="1390" stroke="#8c8684" stroke-width="0.9" opacity="0.8"/>
<line x1="730.0" y1="1070" x2="1050.0" y2="1390" stroke="#8c8684" stroke-width="0.9" opacity="0.8"/>
<line x1="734.5" y1="1070" x2="1054.5" y2="1390" stroke="#8c8684" stroke-width="0.9" opacity="0.8"/>
<line x1="760.0" y1="1070" x2="1080.0" y2="1390" stroke="#8c8684" stroke-width="0.9" opacity="0.8"/>
<line x1="764.5" y1="1070" x2="1084.5" y2="1390" stroke="#8c8684" stroke-width="0.9" opacity="0.8"/>
<line x1="769.0" y1="1070" x2="1089.0" y2="1390" stroke="#8c8684" stroke-width="0.9" opacity="0.8"/>
<line x1="773.5" y1="1070" x2="1093.5" y2="1390" stroke="#8c8684" stroke-width="0.9" opacity="0.8"/>
<line x1="778.0" y1="1070" x2="1098.0" y2="1390" stroke="#8c8684" stroke-width="0.9" opacity="0.8"/>
<line x1="830.0" y1="1070" x2="1150.0" y2="1390" stroke="#8c8684" stroke-width="0.9" opacity="0.8"/>
<line x1="834.5" y1="1070" x2="1154.5" y2="1390" stroke="#8c8684" stroke-width="0.9" opacity="0.8"/>
<line x1="839.0" y1="1070" x2="1159.0" y2="1390" stroke="#8c8684" stroke-width="0.9" opacity="0.8"/>
<line x1="870.0" y1="1070" x2="1190.0" y2="1390" stroke="#8c8684" stroke-width="0.9" opacity="0.8"/>
<line x1="874.5" y1="1070" x2="1194.5" y2="1390" stroke="#8c8684" stroke-width="0.9" opacity="0.8"/>
<line x1="900.0" y1="1070" x2="1220.0" y2="1390" stroke="#8c8684" stroke-width="0.9" opacity="0.8"/>
<line x1="904.5" y1="1070" x2="1224.5" y2="1390" stroke="#8c8684" stroke-width="0.9" opacity="0.8"/>
<line x1="909.0" y1="1070" x2="1229.0" y2="1390" stroke="#8c8684" stroke-width="0.9" opacity="0.8"/>
<line x1="960.0" y1="1070" x2="1280.0" y2="1390" stroke="#8c8684" stroke-width="0.9" opacity="0.8"/>
<line x1="964.5" y1="1070" x2="1284.5" y2="1390" stroke="#8c8684" stroke-width="0.9" opacity="0.8"/>
<line x1="1020.0" y1="1070" x2="1340.0" y2="1390" stroke="#8c8684" stroke-width="0.9" opacity="0.8"/>
<line x1="1024.5" y1="1070" x2="1344.5" y2="1390" stroke="#8c8684" stroke-width="0.9" opacity="0.8"/>
<line x1="1029.0" y1="1070" x2="1349.0" y2="1390" stroke="#8c8684" stroke-width="0.9" opacity="0.8"/>
<line x1="1080.0" y1="1070" x2="1400.0" y2="1390" stroke="#8c8684" stroke-width="0.9" opacity="0.8"/>
<line x1="1084.5" y1="1070" x2="1404.5" y2="1390" stroke="#8c8684" stroke-width="0.9" opacity="0.8"/>
<line x1="1089.0" y1="1070" x2="1409.0" y2="1390" stroke="#8c8684" stroke-width="0.9" opacity="0.8"/>
<line x1="1110.0" y1="1070" x2="1430.0" y2="1390" stroke="#8c8684" stroke-width="0.9" opacity="0.8"/>
<line x1="1114.5" y1="1070" x2="1434.5" y2="1390" stroke="#8c8684" stroke-width="0.9" opacity="0.8"/>
<line x1="1119.0" y1="1070" x2="1439.0" y2="1390" stroke="#8c8684" stroke-width="0.9" opacity="0.8"/>
<line x1="1140.0" y1="1070" x2="1460.0" y2="1390" stroke="#8c8684" stroke-width="0.9" opacity="0.8"/>
<line x1="1144.5" y1="1070" x2="1464.5" y2="1390" stroke="#8c8684" stroke-width="0.9" opacity="0.8"/>
<line x1="1200.0" y1="1070" x2="1520.0" y2="1390" stroke="#8c8684" stroke-width="0.9" opacity="0.8"/>
<line x1="1204.5" y1="1070" x2="1524.5" y2="1390" stroke="#8c8684" stroke-width="0.9" opacity="0.8"/>
<line x1="780" y1="1100.0" x2="1130" y2="802.5" stroke="#8c8684" stroke-width="0.9" opacity="0.75"/>
<line x1="780" y1="1104.5" x2="1130" y2="807.0" stroke="#8c8684" stroke-width="0.9" opacity="0.75"/>
<line x1="780" y1="1109.0" x2="1130" y2="811.5" stroke="#8c8684" stroke-width="0.9" opacity="0.75"/>
<line x1="780" y1="1130.0" x2="1130" y2="832.5" stroke="#8c8684" stroke-width="0.9" opacity="0.75"/>
<line x1="780" y1="1134.5" x2="1130" y2="837.0" stroke="#8c8684" stroke-width="0.9" opacity="0.75"/>
<line x1="780" y1="1139.0" x2="1130" y2="841.5" stroke="#8c8684" stroke-width="0.9" opacity="0.75"/>
<line x1="780" y1="1150.0" x2="1130" y2="852.5" stroke="#8c8684" stroke-width="0.9" opacity="0.75"/>
<line x1="780" y1="1154.5" x2="1130" y2="857.0" stroke="#8c8684" stroke-width="0.9" opacity="0.75"/>
<line x1="780" y1="1159.0" x2="1130" y2="861.5" stroke="#8c8684" stroke-width="0.9" opacity="0.75"/>
<line x1="780" y1="1163.5" x2="1130" y2="866.0" stroke="#8c8684" stroke-width="0.9" opacity="0.75"/>
<line x1="780" y1="1168.0" x2="1130" y2="870.5" stroke="#8c8684" stroke-width="0.9" opacity="0.75"/>
<line x1="780" y1="1210.0" x2="1130" y2="912.5" stroke="#8c8684" stroke-width="0.9" opacity="0.75"/>
<line x1="780" y1="1214.5" x2="1130" y2="917.0" stroke="#8c8684" stroke-width="0.9" opacity="0.75"/>
<line x1="780" y1="1219.0" x2="1130" y2="921.5" stroke="#8c8684" stroke-width="0.9" opacity="0.75"/>
<line x1="780" y1="1223.5" x2="1130" y2="926.0" stroke="#8c8684" stroke-width="0.9" opacity="0.75"/>
<line x1="780" y1="1228.0" x2="1130" y2="930.5" stroke="#8c8684" stroke-width="0.9" opacity="0.75"/>
<line x1="780" y1="1260.0" x2="1130" y2="962.5" stroke="#8c8684" stroke-width="0.9" opacity="0.75"/>
<line x1="780" y1="1264.5" x2="1130" y2="967.0" stroke="#8c8684" stroke-width="0.9" opacity="0.75"/>
<line x1="780" y1="1269.0" x2="1130" y2="971.5" stroke="#8c8684" stroke-width="0.9" opacity="0.75"/>
<line x1="780" y1="1290.0" x2="1130" y2="992.5" stroke="#8c8684" stroke-width="0.9" opacity="0.75"/>
<line x1="780" y1="1294.5" x2="1130" y2="997.0" stroke="#8c8684" stroke-width="0.9" opacity="0.75"/>
<line x1="780" y1="1320.0" x2="1130" y2="1022.5" stroke="#8c8684" stroke-width="0.9" opacity="0.75"/>
<line x1="780" y1="1324.5" x2="1130" y2="1027.0" stroke="#8c8684" stroke-width="0.9" opacity="0.75"/>
<line x1="780" y1="1380.0" x2="1130" y2="1082.5" stroke="#8c8684" stroke-width="0.9" opacity="0.75"/>
<line x1="780" y1="1384.5" x2="1130" y2="1087.0" stroke="#8c8684" stroke-width="0.9" opacity="0.75"/>
<line x1="780" y1="1410.0" x2="1130" y2="1112.5" stroke="#8c8684" stroke-width="0.9" opacity="0.75"/>
<line x1="780" y1="1414.5" x2="1130" y2="1117.0" stroke="#8c8684" stroke-width="0.9" opacity="0.75"/>
<line x1="780" y1="1419.0" x2="1130" y2="1121.5" stroke="#8c8684" stroke-width="0.9" opacity="0.75"/>
<line x1="780" y1="1423.5" x2="1130" y2="1126.0" stroke="#8c8684" stroke-width="0.9" opacity="0.75"/>
<line x1="780" y1="1428.0" x2="1130" y2="1130.5" stroke="#8c8684" stroke-width="0.9" opacity="0.75"/>
<line x1="780" y1="1440.0" x2="1130" y2="1142.5" stroke="#8c8684" stroke-width="0.9" opacity="0.75"/>
<line x1="780" y1="1444.5" x2="1130" y2="1147.0" stroke="#8c8684" stroke-width="0.9" opacity="0.75"/>
<line x1="780" y1="1449.0" x2="1130" y2="1151.5" stroke="#8c8684" stroke-width="0.9" opacity="0.75"/>
<line x1="780" y1="1453.5" x2="1130" y2="1156.0" stroke="#8c8684" stroke-width="0.9" opacity="0.75"/>
<line x1="780" y1="1500.0" x2="1130" y2="1202.5" stroke="#8c8684" stroke-width="0.9" opacity="0.75"/>
<line x1="780" y1="1504.5" x2="1130" y2="1207.0" stroke="#8c8684" stroke-width="0.9" opacity="0.75"/>
<line x1="780" y1="1509.0" x2="1130" y2="1211.5" stroke="#8c8684" stroke-width="0.9" opacity="0.75"/>
<line x1="813" y1="1078" x2="813" y2="1192" stroke="#8c8684" stroke-width="0.9" opacity="0.8"/>
<line x1="832" y1="1078" x2="832" y2="1192" stroke="#8c8684" stroke-width="0.9" opacity="0.8"/>
<line x1="1077" y1="1310" x2="1077" y2="1380" stroke="#8c8684" stroke-width="0.9" opacity="0.8"/>
<line x1="1096" y1="1310" x2="1096" y2="1380" stroke="#8c8684" stroke-width="0.9" opacity="0.8"/>
<ellipse cx="822.5" cy="1120" rx="9.5" ry="4" fill="none" stroke="#8c8684" stroke-width="0.9"/>
<ellipse cx="1086.5" cy="1340" rx="9.5" ry="4" fill="none" stroke="#8c8684" stroke-width="0.9"/>
</g>
<path d="M817.9,1233.2 L972.4,1124.4 L1094.3,1222.3 L939.7,1324.6 Z" fill="#5a5756" opacity="0.85"/>
<path d="M825,1240 L972,1136 L1086,1228 L940,1318 Z" fill="#7a7776" opacity="0.5"/>
<ellipse cx="955" cy="1227.0" rx="169.0" ry="137.0" transform="rotate(-3 955 1227)" fill="none" stroke="#3a3634" stroke-width="1.3" opacity="0.85"/>
<ellipse cx="955" cy="1227.5" rx="165.6" ry="134.0" transform="rotate(-3 955 1227)" fill="none" stroke="#5a5654" stroke-width="1.3" opacity="0.85"/>
<ellipse cx="955" cy="1228.0" rx="162.2" ry="131.0" transform="rotate(-3 955 1227)" fill="none" stroke="#3a3634" stroke-width="1.3" opacity="0.85"/>
<ellipse cx="955" cy="1228.5" rx="158.8" ry="128.0" transform="rotate(-3 955 1227)" fill="none" stroke="#5a5654" stroke-width="1.3" opacity="0.85"/>
<ellipse cx="955" cy="1229.0" rx="155.4" ry="125.0" transform="rotate(-3 955 1227)" fill="none" stroke="#3a3634" stroke-width="1.3" opacity="0.85"/>
<ellipse cx="955" cy="1229.5" rx="152.0" ry="122.0" transform="rotate(-3 955 1227)" fill="none" stroke="#5a5654" stroke-width="1.3" opacity="0.85"/>
<ellipse cx="955" cy="1230.0" rx="148.6" ry="119.0" transform="rotate(-3 955 1227)" fill="none" stroke="#3a3634" stroke-width="1.3" opacity="0.85"/>
<ellipse cx="955" cy="1230.5" rx="145.2" ry="116.0" transform="rotate(-3 955 1227)" fill="none" stroke="#5a5654" stroke-width="1.3" opacity="0.85"/>
<ellipse cx="955" cy="1231.0" rx="141.8" ry="113.0" transform="rotate(-3 955 1227)" fill="none" stroke="#3a3634" stroke-width="1.3" opacity="0.85"/>
<ellipse cx="955" cy="1231.5" rx="138.4" ry="110.0" transform="rotate(-3 955 1227)" fill="none" stroke="#5a5654" stroke-width="1.3" opacity="0.85"/>
<ellipse cx="955" cy="1232.0" rx="135.0" ry="107.0" transform="rotate(-3 955 1227)" fill="none" stroke="#3a3634" stroke-width="1.3" opacity="0.85"/>
<defs><clipPath id="Hblob"><path d="M918.0,1141.8 C925.2,1137.4 932.5,1136.8 944.1,1135.3 C955.7,1133.8 976.7,1133.1 987.6,1133.1 C998.5,1133.1 1000.3,1132.0 1009.4,1135.3 C1018.5,1138.6 1032.9,1146.5 1042.0,1152.7 C1051.1,1158.9 1058.3,1165.0 1063.8,1172.3 C1069.2,1179.5 1072.9,1188.6 1074.7,1196.2 C1076.5,1203.8 1075.8,1210.8 1074.7,1218.0 C1073.6,1225.2 1071.7,1233.9 1068.1,1239.7 C1064.5,1245.5 1062.7,1248.4 1052.9,1252.8 C1043.1,1257.2 1023.9,1261.6 1009.4,1265.9 C994.9,1270.2 980.4,1274.6 965.9,1278.9 C951.4,1283.2 935.0,1289.1 922.3,1292.0 C909.6,1294.9 899.1,1296.3 889.7,1296.3 C880.3,1296.3 871.8,1294.9 865.8,1292.0 C859.8,1289.1 855.6,1285.1 853.8,1278.9 C852.0,1272.7 853.3,1264.4 854.9,1255.0 C856.5,1245.6 859.6,1233.2 863.6,1222.3 C867.6,1211.4 872.6,1199.8 878.8,1189.7 C885.0,1179.6 894.1,1169.4 900.6,1161.4 C907.1,1153.4 910.8,1146.2 918.0,1141.8Z"/></clipPath></defs>
<path d="M918.0,1141.8 C925.2,1137.4 932.5,1136.8 944.1,1135.3 C955.7,1133.8 976.7,1133.1 987.6,1133.1 C998.5,1133.1 1000.3,1132.0 1009.4,1135.3 C1018.5,1138.6 1032.9,1146.5 1042.0,1152.7 C1051.1,1158.9 1058.3,1165.0 1063.8,1172.3 C1069.2,1179.5 1072.9,1188.6 1074.7,1196.2 C1076.5,1203.8 1075.8,1210.8 1074.7,1218.0 C1073.6,1225.2 1071.7,1233.9 1068.1,1239.7 C1064.5,1245.5 1062.7,1248.4 1052.9,1252.8 C1043.1,1257.2 1023.9,1261.6 1009.4,1265.9 C994.9,1270.2 980.4,1274.6 965.9,1278.9 C951.4,1283.2 935.0,1289.1 922.3,1292.0 C909.6,1294.9 899.1,1296.3 889.7,1296.3 C880.3,1296.3 871.8,1294.9 865.8,1292.0 C859.8,1289.1 855.6,1285.1 853.8,1278.9 C852.0,1272.7 853.3,1264.4 854.9,1255.0 C856.5,1245.6 859.6,1233.2 863.6,1222.3 C867.6,1211.4 872.6,1199.8 878.8,1189.7 C885.0,1179.6 894.1,1169.4 900.6,1161.4 C907.1,1153.4 910.8,1146.2 918.0,1141.8Z" fill="#3a3e9c" stroke="#2a2a6a" stroke-width="1"/>
<g clip-path="url(#Hblob)">
<path d="M920.4,1153.6 C926.9,1149.8 933.5,1149.2 943.9,1147.9 C954.3,1146.6 973.2,1146.0 983.0,1146.0 C992.8,1146.0 994.5,1145.0 1002.7,1147.9 C1010.8,1150.8 1023.8,1157.8 1032.0,1163.2 C1040.2,1168.7 1046.7,1174.1 1051.6,1180.5 C1056.5,1186.9 1059.8,1194.8 1061.4,1201.5 C1063.1,1208.2 1062.4,1214.3 1061.4,1220.7 C1060.4,1227.1 1058.8,1234.7 1055.5,1239.8 C1052.2,1244.9 1050.6,1247.5 1041.8,1251.3 C1033.0,1255.2 1015.7,1259.0 1002.7,1262.8 C989.6,1266.7 976.6,1270.5 963.5,1274.3 C950.4,1278.1 935.7,1283.3 924.3,1285.8 C912.8,1288.4 903.4,1289.6 894.9,1289.6 C886.5,1289.6 878.8,1288.4 873.4,1285.8 C868.0,1283.3 864.3,1279.7 862.6,1274.3 C861.0,1268.9 862.1,1261.6 863.6,1253.3 C865.1,1245.0 867.9,1234.1 871.4,1224.5 C875.0,1214.9 879.6,1204.7 885.1,1195.8 C890.7,1186.9 898.9,1177.9 904.7,1170.9 C910.6,1163.9 913.9,1157.5 920.4,1153.6Z" fill="#3a78ac"/>
<defs><pattern id="Hsp" width="48" height="48" patternUnits="userSpaceOnUse" patternTransform="rotate(17)"><circle cx="9.9" cy="18.8" r="2.7" fill="#3cb0b0"/><circle cx="10.1" cy="10.4" r="2.4" fill="#3cb0b0"/><circle cx="2.9" cy="2.5" r="2.0" fill="#44b898"/><circle cx="2.9" cy="50.5" r="2.0" fill="#44b898"/><circle cx="50.9" cy="2.5" r="2.0" fill="#44b898"/><circle cx="50.9" cy="50.5" r="2.0" fill="#44b898"/><circle cx="9.8" cy="40.1" r="1.6" fill="#52b880"/><circle cx="35.3" cy="41.7" r="2.6" fill="#60b860"/><circle cx="10.0" cy="20.8" r="1.8" fill="#40a8b0"/><circle cx="30.8" cy="10.5" r="1.9" fill="#3cb4a0"/><circle cx="14.1" cy="27.5" r="2.4" fill="#52b880"/><circle cx="40.1" cy="-1.9" r="2.8" fill="#60b860"/><circle cx="40.1" cy="46.1" r="2.8" fill="#60b860"/><circle cx="37.9" cy="14.7" r="2.3" fill="#44b898"/><circle cx="44.9" cy="40.2" r="1.7" fill="#40a8b0"/><circle cx="9.3" cy="44.2" r="2.0" fill="#3cb0b0"/><circle cx="-2.1" cy="32.1" r="2.7" fill="#40a8b0"/><circle cx="45.9" cy="32.1" r="2.7" fill="#40a8b0"/><circle cx="31.2" cy="-0.4" r="1.7" fill="#44b898"/><circle cx="31.2" cy="47.6" r="1.7" fill="#44b898"/><circle cx="9.7" cy="16.0" r="2.5" fill="#52b880"/><circle cx="27.0" cy="5.7" r="2.6" fill="#3cb4a0"/><circle cx="30.6" cy="-1.9" r="2.0" fill="#44b898"/><circle cx="30.6" cy="46.1" r="2.0" fill="#44b898"/><circle cx="34.2" cy="41.0" r="1.7" fill="#52b880"/><circle cx="29.4" cy="24.6" r="2.8" fill="#40a8b0"/><circle cx="23.5" cy="28.4" r="2.2" fill="#3cb4a0"/><circle cx="38.3" cy="29.1" r="2.8" fill="#52b880"/><circle cx="36.8" cy="12.2" r="2.0" fill="#52b880"/><circle cx="0.5" cy="18.0" r="2.1" fill="#40a8b0"/><circle cx="48.5" cy="18.0" r="2.1" fill="#40a8b0"/><circle cx="-0.3" cy="6.3" r="2.6" fill="#3cb0b0"/><circle cx="47.7" cy="6.3" r="2.6" fill="#3cb0b0"/><circle cx="2.4" cy="29.5" r="2.5" fill="#44b898"/><circle cx="50.4" cy="29.5" r="2.5" fill="#44b898"/><circle cx="-2.6" cy="41.6" r="1.8" fill="#60b860"/><circle cx="45.4" cy="41.6" r="1.8" fill="#60b860"/><circle cx="21.8" cy="33.4" r="2.5" fill="#3cb0b0"/><circle cx="24.2" cy="10.9" r="2.5" fill="#44b898"/><circle cx="22.2" cy="34.4" r="2.0" fill="#52b880"/><circle cx="17.8" cy="25.1" r="2.5" fill="#40a8b0"/><circle cx="-2.7" cy="33.1" r="2.5" fill="#3cb0b0"/><circle cx="45.3" cy="33.1" r="2.5" fill="#3cb0b0"/><circle cx="2.0" cy="32.1" r="2.1" fill="#60b860"/><circle cx="50.0" cy="32.1" r="2.1" fill="#60b860"/><circle cx="6.8" cy="18.3" r="1.8" fill="#40a8b0"/><circle cx="42.7" cy="14.7" r="1.9" fill="#3cb0b0"/><circle cx="37.4" cy="35.3" r="1.6" fill="#3cb4a0"/><circle cx="29.5" cy="43.0" r="2.2" fill="#40a8b0"/><circle cx="20.9" cy="33.7" r="2.1" fill="#44b898"/><circle cx="39.2" cy="18.4" r="1.9" fill="#44b898"/><circle cx="15.5" cy="14.3" r="1.7" fill="#40a8b0"/><circle cx="10.4" cy="-1.5" r="2.4" fill="#3cb0b0"/><circle cx="10.4" cy="46.5" r="2.4" fill="#3cb0b0"/><circle cx="42.6" cy="21.7" r="1.9" fill="#60b860"/><circle cx="8.7" cy="1.6" r="1.8" fill="#52b880"/><circle cx="8.7" cy="49.6" r="1.8" fill="#52b880"/><circle cx="38.8" cy="39.9" r="1.9" fill="#3cb4a0"/><circle cx="13.1" cy="13.6" r="2.3" fill="#44b898"/><circle cx="19.4" cy="37.3" r="1.9" fill="#44b898"/><circle cx="6.8" cy="30.4" r="2.6" fill="#40a8b0"/><circle cx="32.2" cy="34.0" r="2.0" fill="#3cb4a0"/><circle cx="26.0" cy="-2.8" r="2.2" fill="#60b860"/><circle cx="26.0" cy="45.2" r="2.2" fill="#60b860"/><circle cx="-2.9" cy="12.5" r="2.1" fill="#52b880"/><circle cx="45.1" cy="12.5" r="2.1" fill="#52b880"/><circle cx="10.2" cy="42.6" r="1.7" fill="#52b880"/><circle cx="27.4" cy="-2.0" r="1.7" fill="#44b898"/><circle cx="27.4" cy="46.0" r="1.7" fill="#44b898"/><circle cx="-2.2" cy="32.8" r="1.9" fill="#40a8b0"/><circle cx="45.8" cy="32.8" r="1.9" fill="#40a8b0"/><circle cx="5.2" cy="26.4" r="1.9" fill="#40a8b0"/><circle cx="23.6" cy="-0.1" r="2.5" fill="#44b898"/><circle cx="23.6" cy="47.9" r="2.5" fill="#44b898"/><circle cx="14.8" cy="38.3" r="1.9" fill="#52b880"/><circle cx="41.3" cy="26.2" r="1.6" fill="#3cb4a0"/><circle cx="38.5" cy="21.1" r="2.5" fill="#52b880"/><circle cx="32.0" cy="0.2" r="2.6" fill="#60b860"/><circle cx="32.0" cy="48.2" r="2.6" fill="#60b860"/><circle cx="34.9" cy="16.3" r="2.8" fill="#44b898"/><circle cx="22.3" cy="17.2" r="2.1" fill="#3cb0b0"/><circle cx="41.7" cy="29.7" r="2.1" fill="#44b898"/><circle cx="-2.7" cy="32.8" r="1.6" fill="#52b880"/><circle cx="45.3" cy="32.8" r="1.6" fill="#52b880"/><circle cx="35.1" cy="21.6" r="1.8" fill="#52b880"/><circle cx="-1.7" cy="37.8" r="2.2" fill="#60b860"/><circle cx="46.3" cy="37.8" r="2.2" fill="#60b860"/><circle cx="15.3" cy="11.5" r="2.5" fill="#40a8b0"/><circle cx="21.8" cy="6.6" r="2.0" fill="#3cb0b0"/><circle cx="34.0" cy="9.4" r="2.1" fill="#60b860"/><circle cx="11.0" cy="16.4" r="2.5" fill="#52b880"/><circle cx="40.0" cy="28.7" r="2.1" fill="#60b860"/><circle cx="3.3" cy="31.3" r="2.6" fill="#40a8b0"/><circle cx="-1.7" cy="5.6" r="2.4" fill="#3cb4a0"/><circle cx="46.3" cy="5.6" r="2.4" fill="#3cb4a0"/><circle cx="14.9" cy="31.9" r="2.1" fill="#52b880"/><circle cx="3.8" cy="4.5" r="2.6" fill="#3cb0b0"/><circle cx="22.9" cy="6.9" r="2.2" fill="#52b880"/><circle cx="3.0" cy="28.8" r="2.6" fill="#40a8b0"/><circle cx="51.0" cy="28.8" r="2.6" fill="#40a8b0"/><circle cx="14.8" cy="2.8" r="1.7" fill="#40a8b0"/><circle cx="14.8" cy="50.8" r="1.7" fill="#40a8b0"/><circle cx="33.9" cy="29.3" r="2.7" fill="#60b860"/><circle cx="26.5" cy="28.4" r="1.9" fill="#44b898"/><circle cx="26.2" cy="37.8" r="2.1" fill="#3cb0b0"/><circle cx="15.3" cy="29.1" r="1.9" fill="#60b860"/><circle cx="3.6" cy="29.4" r="2.4" fill="#44b898"/><circle cx="6.9" cy="-1.9" r="2.6" fill="#60b860"/><circle cx="6.9" cy="46.1" r="2.6" fill="#60b860"/><circle cx="41.7" cy="6.8" r="2.8" fill="#52b880"/><circle cx="8.3" cy="24.6" r="2.7" fill="#60b860"/><circle cx="17.1" cy="18.7" r="2.6" fill="#44b898"/><circle cx="16.1" cy="24.0" r="2.5" fill="#60b860"/><circle cx="34.6" cy="23.2" r="1.8" fill="#40a8b0"/><circle cx="34.0" cy="35.4" r="2.2" fill="#3cb0b0"/><circle cx="-2.8" cy="6.4" r="2.5" fill="#3cb4a0"/><circle cx="45.2" cy="6.4" r="2.5" fill="#3cb4a0"/><circle cx="43.5" cy="28.8" r="1.7" fill="#44b898"/><circle cx="0.9" cy="2.5" r="2.3" fill="#40a8b0"/><circle cx="0.9" cy="50.5" r="2.3" fill="#40a8b0"/><circle cx="48.9" cy="2.5" r="2.3" fill="#40a8b0"/><circle cx="48.9" cy="50.5" r="2.3" fill="#40a8b0"/><circle cx="11.4" cy="17.8" r="2.0" fill="#52b880"/><circle cx="2.5" cy="14.3" r="1.7" fill="#3cb4a0"/><circle cx="50.5" cy="14.3" r="1.7" fill="#3cb4a0"/><circle cx="19.4" cy="24.7" r="2.4" fill="#44b898"/><circle cx="16.5" cy="26.0" r="2.8" fill="#52b880"/></pattern></defs>
<path d="M920.4,1153.6 C926.9,1149.8 933.5,1149.2 943.9,1147.9 C954.3,1146.6 973.2,1146.0 983.0,1146.0 C992.8,1146.0 994.5,1145.0 1002.7,1147.9 C1010.8,1150.8 1023.8,1157.8 1032.0,1163.2 C1040.2,1168.7 1046.7,1174.1 1051.6,1180.5 C1056.5,1186.9 1059.8,1194.8 1061.4,1201.5 C1063.1,1208.2 1062.4,1214.3 1061.4,1220.7 C1060.4,1227.1 1058.8,1234.7 1055.5,1239.8 C1052.2,1244.9 1050.6,1247.5 1041.8,1251.3 C1033.0,1255.2 1015.7,1259.0 1002.7,1262.8 C989.6,1266.7 976.6,1270.5 963.5,1274.3 C950.4,1278.1 935.7,1283.3 924.3,1285.8 C912.8,1288.4 903.4,1289.6 894.9,1289.6 C886.5,1289.6 878.8,1288.4 873.4,1285.8 C868.0,1283.3 864.3,1279.7 862.6,1274.3 C861.0,1268.9 862.1,1261.6 863.6,1253.3 C865.1,1245.0 867.9,1234.1 871.4,1224.5 C875.0,1214.9 879.6,1204.7 885.1,1195.8 C890.7,1186.9 898.9,1177.9 904.7,1170.9 C910.6,1163.9 913.9,1157.5 920.4,1153.6Z" fill="url(#Hsp)" filter="url(#Hbl)"/>
<ellipse cx="1040" cy="1163" rx="26" ry="14" transform="rotate(40 1040 1163)" fill="#48b8d8" filter="url(#Hbl)"/>
<ellipse cx="1040" cy="1163" rx="18" ry="8" transform="rotate(40 1040 1163)" fill="#60c050" filter="url(#Hbl)"/>
<circle cx="1027" cy="1156" r="4" fill="#f0e030"/><circle cx="1027" cy="1156" r="2.2" fill="#e82020"/>
<circle cx="1051" cy="1174" r="4.5" fill="#f0e030"/><circle cx="1051" cy="1174" r="2.5" fill="#e82020"/>
</g>
<line x1="866" y1="1235" x2="930" y2="1290" stroke="#2a2a4a" stroke-width="1" opacity="0.6"/>
<ellipse cx="1591" cy="1154" rx="120" ry="90" transform="rotate(-8 1591 1154)" fill="none" stroke="#8c8684" stroke-width="1"/>
<ellipse cx="1588" cy="1186" rx="93" ry="67" transform="rotate(-8 1588 1186)" fill="none" stroke="#8c8684" stroke-width="1"/>
<ellipse cx="1589" cy="1190" rx="91" ry="65" transform="rotate(-8 1589 1190)" fill="none" stroke="#8c8684" stroke-width="1"/>
<ellipse cx="1590" cy="1194" rx="90" ry="64" transform="rotate(-8 1590 1194)" fill="none" stroke="#8c8684" stroke-width="1"/>
<ellipse cx="1612" cy="1240" rx="112" ry="80" transform="rotate(-8 1612 1240)" fill="none" stroke="#8c8684" stroke-width="1"/>
<ellipse cx="1606" cy="1361" rx="100" ry="72" transform="rotate(-8 1606 1361)" fill="none" stroke="#8c8684" stroke-width="1"/>
<line x1="1471" y1="1160" x2="1506" y2="1378" stroke="#8c8684" stroke-width="1"/>
<line x1="1711" y1="1147" x2="1706" y2="1365" stroke="#8c8684" stroke-width="1"/>
<line x1="1496" y1="1190" x2="1512" y2="1300" stroke="#8c8684" stroke-width="1"/>
<line x1="1683" y1="1185" x2="1690" y2="1330" stroke="#8c8684" stroke-width="1"/>
<path d="M1447.2,1296.2 L1513.2,1257.2 M1426.8,1261.8 L1492.8,1222.8 M1442.1,1287.6 L1508.1,1248.6 M1431.9,1270.4 L1497.9,1231.4" stroke="#8c8684" stroke-width="1" fill="none"/><ellipse cx="1437.0" cy="1279.0" rx="11.0" ry="20.0" transform="rotate(-30.6 1437.0 1279.0)" fill="none" stroke="#8c8684" stroke-width="1"/><ellipse cx="1437.0" cy="1279.0" rx="7.7" ry="14.0" transform="rotate(-30.6 1437.0 1279.0)" fill="none" stroke="#8c8684" stroke-width="1"/><ellipse cx="1444.9" cy="1274.3" rx="11.0" ry="20.0" transform="rotate(-30.6 1444.9 1274.3)" fill="none" stroke="#8c8684" stroke-width="1"/><ellipse cx="1453.5" cy="1269.2" rx="8.2" ry="15.0" transform="rotate(-30.6 1453.5 1269.2)" fill="none" stroke="#8c8684" stroke-width="1"/>
<path d="M1733.1,1054.8 L1658.1,1100.8 M1752.9,1087.2 L1677.9,1133.2 M1738.0,1062.9 L1663.0,1108.9 M1748.0,1079.1 L1673.0,1125.1" stroke="#8c8684" stroke-width="1" fill="none"/><ellipse cx="1743.0" cy="1071.0" rx="10.5" ry="19.0" transform="rotate(148.5 1743.0 1071.0)" fill="none" stroke="#8c8684" stroke-width="1"/><ellipse cx="1743.0" cy="1071.0" rx="7.3" ry="13.3" transform="rotate(148.5 1743.0 1071.0)" fill="none" stroke="#8c8684" stroke-width="1"/><ellipse cx="1734.0" cy="1076.5" rx="10.5" ry="19.0" transform="rotate(148.5 1734.0 1076.5)" fill="none" stroke="#8c8684" stroke-width="1"/><ellipse cx="1724.2" cy="1082.5" rx="7.8" ry="14.2" transform="rotate(148.5 1724.2 1082.5)" fill="none" stroke="#8c8684" stroke-width="1"/>
<defs><clipPath id="Idisc"><ellipse cx="1607" cy="1348" rx="88.5" ry="64" transform="rotate(-10 1607 1348)"/></clipPath><filter id="Ibl" x="-30%" y="-30%" width="160%" height="160%"><feGaussianBlur stdDeviation="3"/></filter><filter id="Ibl2"><feGaussianBlur stdDeviation="1.5"/></filter></defs>
<g clip-path="url(#Idisc)">
<rect x="1510" y="1280" width="200" height="140" fill="#3c4a9c"/>
<ellipse cx="1601" cy="1350" rx="58" ry="40" transform="rotate(-8 1601 1350)" fill="#4a9ad4" filter="url(#Ibl)"/>
<ellipse cx="1601" cy="1350" rx="52" ry="36" transform="rotate(-8 1601 1350)" fill="#48b8e0" filter="url(#Ibl)"/>
<ellipse cx="1601" cy="1350" rx="45" ry="32" transform="rotate(-8 1601 1350)" fill="#5cb850" filter="url(#Ibl)"/>
<ellipse cx="1601" cy="1350" rx="37" ry="28" transform="rotate(-8 1601 1350)" fill="#c8d838" filter="url(#Ibl)"/>
<ellipse cx="1601" cy="1350" rx="31" ry="24" transform="rotate(-8 1601 1350)" fill="#f0e030" filter="url(#Ibl)"/>
<ellipse cx="1601" cy="1350" rx="22" ry="17" transform="rotate(-8 1601 1350)" fill="#f4b030" filter="url(#Ibl)"/>
<ellipse cx="1590" cy="1318" rx="22" ry="8" transform="rotate(-10 1590 1318)" fill="#5cb850" filter="url(#Ibl)"/>
<ellipse cx="1576" cy="1349" rx="9" ry="5" transform="rotate(30 1576 1349)" fill="#e83020" filter="url(#Ibl2)"/>
<ellipse cx="1584" cy="1371" rx="9" ry="5" transform="rotate(30 1584 1371)" fill="#e83020" filter="url(#Ibl2)"/>
<ellipse cx="1613" cy="1370" rx="10" ry="6" transform="rotate(30 1613 1370)" fill="#e83020" filter="url(#Ibl2)"/>
<ellipse cx="1618.9" cy="1301.9" rx="8" ry="5.5" fill="#fefefd" stroke="#6a6a9a" stroke-width="0.6"/>
<ellipse cx="1559" cy="1321.4" rx="8" ry="5.5" fill="#fefefd" stroke="#6a6a9a" stroke-width="0.6"/>
<ellipse cx="1666.3" cy="1329.8" rx="8" ry="5.5" fill="#fefefd" stroke="#6a6a9a" stroke-width="0.6"/>
<ellipse cx="1546.4" cy="1366" rx="8" ry="5.5" fill="#fefefd" stroke="#6a6a9a" stroke-width="0.6"/>
<ellipse cx="1655.2" cy="1374.4" rx="8" ry="5.5" fill="#fefefd" stroke="#6a6a9a" stroke-width="0.6"/>
<ellipse cx="1595.2" cy="1392.5" rx="8" ry="5.5" fill="#fefefd" stroke="#6a6a9a" stroke-width="0.6"/>
</g>
<path d="M1530,1320 Q1600,1330 1690,1290" fill="none" stroke="#8c8684" stroke-width="1" opacity="0.8"/>
<rect x="61.5" y="9.5" width="19.5" height="402.5" fill="url(#jet)" stroke="#6a5a55" stroke-width="1"/>
<line x1="61.5" y1="34" x2="64.0" y2="34" stroke="#333" stroke-width="1.2" opacity="0.7"/>
<line x1="78.5" y1="34" x2="81" y2="34" stroke="#333" stroke-width="1.2" opacity="0.7"/>
<line x1="61.5" y1="81.5" x2="64.0" y2="81.5" stroke="#333" stroke-width="1.2" opacity="0.7"/>
<line x1="78.5" y1="81.5" x2="81" y2="81.5" stroke="#333" stroke-width="1.2" opacity="0.7"/>
<line x1="61.5" y1="128.6" x2="64.0" y2="128.6" stroke="#333" stroke-width="1.2" opacity="0.7"/>
<line x1="78.5" y1="128.6" x2="81" y2="128.6" stroke="#333" stroke-width="1.2" opacity="0.7"/>
<line x1="61.5" y1="176" x2="64.0" y2="176" stroke="#333" stroke-width="1.2" opacity="0.7"/>
<line x1="78.5" y1="176" x2="81" y2="176" stroke="#333" stroke-width="1.2" opacity="0.7"/>
<line x1="61.5" y1="223.5" x2="64.0" y2="223.5" stroke="#333" stroke-width="1.2" opacity="0.7"/>
<line x1="78.5" y1="223.5" x2="81" y2="223.5" stroke="#333" stroke-width="1.2" opacity="0.7"/>
<line x1="61.5" y1="270.4" x2="64.0" y2="270.4" stroke="#333" stroke-width="1.2" opacity="0.7"/>
<line x1="78.5" y1="270.4" x2="81" y2="270.4" stroke="#333" stroke-width="1.2" opacity="0.7"/>
<line x1="61.5" y1="316.3" x2="64.0" y2="316.3" stroke="#333" stroke-width="1.2" opacity="0.7"/>
<line x1="78.5" y1="316.3" x2="81" y2="316.3" stroke="#333" stroke-width="1.2" opacity="0.7"/>
<line x1="61.5" y1="363.3" x2="64.0" y2="363.3" stroke="#333" stroke-width="1.2" opacity="0.7"/>
<line x1="78.5" y1="363.3" x2="81" y2="363.3" stroke="#333" stroke-width="1.2" opacity="0.7"/>
<rect x="665" y="11" width="19" height="399" fill="url(#jet)" stroke="#6a5a55" stroke-width="1"/>
<line x1="665" y1="42.5" x2="667.5" y2="42.5" stroke="#333" stroke-width="1.2" opacity="0.7"/>
<line x1="681.5" y1="42.5" x2="684" y2="42.5" stroke="#333" stroke-width="1.2" opacity="0.7"/>
<line x1="665" y1="83" x2="667.5" y2="83" stroke="#333" stroke-width="1.2" opacity="0.7"/>
<line x1="681.5" y1="83" x2="684" y2="83" stroke="#333" stroke-width="1.2" opacity="0.7"/>
<line x1="665" y1="124.5" x2="667.5" y2="124.5" stroke="#333" stroke-width="1.2" opacity="0.7"/>
<line x1="681.5" y1="124.5" x2="684" y2="124.5" stroke="#333" stroke-width="1.2" opacity="0.7"/>
<line x1="665" y1="165" x2="667.5" y2="165" stroke="#333" stroke-width="1.2" opacity="0.7"/>
<line x1="681.5" y1="165" x2="684" y2="165" stroke="#333" stroke-width="1.2" opacity="0.7"/>
<line x1="665" y1="206" x2="667.5" y2="206" stroke="#333" stroke-width="1.2" opacity="0.7"/>
<line x1="681.5" y1="206" x2="684" y2="206" stroke="#333" stroke-width="1.2" opacity="0.7"/>
<line x1="665" y1="246.5" x2="667.5" y2="246.5" stroke="#333" stroke-width="1.2" opacity="0.7"/>
<line x1="681.5" y1="246.5" x2="684" y2="246.5" stroke="#333" stroke-width="1.2" opacity="0.7"/>
<line x1="665" y1="287" x2="667.5" y2="287" stroke="#333" stroke-width="1.2" opacity="0.7"/>
<line x1="681.5" y1="287" x2="684" y2="287" stroke="#333" stroke-width="1.2" opacity="0.7"/>
<line x1="665" y1="328" x2="667.5" y2="328" stroke="#333" stroke-width="1.2" opacity="0.7"/>
<line x1="681.5" y1="328" x2="684" y2="328" stroke="#333" stroke-width="1.2" opacity="0.7"/>
<line x1="665" y1="369" x2="667.5" y2="369" stroke="#333" stroke-width="1.2" opacity="0.7"/>
<line x1="681.5" y1="369" x2="684" y2="369" stroke="#333" stroke-width="1.2" opacity="0.7"/>
<rect x="1283.5" y="9.5" width="19.0" height="404.5" fill="url(#jet)" stroke="#6a5a55" stroke-width="1"/>
<line x1="1283.5" y1="34" x2="1286.0" y2="34" stroke="#333" stroke-width="1.2" opacity="0.7"/>
<line x1="1300.0" y1="34" x2="1302.5" y2="34" stroke="#333" stroke-width="1.2" opacity="0.7"/>
<line x1="1283.5" y1="81.5" x2="1286.0" y2="81.5" stroke="#333" stroke-width="1.2" opacity="0.7"/>
<line x1="1300.0" y1="81.5" x2="1302.5" y2="81.5" stroke="#333" stroke-width="1.2" opacity="0.7"/>
<line x1="1283.5" y1="128.6" x2="1286.0" y2="128.6" stroke="#333" stroke-width="1.2" opacity="0.7"/>
<line x1="1300.0" y1="128.6" x2="1302.5" y2="128.6" stroke="#333" stroke-width="1.2" opacity="0.7"/>
<line x1="1283.5" y1="176" x2="1286.0" y2="176" stroke="#333" stroke-width="1.2" opacity="0.7"/>
<line x1="1300.0" y1="176" x2="1302.5" y2="176" stroke="#333" stroke-width="1.2" opacity="0.7"/>
<line x1="1283.5" y1="223.5" x2="1286.0" y2="223.5" stroke="#333" stroke-width="1.2" opacity="0.7"/>
<line x1="1300.0" y1="223.5" x2="1302.5" y2="223.5" stroke="#333" stroke-width="1.2" opacity="0.7"/>
<line x1="1283.5" y1="270.4" x2="1286.0" y2="270.4" stroke="#333" stroke-width="1.2" opacity="0.7"/>
<line x1="1300.0" y1="270.4" x2="1302.5" y2="270.4" stroke="#333" stroke-width="1.2" opacity="0.7"/>
<line x1="1283.5" y1="316.3" x2="1286.0" y2="316.3" stroke="#333" stroke-width="1.2" opacity="0.7"/>
<line x1="1300.0" y1="316.3" x2="1302.5" y2="316.3" stroke="#333" stroke-width="1.2" opacity="0.7"/>
<line x1="1283.5" y1="363.3" x2="1286.0" y2="363.3" stroke="#333" stroke-width="1.2" opacity="0.7"/>
<line x1="1300.0" y1="363.3" x2="1302.5" y2="363.3" stroke="#333" stroke-width="1.2" opacity="0.7"/>
<rect x="52.40" y="594.70" width="31.30" height="17.23" fill="#e42b28"/>
<rect x="52.40" y="611.33" width="31.30" height="17.23" fill="#e5402b"/>
<rect x="52.40" y="627.95" width="31.30" height="17.23" fill="#ec6d2c"/>
<rect x="52.40" y="644.58" width="31.30" height="17.23" fill="#f2a02c"/>
<rect x="52.40" y="661.21" width="31.30" height="17.23" fill="#f6da20"/>
<rect x="52.40" y="677.83" width="31.30" height="17.23" fill="#f2ea2e"/>
<rect x="52.40" y="694.46" width="31.30" height="17.23" fill="#d6de2c"/>
<rect x="52.40" y="711.08" width="31.30" height="17.23" fill="#a4c83a"/>
<rect x="52.40" y="727.71" width="31.30" height="17.23" fill="#7bb93c"/>
<rect x="52.40" y="744.34" width="31.30" height="17.23" fill="#6db43c"/>
<rect x="52.40" y="760.96" width="31.30" height="17.23" fill="#6cb43c"/>
<rect x="52.40" y="777.59" width="31.30" height="17.23" fill="#76b86e"/>
<rect x="52.40" y="794.22" width="31.30" height="17.23" fill="#7dc0a8"/>
<rect x="52.40" y="810.84" width="31.30" height="17.23" fill="#80c4c8"/>
<rect x="52.40" y="827.47" width="31.30" height="17.23" fill="#6dc0d8"/>
<rect x="52.40" y="844.09" width="31.30" height="17.23" fill="#5c93c8"/>
<rect x="52.40" y="860.72" width="31.30" height="17.23" fill="#5460a4"/>
<rect x="52.40" y="877.35" width="31.30" height="17.23" fill="#4f4c95"/>
<rect x="52.40" y="893.97" width="31.30" height="17.23" fill="#4a4690"/>
<rect x="52.40" y="594.70" width="31.30" height="315.90" fill="none" stroke="#6b5e58" stroke-width="1"/>
<rect x="53.70" y="579.00" width="28.60" height="15.00" fill="#e42b28" stroke="#6b4a44" stroke-width="1"/>
<line x1="83.70" y1="594.70" x2="89.70" y2="594.70" stroke="#444" stroke-width="1.6"/>
<line x1="83.70" y1="617.26" x2="89.70" y2="617.26" stroke="#444" stroke-width="1.6"/>
<line x1="83.70" y1="639.83" x2="89.70" y2="639.83" stroke="#444" stroke-width="1.6"/>
<line x1="83.70" y1="662.39" x2="89.70" y2="662.39" stroke="#444" stroke-width="1.6"/>
<line x1="83.70" y1="684.96" x2="89.70" y2="684.96" stroke="#444" stroke-width="1.6"/>
<line x1="83.70" y1="707.52" x2="89.70" y2="707.52" stroke="#444" stroke-width="1.6"/>
<line x1="83.70" y1="730.09" x2="89.70" y2="730.09" stroke="#444" stroke-width="1.6"/>
<line x1="83.70" y1="752.65" x2="89.70" y2="752.65" stroke="#444" stroke-width="1.6"/>
<line x1="83.70" y1="775.21" x2="89.70" y2="775.21" stroke="#444" stroke-width="1.6"/>
<line x1="83.70" y1="797.78" x2="89.70" y2="797.78" stroke="#444" stroke-width="1.6"/>
<line x1="83.70" y1="820.34" x2="89.70" y2="820.34" stroke="#444" stroke-width="1.6"/>
<line x1="83.70" y1="842.91" x2="89.70" y2="842.91" stroke="#444" stroke-width="1.6"/>
<line x1="83.70" y1="865.47" x2="89.70" y2="865.47" stroke="#444" stroke-width="1.6"/>
<line x1="83.70" y1="888.04" x2="89.70" y2="888.04" stroke="#444" stroke-width="1.6"/>
<line x1="83.70" y1="910.60" x2="89.70" y2="910.60" stroke="#444" stroke-width="1.6"/>
<rect x="644.40" y="596.70" width="31.60" height="17.12" fill="#e42b28"/>
<rect x="644.40" y="613.22" width="31.60" height="17.12" fill="#e5402b"/>
<rect x="644.40" y="629.74" width="31.60" height="17.12" fill="#ec6d2c"/>
<rect x="644.40" y="646.26" width="31.60" height="17.12" fill="#f2a02c"/>
<rect x="644.40" y="662.78" width="31.60" height="17.12" fill="#f6da20"/>
<rect x="644.40" y="679.31" width="31.60" height="17.12" fill="#f2ea2e"/>
<rect x="644.40" y="695.83" width="31.60" height="17.12" fill="#d6de2c"/>
<rect x="644.40" y="712.35" width="31.60" height="17.12" fill="#a4c83a"/>
<rect x="644.40" y="728.87" width="31.60" height="17.12" fill="#7bb93c"/>
<rect x="644.40" y="745.39" width="31.60" height="17.12" fill="#6db43c"/>
<rect x="644.40" y="761.91" width="31.60" height="17.12" fill="#6cb43c"/>
<rect x="644.40" y="778.43" width="31.60" height="17.12" fill="#76b86e"/>
<rect x="644.40" y="794.95" width="31.60" height="17.12" fill="#7dc0a8"/>
<rect x="644.40" y="811.47" width="31.60" height="17.12" fill="#80c4c8"/>
<rect x="644.40" y="827.99" width="31.60" height="17.12" fill="#6dc0d8"/>
<rect x="644.40" y="844.52" width="31.60" height="17.12" fill="#5c93c8"/>
<rect x="644.40" y="861.04" width="31.60" height="17.12" fill="#5460a4"/>
<rect x="644.40" y="877.56" width="31.60" height="17.12" fill="#4f4c95"/>
<rect x="644.40" y="894.08" width="31.60" height="17.12" fill="#4a4690"/>
<rect x="644.40" y="596.70" width="31.60" height="313.90" fill="none" stroke="#6b5e58" stroke-width="1"/>
<rect x="645.80" y="581.00" width="29.90" height="15.70" fill="#e42b28" stroke="#6b4a44" stroke-width="1"/>
<rect x="1245.10" y="594.70" width="31.70" height="17.23" fill="#e42b28"/>
<rect x="1245.10" y="611.33" width="31.70" height="17.23" fill="#e5402b"/>
<rect x="1245.10" y="627.95" width="31.70" height="17.23" fill="#ec6d2c"/>
<rect x="1245.10" y="644.58" width="31.70" height="17.23" fill="#f2a02c"/>
<rect x="1245.10" y="661.21" width="31.70" height="17.23" fill="#f6da20"/>
<rect x="1245.10" y="677.83" width="31.70" height="17.23" fill="#f2ea2e"/>
<rect x="1245.10" y="694.46" width="31.70" height="17.23" fill="#d6de2c"/>
<rect x="1245.10" y="711.08" width="31.70" height="17.23" fill="#a4c83a"/>
<rect x="1245.10" y="727.71" width="31.70" height="17.23" fill="#7bb93c"/>
<rect x="1245.10" y="744.34" width="31.70" height="17.23" fill="#6db43c"/>
<rect x="1245.10" y="760.96" width="31.70" height="17.23" fill="#6cb43c"/>
<rect x="1245.10" y="777.59" width="31.70" height="17.23" fill="#76b86e"/>
<rect x="1245.10" y="794.22" width="31.70" height="17.23" fill="#7dc0a8"/>
<rect x="1245.10" y="810.84" width="31.70" height="17.23" fill="#80c4c8"/>
<rect x="1245.10" y="827.47" width="31.70" height="17.23" fill="#6dc0d8"/>
<rect x="1245.10" y="844.09" width="31.70" height="17.23" fill="#5c93c8"/>
<rect x="1245.10" y="860.72" width="31.70" height="17.23" fill="#5460a4"/>
<rect x="1245.10" y="877.35" width="31.70" height="17.23" fill="#4f4c95"/>
<rect x="1245.10" y="893.97" width="31.70" height="17.23" fill="#4a4690"/>
<rect x="1245.10" y="594.70" width="31.70" height="315.90" fill="none" stroke="#6b5e58" stroke-width="1"/>
<rect x="1246.90" y="579.00" width="28.50" height="15.00" fill="#e42b28" stroke="#6b4a44" stroke-width="1"/>
<line x1="1276.80" y1="594.70" x2="1282.80" y2="594.70" stroke="#444" stroke-width="1.6"/>
<line x1="1276.80" y1="617.26" x2="1282.80" y2="617.26" stroke="#444" stroke-width="1.6"/>
<line x1="1276.80" y1="639.83" x2="1282.80" y2="639.83" stroke="#444" stroke-width="1.6"/>
<line x1="1276.80" y1="662.39" x2="1282.80" y2="662.39" stroke="#444" stroke-width="1.6"/>
<line x1="1276.80" y1="684.96" x2="1282.80" y2="684.96" stroke="#444" stroke-width="1.6"/>
<line x1="1276.80" y1="707.52" x2="1282.80" y2="707.52" stroke="#444" stroke-width="1.6"/>
<line x1="1276.80" y1="730.09" x2="1282.80" y2="730.09" stroke="#444" stroke-width="1.6"/>
<line x1="1276.80" y1="752.65" x2="1282.80" y2="752.65" stroke="#444" stroke-width="1.6"/>
<line x1="1276.80" y1="775.21" x2="1282.80" y2="775.21" stroke="#444" stroke-width="1.6"/>
<line x1="1276.80" y1="797.78" x2="1282.80" y2="797.78" stroke="#444" stroke-width="1.6"/>
<line x1="1276.80" y1="820.34" x2="1282.80" y2="820.34" stroke="#444" stroke-width="1.6"/>
<line x1="1276.80" y1="842.91" x2="1282.80" y2="842.91" stroke="#444" stroke-width="1.6"/>
<line x1="1276.80" y1="865.47" x2="1282.80" y2="865.47" stroke="#444" stroke-width="1.6"/>
<line x1="1276.80" y1="888.04" x2="1282.80" y2="888.04" stroke="#444" stroke-width="1.6"/>
<line x1="1276.80" y1="910.60" x2="1282.80" y2="910.60" stroke="#444" stroke-width="1.6"/>
<rect x="56.90" y="1089.20" width="32.40" height="17.24" fill="#e42b28"/>
<rect x="56.90" y="1105.84" width="32.40" height="17.24" fill="#e5402b"/>
<rect x="56.90" y="1122.48" width="32.40" height="17.24" fill="#ec6d2c"/>
<rect x="56.90" y="1139.13" width="32.40" height="17.24" fill="#f2a02c"/>
<rect x="56.90" y="1155.77" width="32.40" height="17.24" fill="#f6da20"/>
<rect x="56.90" y="1172.41" width="32.40" height="17.24" fill="#f2ea2e"/>
<rect x="56.90" y="1189.05" width="32.40" height="17.24" fill="#d6de2c"/>
<rect x="56.90" y="1205.69" width="32.40" height="17.24" fill="#a4c83a"/>
<rect x="56.90" y="1222.34" width="32.40" height="17.24" fill="#7bb93c"/>
<rect x="56.90" y="1238.98" width="32.40" height="17.24" fill="#6db43c"/>
<rect x="56.90" y="1255.62" width="32.40" height="17.24" fill="#6cb43c"/>
<rect x="56.90" y="1272.26" width="32.40" height="17.24" fill="#76b86e"/>
<rect x="56.90" y="1288.91" width="32.40" height="17.24" fill="#7dc0a8"/>
<rect x="56.90" y="1305.55" width="32.40" height="17.24" fill="#80c4c8"/>
<rect x="56.90" y="1322.19" width="32.40" height="17.24" fill="#6dc0d8"/>
<rect x="56.90" y="1338.83" width="32.40" height="17.24" fill="#5c93c8"/>
<rect x="56.90" y="1355.47" width="32.40" height="17.24" fill="#5460a4"/>
<rect x="56.90" y="1372.12" width="32.40" height="17.24" fill="#4f4c95"/>
<rect x="56.90" y="1388.76" width="32.40" height="17.24" fill="#4a4690"/>
<rect x="56.90" y="1089.20" width="32.40" height="316.20" fill="none" stroke="#6b5e58" stroke-width="1"/>
<rect x="58.40" y="1073.20" width="29.10" height="16.00" fill="#e42b28" stroke="#6b4a44" stroke-width="1"/>
<line x1="89.30" y1="1089.20" x2="95.30" y2="1089.20" stroke="#444" stroke-width="1.6"/>
<line x1="89.30" y1="1111.79" x2="95.30" y2="1111.79" stroke="#444" stroke-width="1.6"/>
<line x1="89.30" y1="1134.37" x2="95.30" y2="1134.37" stroke="#444" stroke-width="1.6"/>
<line x1="89.30" y1="1156.96" x2="95.30" y2="1156.96" stroke="#444" stroke-width="1.6"/>
<line x1="89.30" y1="1179.54" x2="95.30" y2="1179.54" stroke="#444" stroke-width="1.6"/>
<line x1="89.30" y1="1202.13" x2="95.30" y2="1202.13" stroke="#444" stroke-width="1.6"/>
<line x1="89.30" y1="1224.71" x2="95.30" y2="1224.71" stroke="#444" stroke-width="1.6"/>
<line x1="89.30" y1="1247.30" x2="95.30" y2="1247.30" stroke="#444" stroke-width="1.6"/>
<line x1="89.30" y1="1269.89" x2="95.30" y2="1269.89" stroke="#444" stroke-width="1.6"/>
<line x1="89.30" y1="1292.47" x2="95.30" y2="1292.47" stroke="#444" stroke-width="1.6"/>
<line x1="89.30" y1="1315.06" x2="95.30" y2="1315.06" stroke="#444" stroke-width="1.6"/>
<line x1="89.30" y1="1337.64" x2="95.30" y2="1337.64" stroke="#444" stroke-width="1.6"/>
<line x1="89.30" y1="1360.23" x2="95.30" y2="1360.23" stroke="#444" stroke-width="1.6"/>
<line x1="89.30" y1="1382.81" x2="95.30" y2="1382.81" stroke="#444" stroke-width="1.6"/>
<line x1="89.30" y1="1405.40" x2="95.30" y2="1405.40" stroke="#444" stroke-width="1.6"/>
<rect x="630.00" y="1078.20" width="31.20" height="35.60" fill="#e5302b"/>
<rect x="630.00" y="1113.20" width="31.20" height="35.60" fill="#ee7a2c"/>
<rect x="630.00" y="1148.20" width="31.20" height="35.60" fill="#f2ea2c"/>
<rect x="630.00" y="1183.20" width="31.20" height="35.60" fill="#aec937"/>
<rect x="630.00" y="1218.20" width="31.20" height="35.60" fill="#6cb43c"/>
<rect x="630.00" y="1253.20" width="31.20" height="35.60" fill="#78bf86"/>
<rect x="630.00" y="1288.20" width="31.20" height="35.60" fill="#7dcbd2"/>
<rect x="630.00" y="1323.20" width="31.20" height="35.60" fill="#5a73b4"/>
<rect x="630.00" y="1358.20" width="31.20" height="35.60" fill="#4a4a94"/>
<rect x="630.00" y="1078.20" width="31.20" height="315.00" fill="none" stroke="#6b5e58" stroke-width="1"/>
<rect x="632.00" y="1062.40" width="27.80" height="15.80" fill="#e5302b" stroke="#6b4a44" stroke-width="1"/>
<rect x="631.80" y="1393.20" width="27.90" height="16.10" fill="#4a4a94" stroke="#5a5060" stroke-width="1"/>
<line x1="661.20" y1="1078.20" x2="667.20" y2="1078.20" stroke="#444" stroke-width="1.6"/>
<line x1="661.20" y1="1113.20" x2="667.20" y2="1113.20" stroke="#444" stroke-width="1.6"/>
<line x1="661.20" y1="1148.20" x2="667.20" y2="1148.20" stroke="#444" stroke-width="1.6"/>
<line x1="661.20" y1="1183.20" x2="667.20" y2="1183.20" stroke="#444" stroke-width="1.6"/>
<line x1="661.20" y1="1218.20" x2="667.20" y2="1218.20" stroke="#444" stroke-width="1.6"/>
<line x1="661.20" y1="1253.20" x2="667.20" y2="1253.20" stroke="#444" stroke-width="1.6"/>
<line x1="661.20" y1="1288.20" x2="667.20" y2="1288.20" stroke="#444" stroke-width="1.6"/>
<line x1="661.20" y1="1323.20" x2="667.20" y2="1323.20" stroke="#444" stroke-width="1.6"/>
<line x1="661.20" y1="1358.20" x2="667.20" y2="1358.20" stroke="#444" stroke-width="1.6"/>
<line x1="661.20" y1="1393.20" x2="667.20" y2="1393.20" stroke="#444" stroke-width="1.6"/>
<rect x="1244.80" y="1103.90" width="32.50" height="17.20" fill="#e42b28"/>
<rect x="1244.80" y="1120.50" width="32.50" height="17.20" fill="#e5402b"/>
<rect x="1244.80" y="1137.10" width="32.50" height="17.20" fill="#ec6d2c"/>
<rect x="1244.80" y="1153.70" width="32.50" height="17.20" fill="#f2a02c"/>
<rect x="1244.80" y="1170.30" width="32.50" height="17.20" fill="#f6da20"/>
<rect x="1244.80" y="1186.90" width="32.50" height="17.20" fill="#f2ea2e"/>
<rect x="1244.80" y="1203.50" width="32.50" height="17.20" fill="#d6de2c"/>
<rect x="1244.80" y="1220.10" width="32.50" height="17.20" fill="#a4c83a"/>
<rect x="1244.80" y="1236.70" width="32.50" height="17.20" fill="#7bb93c"/>
<rect x="1244.80" y="1253.30" width="32.50" height="17.20" fill="#6db43c"/>
<rect x="1244.80" y="1269.90" width="32.50" height="17.20" fill="#6cb43c"/>
<rect x="1244.80" y="1286.50" width="32.50" height="17.20" fill="#76b86e"/>
<rect x="1244.80" y="1303.10" width="32.50" height="17.20" fill="#7dc0a8"/>
<rect x="1244.80" y="1319.70" width="32.50" height="17.20" fill="#80c4c8"/>
<rect x="1244.80" y="1336.30" width="32.50" height="17.20" fill="#6dc0d8"/>
<rect x="1244.80" y="1352.90" width="32.50" height="17.20" fill="#5c93c8"/>
<rect x="1244.80" y="1369.50" width="32.50" height="17.20" fill="#5460a4"/>
<rect x="1244.80" y="1386.10" width="32.50" height="17.20" fill="#4f4c95"/>
<rect x="1244.80" y="1402.70" width="32.50" height="17.20" fill="#4a4690"/>
<rect x="1244.80" y="1103.90" width="32.50" height="315.40" fill="none" stroke="#6b5e58" stroke-width="1"/>
<rect x="1246.90" y="1088.20" width="29.10" height="15.70" fill="#e42b28" stroke="#6b4a44" stroke-width="1"/>
<line x1="1277.30" y1="1103.90" x2="1283.30" y2="1103.90" stroke="#444" stroke-width="1.6"/>
<line x1="1277.30" y1="1126.43" x2="1283.30" y2="1126.43" stroke="#444" stroke-width="1.6"/>
<line x1="1277.30" y1="1148.96" x2="1283.30" y2="1148.96" stroke="#444" stroke-width="1.6"/>
<line x1="1277.30" y1="1171.49" x2="1283.30" y2="1171.49" stroke="#444" stroke-width="1.6"/>
<line x1="1277.30" y1="1194.01" x2="1283.30" y2="1194.01" stroke="#444" stroke-width="1.6"/>
<line x1="1277.30" y1="1216.54" x2="1283.30" y2="1216.54" stroke="#444" stroke-width="1.6"/>
<line x1="1277.30" y1="1239.07" x2="1283.30" y2="1239.07" stroke="#444" stroke-width="1.6"/>
<line x1="1277.30" y1="1261.60" x2="1283.30" y2="1261.60" stroke="#444" stroke-width="1.6"/>
<line x1="1277.30" y1="1284.13" x2="1283.30" y2="1284.13" stroke="#444" stroke-width="1.6"/>
<line x1="1277.30" y1="1306.66" x2="1283.30" y2="1306.66" stroke="#444" stroke-width="1.6"/>
<line x1="1277.30" y1="1329.19" x2="1283.30" y2="1329.19" stroke="#444" stroke-width="1.6"/>
<line x1="1277.30" y1="1351.71" x2="1283.30" y2="1351.71" stroke="#444" stroke-width="1.6"/>
<line x1="1277.30" y1="1374.24" x2="1283.30" y2="1374.24" stroke="#444" stroke-width="1.6"/>
<line x1="1277.30" y1="1396.77" x2="1283.30" y2="1396.77" stroke="#444" stroke-width="1.6"/>
<line x1="1277.30" y1="1419.30" x2="1283.30" y2="1419.30" stroke="#444" stroke-width="1.6"/>
<text transform="translate(4.80,28.80) scale(0.9435,1)" font-family="&apos;Liberation Sans&apos;, sans-serif" font-weight="bold" font-size="33" fill="#000">A</text>
<text transform="translate(621.86,28.80) scale(0.9714,1)" font-family="&apos;Liberation Sans&apos;, sans-serif" font-weight="bold" font-size="33" fill="#000">B</text>
<text transform="translate(1237.42,28.80) scale(0.9818,1)" font-family="&apos;Liberation Sans&apos;, sans-serif" font-weight="bold" font-size="33" fill="#000">C</text>
<text transform="translate(4.16,596.00) scale(0.9714,1)" font-family="&apos;Liberation Sans&apos;, sans-serif" font-weight="bold" font-size="33" fill="#000">D</text>
<text transform="translate(600.36,596.00) scale(0.9211,1)" font-family="&apos;Liberation Sans&apos;, sans-serif" font-weight="bold" font-size="33" fill="#000">E</text>
<text transform="translate(1209.96,596.00) scale(0.9176,1)" font-family="&apos;Liberation Sans&apos;, sans-serif" font-weight="bold" font-size="33" fill="#000">F</text>
<text transform="translate(3.56,1089.50) scale(0.9435,1)" font-family="&apos;Liberation Sans&apos;, sans-serif" font-weight="bold" font-size="33" fill="#000">G</text>
<text transform="translate(582.98,1089.40) scale(1.0100,1)" font-family="&apos;Liberation Sans&apos;, sans-serif" font-weight="bold" font-size="33" fill="#000">H</text>
<text transform="translate(1203.58,1089.20) scale(1.0600,1)" font-family="&apos;Liberation Sans&apos;, sans-serif" font-weight="bold" font-size="33" fill="#000">I</text>
<text transform="translate(86.95,47.00) scale(0.8504,1)" font-family="&apos;Liberation Serif&apos;, serif" font-weight="normal" font-size="36" fill="#151515" stroke="#151515" stroke-width="0.55">-2</text>
<text transform="translate(86.98,146.30) scale(0.8210,1)" font-family="&apos;Liberation Serif&apos;, serif" font-weight="normal" font-size="36" fill="#151515" stroke="#151515" stroke-width="0.55">-4</text>
<text transform="translate(86.95,254.10) scale(0.8504,1)" font-family="&apos;Liberation Serif&apos;, serif" font-weight="normal" font-size="36" fill="#151515" stroke="#151515" stroke-width="0.55">-6</text>
<text transform="translate(86.95,354.10) scale(0.8504,1)" font-family="&apos;Liberation Serif&apos;, serif" font-weight="normal" font-size="36" fill="#151515" stroke="#151515" stroke-width="0.55">-8</text>
<text transform="translate(690.33,57.80) scale(0.8682,1)" font-family="&apos;Liberation Serif&apos;, serif" font-weight="normal" font-size="36" fill="#151515" stroke="#151515" stroke-width="0.55">-2</text>
<text transform="translate(690.36,157.80) scale(0.8383,1)" font-family="&apos;Liberation Serif&apos;, serif" font-weight="normal" font-size="36" fill="#151515" stroke="#151515" stroke-width="0.55">-4</text>
<text transform="translate(690.33,265.30) scale(0.8682,1)" font-family="&apos;Liberation Serif&apos;, serif" font-weight="normal" font-size="36" fill="#151515" stroke="#151515" stroke-width="0.55">-6</text>
<text transform="translate(690.33,364.30) scale(0.8682,1)" font-family="&apos;Liberation Serif&apos;, serif" font-weight="normal" font-size="36" fill="#151515" stroke="#151515" stroke-width="0.55">-8</text>
<text transform="translate(1309.63,55.10) scale(0.8682,1)" font-family="&apos;Liberation Serif&apos;, serif" font-weight="normal" font-size="36" fill="#151515" stroke="#151515" stroke-width="0.55">-2</text>
<text transform="translate(1309.66,154.40) scale(0.8383,1)" font-family="&apos;Liberation Serif&apos;, serif" font-weight="normal" font-size="36" fill="#151515" stroke="#151515" stroke-width="0.55">-4</text>
<text transform="translate(1309.63,262.20) scale(0.8682,1)" font-family="&apos;Liberation Serif&apos;, serif" font-weight="normal" font-size="36" fill="#151515" stroke="#151515" stroke-width="0.55">-6</text>
<text transform="translate(1309.63,362.20) scale(0.8682,1)" font-family="&apos;Liberation Serif&apos;, serif" font-weight="normal" font-size="36" fill="#151515" stroke="#151515" stroke-width="0.55">-8</text>
<text transform="translate(37.84,478.70) scale(0.8602,1)" font-family="&apos;Liberation Serif&apos;, serif" font-weight="normal" font-size="36" fill="#151515" stroke="#151515" stroke-width="0.55">Log [Velocity (m/s)]</text>
<text transform="translate(635.84,478.70) scale(0.8602,1)" font-family="&apos;Liberation Serif&apos;, serif" font-weight="normal" font-size="36" fill="#151515" stroke="#151515" stroke-width="0.55">Log [Velocity (m/s)]</text>
<text transform="translate(1251.84,478.70) scale(0.8602,1)" font-family="&apos;Liberation Serif&apos;, serif" font-weight="normal" font-size="36" fill="#151515" stroke="#151515" stroke-width="0.55">Log [Velocity (m/s)]</text>
<text transform="translate(97.64,604.20) scale(0.8305,1)" font-family="&apos;Liberation Serif&apos;, serif" font-weight="normal" font-size="36" fill="#151515" stroke="#151515" stroke-width="0.55">.001</text>
<text transform="translate(97.55,672.20) scale(0.8741,1)" font-family="&apos;Liberation Serif&apos;, serif" font-weight="normal" font-size="36" fill="#151515" stroke="#151515" stroke-width="0.55">7.86e-4</text>
<text transform="translate(97.55,741.60) scale(0.8741,1)" font-family="&apos;Liberation Serif&apos;, serif" font-weight="normal" font-size="36" fill="#151515" stroke="#151515" stroke-width="0.55">5.71e-4</text>
<text transform="translate(98.43,808.60) scale(0.8660,1)" font-family="&apos;Liberation Serif&apos;, serif" font-weight="normal" font-size="36" fill="#151515" stroke="#151515" stroke-width="0.55">3.57e-4</text>
<text transform="translate(96.65,876.30) scale(0.8824,1)" font-family="&apos;Liberation Serif&apos;, serif" font-weight="normal" font-size="36" fill="#151515" stroke="#151515" stroke-width="0.55">1.43e-4</text>
<text transform="translate(686.94,604.20) scale(0.8305,1)" font-family="&apos;Liberation Serif&apos;, serif" font-weight="normal" font-size="36" fill="#151515" stroke="#151515" stroke-width="0.55">.001</text>
<text transform="translate(686.85,670.90) scale(0.8741,1)" font-family="&apos;Liberation Serif&apos;, serif" font-weight="normal" font-size="36" fill="#151515" stroke="#151515" stroke-width="0.55">7.86e-4</text>
<text transform="translate(686.85,740.30) scale(0.8741,1)" font-family="&apos;Liberation Serif&apos;, serif" font-weight="normal" font-size="36" fill="#151515" stroke="#151515" stroke-width="0.55">5.71e-4</text>
<text transform="translate(687.73,806.10) scale(0.8660,1)" font-family="&apos;Liberation Serif&apos;, serif" font-weight="normal" font-size="36" fill="#151515" stroke="#151515" stroke-width="0.55">3.57e-4</text>
<text transform="translate(685.95,873.90) scale(0.8824,1)" font-family="&apos;Liberation Serif&apos;, serif" font-weight="normal" font-size="36" fill="#151515" stroke="#151515" stroke-width="0.55">1.43e-4</text>
<text transform="translate(1289.74,604.20) scale(0.8305,1)" font-family="&apos;Liberation Serif&apos;, serif" font-weight="normal" font-size="36" fill="#151515" stroke="#151515" stroke-width="0.55">.001</text>
<text transform="translate(1289.65,672.20) scale(0.8741,1)" font-family="&apos;Liberation Serif&apos;, serif" font-weight="normal" font-size="36" fill="#151515" stroke="#151515" stroke-width="0.55">7.86e-4</text>
<text transform="translate(1289.65,741.60) scale(0.8741,1)" font-family="&apos;Liberation Serif&apos;, serif" font-weight="normal" font-size="36" fill="#151515" stroke="#151515" stroke-width="0.55">5.71e-4</text>
<text transform="translate(1290.53,808.60) scale(0.8660,1)" font-family="&apos;Liberation Serif&apos;, serif" font-weight="normal" font-size="36" fill="#151515" stroke="#151515" stroke-width="0.55">3.57e-4</text>
<text transform="translate(1288.75,876.30) scale(0.8824,1)" font-family="&apos;Liberation Serif&apos;, serif" font-weight="normal" font-size="36" fill="#151515" stroke="#151515" stroke-width="0.55">1.43e-4</text>
<text transform="translate(52.20,953.00) scale(0.9043,1)" font-family="&apos;Liberation Serif&apos;, serif" font-weight="normal" font-size="35" fill="#151515" stroke="#151515" stroke-width="0.55">Velocity (m/s)</text>
<text transform="translate(642.20,953.00) scale(0.9043,1)" font-family="&apos;Liberation Serif&apos;, serif" font-weight="normal" font-size="35" fill="#151515" stroke="#151515" stroke-width="0.55">Velocity (m/s)</text>
<text transform="translate(1245.50,953.00) scale(0.9043,1)" font-family="&apos;Liberation Serif&apos;, serif" font-weight="normal" font-size="35" fill="#151515" stroke="#151515" stroke-width="0.55">Velocity (m/s)</text>
<text transform="translate(103.50,1102.40) scale(0.8626,1)" font-family="&apos;Liberation Serif&apos;, serif" font-weight="normal" font-size="36" fill="#151515" stroke="#151515" stroke-width="0.55">4.84e-4</text>
<text transform="translate(102.63,1169.70) scale(0.8706,1)" font-family="&apos;Liberation Serif&apos;, serif" font-weight="normal" font-size="36" fill="#151515" stroke="#151515" stroke-width="0.55">3.80e-4</text>
<text transform="translate(102.63,1239.30) scale(0.8706,1)" font-family="&apos;Liberation Serif&apos;, serif" font-weight="normal" font-size="36" fill="#151515" stroke="#151515" stroke-width="0.55">2.76e-4</text>
<text transform="translate(100.84,1306.70) scale(0.8871,1)" font-family="&apos;Liberation Serif&apos;, serif" font-weight="normal" font-size="36" fill="#151515" stroke="#151515" stroke-width="0.55">1.73e-4</text>
<text transform="translate(102.62,1374.40) scale(0.8788,1)" font-family="&apos;Liberation Serif&apos;, serif" font-weight="normal" font-size="36" fill="#151515" stroke="#151515" stroke-width="0.55">6.91e-5</text>
<text transform="translate(671.93,1087.10) scale(0.8741,1)" font-family="&apos;Liberation Serif&apos;, serif" font-weight="normal" font-size="36" fill="#151515" stroke="#151515" stroke-width="0.55">9.57e-3</text>
<text transform="translate(671.93,1194.10) scale(0.8741,1)" font-family="&apos;Liberation Serif&apos;, serif" font-weight="normal" font-size="36" fill="#151515" stroke="#151515" stroke-width="0.55">6.38e-3</text>
<text transform="translate(671.93,1298.40) scale(0.8741,1)" font-family="&apos;Liberation Serif&apos;, serif" font-weight="normal" font-size="36" fill="#151515" stroke="#151515" stroke-width="0.55">3.19e-3</text>
<text transform="translate(671.93,1400.00) scale(0.8741,1)" font-family="&apos;Liberation Serif&apos;, serif" font-weight="normal" font-size="36" fill="#151515" stroke="#151515" stroke-width="0.55">2.84e-6</text>
<text transform="translate(1290.32,1113.60) scale(0.8788,1)" font-family="&apos;Liberation Serif&apos;, serif" font-weight="normal" font-size="36" fill="#151515" stroke="#151515" stroke-width="0.55">6.09e-5</text>
<text transform="translate(1291.20,1180.90) scale(0.8706,1)" font-family="&apos;Liberation Serif&apos;, serif" font-weight="normal" font-size="36" fill="#151515" stroke="#151515" stroke-width="0.55">4.78e-5</text>
<text transform="translate(1290.32,1249.80) scale(0.8788,1)" font-family="&apos;Liberation Serif&apos;, serif" font-weight="normal" font-size="36" fill="#151515" stroke="#151515" stroke-width="0.55">3.48e-5</text>
<text transform="translate(1290.32,1317.70) scale(0.8788,1)" font-family="&apos;Liberation Serif&apos;, serif" font-weight="normal" font-size="36" fill="#151515" stroke="#151515" stroke-width="0.55">2.18e-5</text>
<text transform="translate(1290.32,1384.60) scale(0.8788,1)" font-family="&apos;Liberation Serif&apos;, serif" font-weight="normal" font-size="36" fill="#151515" stroke="#151515" stroke-width="0.55">8.78e-6</text>
<text transform="translate(54.14,1446.40) scale(0.8779,1)" font-family="&apos;Liberation Serif&apos;, serif" font-weight="normal" font-size="36" fill="#151515" stroke="#151515" stroke-width="0.55">Shear Stress (Pa)</text>
<text transform="translate(629.25,1446.50) scale(0.8742,1)" font-family="&apos;Liberation Serif&apos;, serif" font-weight="normal" font-size="36" fill="#151515" stroke="#151515" stroke-width="0.55">Shear Stress (Pa)</text>
<text transform="translate(1242.45,1458.20) scale(0.8742,1)" font-family="&apos;Liberation Serif&apos;, serif" font-weight="normal" font-size="36" fill="#151515" stroke="#151515" stroke-width="0.55">Shear Stress (Pa)</text>
</svg>
</body></html>
